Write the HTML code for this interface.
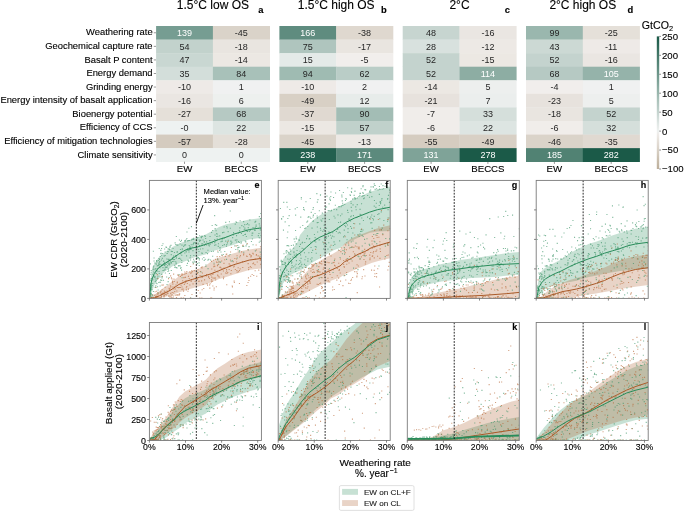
<!DOCTYPE html><html><head><meta charset="utf-8"><style>html,body{margin:0;padding:0;background:#fff}svg{display:block;will-change:transform}text{font-family:"Liberation Sans",sans-serif}</style></head><body>
<svg width="685" height="511" viewBox="0 0 685 511">
<rect width="685" height="511" fill="#fff"/>
<rect x="156.10" y="26.00" width="57.10" height="13.87" fill="#769d92"/>
<rect x="212.90" y="26.00" width="57.10" height="13.87" fill="#dad3c9"/>
<rect x="156.10" y="39.57" width="57.10" height="13.87" fill="#c2d2cc"/>
<rect x="212.90" y="39.57" width="57.10" height="13.87" fill="#e9e5e0"/>
<rect x="156.10" y="53.14" width="57.10" height="13.87" fill="#c9d7d2"/>
<rect x="212.90" y="53.14" width="57.10" height="13.87" fill="#ece8e3"/>
<rect x="156.10" y="66.71" width="57.10" height="13.87" fill="#d3deda"/>
<rect x="212.90" y="66.71" width="57.10" height="13.87" fill="#a8c1b9"/>
<rect x="156.10" y="80.28" width="57.10" height="13.87" fill="#eeeae7"/>
<rect x="212.90" y="80.28" width="57.10" height="13.87" fill="#f0f1f1"/>
<rect x="156.10" y="93.85" width="57.10" height="13.87" fill="#eae6e2"/>
<rect x="212.90" y="93.85" width="57.10" height="13.87" fill="#edf0ee"/>
<rect x="156.10" y="107.42" width="57.10" height="13.87" fill="#e5e0d9"/>
<rect x="212.90" y="107.42" width="57.10" height="13.87" fill="#b6c9c3"/>
<rect x="156.10" y="120.99" width="57.10" height="13.87" fill="#eef2f1"/>
<rect x="212.90" y="120.99" width="57.10" height="13.87" fill="#dde5e2"/>
<rect x="156.10" y="134.56" width="57.10" height="13.87" fill="#d4cbbf"/>
<rect x="212.90" y="134.56" width="57.10" height="13.87" fill="#e4dfd8"/>
<rect x="156.10" y="148.13" width="57.10" height="13.87" fill="#eef2f1"/>
<rect x="212.90" y="148.13" width="57.10" height="13.87" fill="#eef2f1"/>
<text x="184.50" y="35.98" font-size="9" fill="#ffffff" stroke="none" text-anchor="middle">139</text>
<text x="241.30" y="35.98" font-size="9" fill="#262626" stroke="none" text-anchor="middle">-45</text>
<text x="184.50" y="49.56" font-size="9" fill="#262626" stroke="none" text-anchor="middle">54</text>
<text x="241.30" y="49.56" font-size="9" fill="#262626" stroke="none" text-anchor="middle">-18</text>
<text x="184.50" y="63.12" font-size="9" fill="#262626" stroke="none" text-anchor="middle">47</text>
<text x="241.30" y="63.12" font-size="9" fill="#262626" stroke="none" text-anchor="middle">-14</text>
<text x="184.50" y="76.70" font-size="9" fill="#262626" stroke="none" text-anchor="middle">35</text>
<text x="241.30" y="76.70" font-size="9" fill="#262626" stroke="none" text-anchor="middle">84</text>
<text x="184.50" y="90.27" font-size="9" fill="#262626" stroke="none" text-anchor="middle">-10</text>
<text x="241.30" y="90.27" font-size="9" fill="#262626" stroke="none" text-anchor="middle">1</text>
<text x="184.50" y="103.83" font-size="9" fill="#262626" stroke="none" text-anchor="middle">-16</text>
<text x="241.30" y="103.83" font-size="9" fill="#262626" stroke="none" text-anchor="middle">6</text>
<text x="184.50" y="117.41" font-size="9" fill="#262626" stroke="none" text-anchor="middle">-27</text>
<text x="241.30" y="117.41" font-size="9" fill="#262626" stroke="none" text-anchor="middle">68</text>
<text x="184.50" y="130.97" font-size="9" fill="#262626" stroke="none" text-anchor="middle">-0</text>
<text x="241.30" y="130.97" font-size="9" fill="#262626" stroke="none" text-anchor="middle">22</text>
<text x="184.50" y="144.54" font-size="9" fill="#262626" stroke="none" text-anchor="middle">-57</text>
<text x="241.30" y="144.54" font-size="9" fill="#262626" stroke="none" text-anchor="middle">-28</text>
<text x="184.50" y="158.11" font-size="9" fill="#262626" stroke="none" text-anchor="middle">0</text>
<text x="241.30" y="158.11" font-size="9" fill="#262626" stroke="none" text-anchor="middle">0</text>
<line x1="184.50" y1="161.70" x2="184.50" y2="163.90" stroke="#555" stroke-width="0.6"/>
<text x="184.50" y="172.3" font-size="9.7" fill="#000" text-anchor="middle" stroke="#000" stroke-width="0.12">EW</text>
<line x1="241.30" y1="161.70" x2="241.30" y2="163.90" stroke="#555" stroke-width="0.6"/>
<text x="241.30" y="172.3" font-size="9.7" fill="#000" text-anchor="middle" stroke="#000" stroke-width="0.12">BECCS</text>
<text x="212.90" y="9.3" font-size="12" fill="#000" text-anchor="middle" stroke="#000" stroke-width="0.12">1.5°C low OS</text>
<text x="263.40" y="13.4" font-size="9.4" font-weight="bold" fill="#000" text-anchor="end" stroke="#000" stroke-width="0.12">a</text>
<rect x="279.40" y="26.00" width="57.10" height="13.87" fill="#5f8c7f"/>
<rect x="336.20" y="26.00" width="57.10" height="13.87" fill="#dfd8cf"/>
<rect x="279.40" y="39.57" width="57.10" height="13.87" fill="#afc5be"/>
<rect x="336.20" y="39.57" width="57.10" height="13.87" fill="#e9e5e0"/>
<rect x="279.40" y="53.14" width="57.10" height="13.87" fill="#e4eae8"/>
<rect x="336.20" y="53.14" width="57.10" height="13.87" fill="#f1eeec"/>
<rect x="279.40" y="66.71" width="57.10" height="13.87" fill="#9fbbb2"/>
<rect x="336.20" y="66.71" width="57.10" height="13.87" fill="#bacdc7"/>
<rect x="279.40" y="80.28" width="57.10" height="13.87" fill="#eeeae7"/>
<rect x="336.20" y="80.28" width="57.10" height="13.87" fill="#f0f1f1"/>
<rect x="279.40" y="93.85" width="57.10" height="13.87" fill="#d8d0c5"/>
<rect x="336.20" y="93.85" width="57.10" height="13.87" fill="#e7ecea"/>
<rect x="279.40" y="107.42" width="57.10" height="13.87" fill="#e0d9d1"/>
<rect x="336.20" y="107.42" width="57.10" height="13.87" fill="#a3bdb5"/>
<rect x="279.40" y="120.99" width="57.10" height="13.87" fill="#ece8e3"/>
<rect x="336.20" y="120.99" width="57.10" height="13.87" fill="#c0d1cb"/>
<rect x="279.40" y="134.56" width="57.10" height="13.87" fill="#dad3c9"/>
<rect x="336.20" y="134.56" width="57.10" height="13.87" fill="#ede9e5"/>
<rect x="279.40" y="148.13" width="57.10" height="13.87" fill="#23604f"/>
<rect x="336.20" y="148.13" width="57.10" height="13.87" fill="#5c8a7d"/>
<text x="307.80" y="35.98" font-size="9" fill="#ffffff" stroke="none" text-anchor="middle">166</text>
<text x="364.60" y="35.98" font-size="9" fill="#262626" stroke="none" text-anchor="middle">-38</text>
<text x="307.80" y="49.56" font-size="9" fill="#262626" stroke="none" text-anchor="middle">75</text>
<text x="364.60" y="49.56" font-size="9" fill="#262626" stroke="none" text-anchor="middle">-17</text>
<text x="307.80" y="63.12" font-size="9" fill="#262626" stroke="none" text-anchor="middle">15</text>
<text x="364.60" y="63.12" font-size="9" fill="#262626" stroke="none" text-anchor="middle">-5</text>
<text x="307.80" y="76.70" font-size="9" fill="#262626" stroke="none" text-anchor="middle">94</text>
<text x="364.60" y="76.70" font-size="9" fill="#262626" stroke="none" text-anchor="middle">62</text>
<text x="307.80" y="90.27" font-size="9" fill="#262626" stroke="none" text-anchor="middle">-10</text>
<text x="364.60" y="90.27" font-size="9" fill="#262626" stroke="none" text-anchor="middle">2</text>
<text x="307.80" y="103.83" font-size="9" fill="#262626" stroke="none" text-anchor="middle">-49</text>
<text x="364.60" y="103.83" font-size="9" fill="#262626" stroke="none" text-anchor="middle">12</text>
<text x="307.80" y="117.41" font-size="9" fill="#262626" stroke="none" text-anchor="middle">-37</text>
<text x="364.60" y="117.41" font-size="9" fill="#262626" stroke="none" text-anchor="middle">90</text>
<text x="307.80" y="130.97" font-size="9" fill="#262626" stroke="none" text-anchor="middle">-15</text>
<text x="364.60" y="130.97" font-size="9" fill="#262626" stroke="none" text-anchor="middle">57</text>
<text x="307.80" y="144.54" font-size="9" fill="#262626" stroke="none" text-anchor="middle">-45</text>
<text x="364.60" y="144.54" font-size="9" fill="#262626" stroke="none" text-anchor="middle">-13</text>
<text x="307.80" y="158.11" font-size="9" fill="#ffffff" stroke="none" text-anchor="middle">238</text>
<text x="364.60" y="158.11" font-size="9" fill="#ffffff" stroke="none" text-anchor="middle">171</text>
<line x1="307.80" y1="161.70" x2="307.80" y2="163.90" stroke="#555" stroke-width="0.6"/>
<text x="307.80" y="172.3" font-size="9.7" fill="#000" text-anchor="middle" stroke="#000" stroke-width="0.12">EW</text>
<line x1="364.60" y1="161.70" x2="364.60" y2="163.90" stroke="#555" stroke-width="0.6"/>
<text x="364.60" y="172.3" font-size="9.7" fill="#000" text-anchor="middle" stroke="#000" stroke-width="0.12">BECCS</text>
<text x="336.20" y="9.3" font-size="12" fill="#000" text-anchor="middle" stroke="#000" stroke-width="0.12">1.5°C high OS</text>
<text x="386.70" y="13.4" font-size="9.4" font-weight="bold" fill="#000" text-anchor="end" stroke="#000" stroke-width="0.12">b</text>
<rect x="402.70" y="26.00" width="57.10" height="13.87" fill="#c7d5d0"/>
<rect x="459.50" y="26.00" width="57.10" height="13.87" fill="#eae6e2"/>
<rect x="402.70" y="39.57" width="57.10" height="13.87" fill="#d8e1de"/>
<rect x="459.50" y="39.57" width="57.10" height="13.87" fill="#ede9e5"/>
<rect x="402.70" y="53.14" width="57.10" height="13.87" fill="#c4d3ce"/>
<rect x="459.50" y="53.14" width="57.10" height="13.87" fill="#ece8e3"/>
<rect x="402.70" y="66.71" width="57.10" height="13.87" fill="#c4d3ce"/>
<rect x="459.50" y="66.71" width="57.10" height="13.87" fill="#8dada3"/>
<rect x="402.70" y="80.28" width="57.10" height="13.87" fill="#ece8e3"/>
<rect x="459.50" y="80.28" width="57.10" height="13.87" fill="#edefee"/>
<rect x="402.70" y="93.85" width="57.10" height="13.87" fill="#e7e2dd"/>
<rect x="459.50" y="93.85" width="57.10" height="13.87" fill="#ebeeed"/>
<rect x="402.70" y="107.42" width="57.10" height="13.87" fill="#f0edea"/>
<rect x="459.50" y="107.42" width="57.10" height="13.87" fill="#d5dfdb"/>
<rect x="402.70" y="120.99" width="57.10" height="13.87" fill="#f0edea"/>
<rect x="459.50" y="120.99" width="57.10" height="13.87" fill="#dde5e2"/>
<rect x="402.70" y="134.56" width="57.10" height="13.87" fill="#d5ccc0"/>
<rect x="459.50" y="134.56" width="57.10" height="13.87" fill="#d8d0c5"/>
<rect x="402.70" y="148.13" width="57.10" height="13.87" fill="#7fa398"/>
<rect x="459.50" y="148.13" width="57.10" height="13.87" fill="#1b5a48"/>
<text x="431.10" y="35.98" font-size="9" fill="#262626" stroke="none" text-anchor="middle">48</text>
<text x="487.90" y="35.98" font-size="9" fill="#262626" stroke="none" text-anchor="middle">-16</text>
<text x="431.10" y="49.56" font-size="9" fill="#262626" stroke="none" text-anchor="middle">28</text>
<text x="487.90" y="49.56" font-size="9" fill="#262626" stroke="none" text-anchor="middle">-12</text>
<text x="431.10" y="63.12" font-size="9" fill="#262626" stroke="none" text-anchor="middle">52</text>
<text x="487.90" y="63.12" font-size="9" fill="#262626" stroke="none" text-anchor="middle">-15</text>
<text x="431.10" y="76.70" font-size="9" fill="#262626" stroke="none" text-anchor="middle">52</text>
<text x="487.90" y="76.70" font-size="9" fill="#ffffff" stroke="none" text-anchor="middle">114</text>
<text x="431.10" y="90.27" font-size="9" fill="#262626" stroke="none" text-anchor="middle">-14</text>
<text x="487.90" y="90.27" font-size="9" fill="#262626" stroke="none" text-anchor="middle">5</text>
<text x="431.10" y="103.83" font-size="9" fill="#262626" stroke="none" text-anchor="middle">-21</text>
<text x="487.90" y="103.83" font-size="9" fill="#262626" stroke="none" text-anchor="middle">7</text>
<text x="431.10" y="117.41" font-size="9" fill="#262626" stroke="none" text-anchor="middle">-7</text>
<text x="487.90" y="117.41" font-size="9" fill="#262626" stroke="none" text-anchor="middle">33</text>
<text x="431.10" y="130.97" font-size="9" fill="#262626" stroke="none" text-anchor="middle">-6</text>
<text x="487.90" y="130.97" font-size="9" fill="#262626" stroke="none" text-anchor="middle">22</text>
<text x="431.10" y="144.54" font-size="9" fill="#262626" stroke="none" text-anchor="middle">-55</text>
<text x="487.90" y="144.54" font-size="9" fill="#262626" stroke="none" text-anchor="middle">-49</text>
<text x="431.10" y="158.11" font-size="9" fill="#ffffff" stroke="none" text-anchor="middle">131</text>
<text x="487.90" y="158.11" font-size="9" fill="#ffffff" stroke="none" text-anchor="middle">278</text>
<line x1="431.10" y1="161.70" x2="431.10" y2="163.90" stroke="#555" stroke-width="0.6"/>
<text x="431.10" y="172.3" font-size="9.7" fill="#000" text-anchor="middle" stroke="#000" stroke-width="0.12">EW</text>
<line x1="487.90" y1="161.70" x2="487.90" y2="163.90" stroke="#555" stroke-width="0.6"/>
<text x="487.90" y="172.3" font-size="9.7" fill="#000" text-anchor="middle" stroke="#000" stroke-width="0.12">BECCS</text>
<text x="459.50" y="9.3" font-size="12" fill="#000" text-anchor="middle" stroke="#000" stroke-width="0.12">2°C</text>
<text x="510.00" y="13.4" font-size="9.4" font-weight="bold" fill="#000" text-anchor="end" stroke="#000" stroke-width="0.12">c</text>
<rect x="526.00" y="26.00" width="57.10" height="13.87" fill="#9ab7ae"/>
<rect x="582.80" y="26.00" width="57.10" height="13.87" fill="#e5e0d9"/>
<rect x="526.00" y="39.57" width="57.10" height="13.87" fill="#ccd9d4"/>
<rect x="582.80" y="39.57" width="57.10" height="13.87" fill="#eeeae7"/>
<rect x="526.00" y="53.14" width="57.10" height="13.87" fill="#c4d3ce"/>
<rect x="582.80" y="53.14" width="57.10" height="13.87" fill="#eae6e2"/>
<rect x="526.00" y="66.71" width="57.10" height="13.87" fill="#b6c9c3"/>
<rect x="582.80" y="66.71" width="57.10" height="13.87" fill="#95b3aa"/>
<rect x="526.00" y="80.28" width="57.10" height="13.87" fill="#f1eeec"/>
<rect x="582.80" y="80.28" width="57.10" height="13.87" fill="#f0f1f1"/>
<rect x="526.00" y="93.85" width="57.10" height="13.87" fill="#e7e2dd"/>
<rect x="582.80" y="93.85" width="57.10" height="13.87" fill="#edefee"/>
<rect x="526.00" y="107.42" width="57.10" height="13.87" fill="#e9e5e0"/>
<rect x="582.80" y="107.42" width="57.10" height="13.87" fill="#c4d3ce"/>
<rect x="526.00" y="120.99" width="57.10" height="13.87" fill="#f0edea"/>
<rect x="582.80" y="120.99" width="57.10" height="13.87" fill="#d5dfdb"/>
<rect x="526.00" y="134.56" width="57.10" height="13.87" fill="#dad3c9"/>
<rect x="582.80" y="134.56" width="57.10" height="13.87" fill="#e0d9d1"/>
<rect x="526.00" y="148.13" width="57.10" height="13.87" fill="#518273"/>
<rect x="582.80" y="148.13" width="57.10" height="13.87" fill="#1b5a48"/>
<text x="554.40" y="35.98" font-size="9" fill="#262626" stroke="none" text-anchor="middle">99</text>
<text x="611.20" y="35.98" font-size="9" fill="#262626" stroke="none" text-anchor="middle">-25</text>
<text x="554.40" y="49.56" font-size="9" fill="#262626" stroke="none" text-anchor="middle">43</text>
<text x="611.20" y="49.56" font-size="9" fill="#262626" stroke="none" text-anchor="middle">-11</text>
<text x="554.40" y="63.12" font-size="9" fill="#262626" stroke="none" text-anchor="middle">52</text>
<text x="611.20" y="63.12" font-size="9" fill="#262626" stroke="none" text-anchor="middle">-16</text>
<text x="554.40" y="76.70" font-size="9" fill="#262626" stroke="none" text-anchor="middle">68</text>
<text x="611.20" y="76.70" font-size="9" fill="#ffffff" stroke="none" text-anchor="middle">105</text>
<text x="554.40" y="90.27" font-size="9" fill="#262626" stroke="none" text-anchor="middle">-4</text>
<text x="611.20" y="90.27" font-size="9" fill="#262626" stroke="none" text-anchor="middle">1</text>
<text x="554.40" y="103.83" font-size="9" fill="#262626" stroke="none" text-anchor="middle">-23</text>
<text x="611.20" y="103.83" font-size="9" fill="#262626" stroke="none" text-anchor="middle">5</text>
<text x="554.40" y="117.41" font-size="9" fill="#262626" stroke="none" text-anchor="middle">-18</text>
<text x="611.20" y="117.41" font-size="9" fill="#262626" stroke="none" text-anchor="middle">52</text>
<text x="554.40" y="130.97" font-size="9" fill="#262626" stroke="none" text-anchor="middle">-6</text>
<text x="611.20" y="130.97" font-size="9" fill="#262626" stroke="none" text-anchor="middle">32</text>
<text x="554.40" y="144.54" font-size="9" fill="#262626" stroke="none" text-anchor="middle">-46</text>
<text x="611.20" y="144.54" font-size="9" fill="#262626" stroke="none" text-anchor="middle">-35</text>
<text x="554.40" y="158.11" font-size="9" fill="#ffffff" stroke="none" text-anchor="middle">185</text>
<text x="611.20" y="158.11" font-size="9" fill="#ffffff" stroke="none" text-anchor="middle">282</text>
<line x1="554.40" y1="161.70" x2="554.40" y2="163.90" stroke="#555" stroke-width="0.6"/>
<text x="554.40" y="172.3" font-size="9.7" fill="#000" text-anchor="middle" stroke="#000" stroke-width="0.12">EW</text>
<line x1="611.20" y1="161.70" x2="611.20" y2="163.90" stroke="#555" stroke-width="0.6"/>
<text x="611.20" y="172.3" font-size="9.7" fill="#000" text-anchor="middle" stroke="#000" stroke-width="0.12">BECCS</text>
<text x="582.80" y="9.3" font-size="12" fill="#000" text-anchor="middle" stroke="#000" stroke-width="0.12">2°C high OS</text>
<text x="633.30" y="13.4" font-size="9.4" font-weight="bold" fill="#000" text-anchor="end" stroke="#000" stroke-width="0.12">d</text>
<text x="152.6" y="35.48" font-size="9.4" fill="#000" text-anchor="end" stroke="#000" stroke-width="0.12">Weathering rate</text>
<line x1="153.8" y1="32.78" x2="156" y2="32.78" stroke="#555" stroke-width="0.6"/>
<text x="152.6" y="49.06" font-size="9.4" fill="#000" text-anchor="end" stroke="#000" stroke-width="0.12">Geochemical capture rate</text>
<line x1="153.8" y1="46.36" x2="156" y2="46.36" stroke="#555" stroke-width="0.6"/>
<text x="152.6" y="62.62" font-size="9.4" fill="#000" text-anchor="end" stroke="#000" stroke-width="0.12">Basalt P content</text>
<line x1="153.8" y1="59.92" x2="156" y2="59.92" stroke="#555" stroke-width="0.6"/>
<text x="152.6" y="76.20" font-size="9.4" fill="#000" text-anchor="end" stroke="#000" stroke-width="0.12">Energy demand</text>
<line x1="153.8" y1="73.50" x2="156" y2="73.50" stroke="#555" stroke-width="0.6"/>
<text x="152.6" y="89.77" font-size="9.4" fill="#000" text-anchor="end" stroke="#000" stroke-width="0.12">Grinding energy</text>
<line x1="153.8" y1="87.06" x2="156" y2="87.06" stroke="#555" stroke-width="0.6"/>
<text x="152.6" y="103.33" font-size="9.4" fill="#000" text-anchor="end" stroke="#000" stroke-width="0.12">Energy intensity of basalt application</text>
<line x1="153.8" y1="100.63" x2="156" y2="100.63" stroke="#555" stroke-width="0.6"/>
<text x="152.6" y="116.91" font-size="9.4" fill="#000" text-anchor="end" stroke="#000" stroke-width="0.12">Bioenergy potential</text>
<line x1="153.8" y1="114.20" x2="156" y2="114.20" stroke="#555" stroke-width="0.6"/>
<text x="152.6" y="130.47" font-size="9.4" fill="#000" text-anchor="end" stroke="#000" stroke-width="0.12">Efficiency of CCS</text>
<line x1="153.8" y1="127.78" x2="156" y2="127.78" stroke="#555" stroke-width="0.6"/>
<text x="152.6" y="144.04" font-size="9.4" fill="#000" text-anchor="end" stroke="#000" stroke-width="0.12">Efficiency of mitigation technologies</text>
<line x1="153.8" y1="141.34" x2="156" y2="141.34" stroke="#555" stroke-width="0.6"/>
<text x="152.6" y="157.61" font-size="9.4" fill="#000" text-anchor="end" stroke="#000" stroke-width="0.12">Climate sensitivity</text>
<line x1="153.8" y1="154.91" x2="156" y2="154.91" stroke="#555" stroke-width="0.6"/>
<defs><linearGradient id="cbg" x1="0" y1="1" x2="0" y2="0">
<stop offset="0.0000" stop-color="#bcae9a"/>
<stop offset="0.0286" stop-color="#c2b5a2"/>
<stop offset="0.0571" stop-color="#c7bbaa"/>
<stop offset="0.0857" stop-color="#ccc2b3"/>
<stop offset="0.1143" stop-color="#d3cabd"/>
<stop offset="0.1429" stop-color="#d8d0c5"/>
<stop offset="0.1714" stop-color="#ded7ce"/>
<stop offset="0.2000" stop-color="#e3ddd6"/>
<stop offset="0.2286" stop-color="#e8e4de"/>
<stop offset="0.2571" stop-color="#eeeae7"/>
<stop offset="0.2857" stop-color="#eef2f1"/>
<stop offset="0.3143" stop-color="#e8ecea"/>
<stop offset="0.3429" stop-color="#e0e7e5"/>
<stop offset="0.3714" stop-color="#d7e0dd"/>
<stop offset="0.4000" stop-color="#cddad6"/>
<stop offset="0.4286" stop-color="#c5d4cf"/>
<stop offset="0.4571" stop-color="#bacdc7"/>
<stop offset="0.4857" stop-color="#b4c8c2"/>
<stop offset="0.5143" stop-color="#acc3bb"/>
<stop offset="0.5429" stop-color="#a3bdb5"/>
<stop offset="0.5714" stop-color="#99b6ad"/>
<stop offset="0.6000" stop-color="#91b0a6"/>
<stop offset="0.6286" stop-color="#88aaa0"/>
<stop offset="0.6571" stop-color="#7fa398"/>
<stop offset="0.6857" stop-color="#769d92"/>
<stop offset="0.7143" stop-color="#6e978b"/>
<stop offset="0.7429" stop-color="#649083"/>
<stop offset="0.7714" stop-color="#5c8a7d"/>
<stop offset="0.8000" stop-color="#548476"/>
<stop offset="0.8286" stop-color="#4c7e6f"/>
<stop offset="0.8571" stop-color="#447869"/>
<stop offset="0.8857" stop-color="#3b7262"/>
<stop offset="0.9143" stop-color="#326b5a"/>
<stop offset="0.9429" stop-color="#296554"/>
<stop offset="0.9714" stop-color="#215f4d"/>
<stop offset="1.0000" stop-color="#1b5a48"/>
</linearGradient></defs>
<rect x="656.8" y="36.4" width="2.4" height="132.60" fill="url(#cbg)"/>
<line x1="659.20" y1="36.40" x2="661.00" y2="36.40" stroke="#444" stroke-width="0.6"/>
<text x="662" y="39.80" font-size="9.6" fill="#000" stroke="#000" stroke-width="0.12">250</text>
<line x1="659.20" y1="55.34" x2="661.00" y2="55.34" stroke="#444" stroke-width="0.6"/>
<text x="662" y="58.74" font-size="9.6" fill="#000" stroke="#000" stroke-width="0.12">200</text>
<line x1="659.20" y1="74.29" x2="661.00" y2="74.29" stroke="#444" stroke-width="0.6"/>
<text x="662" y="77.69" font-size="9.6" fill="#000" stroke="#000" stroke-width="0.12">150</text>
<line x1="659.20" y1="93.23" x2="661.00" y2="93.23" stroke="#444" stroke-width="0.6"/>
<text x="662" y="96.63" font-size="9.6" fill="#000" stroke="#000" stroke-width="0.12">100</text>
<line x1="659.20" y1="112.17" x2="661.00" y2="112.17" stroke="#444" stroke-width="0.6"/>
<text x="662" y="115.57" font-size="9.6" fill="#000" stroke="#000" stroke-width="0.12">50</text>
<line x1="659.20" y1="131.11" x2="661.00" y2="131.11" stroke="#444" stroke-width="0.6"/>
<text x="662" y="134.51" font-size="9.6" fill="#000" stroke="#000" stroke-width="0.12">0</text>
<line x1="659.20" y1="150.06" x2="661.00" y2="150.06" stroke="#444" stroke-width="0.6"/>
<text x="662" y="153.46" font-size="9.6" fill="#000" stroke="#000" stroke-width="0.12">−50</text>
<line x1="659.20" y1="169.00" x2="661.00" y2="169.00" stroke="#444" stroke-width="0.6"/>
<text x="662" y="172.40" font-size="9.6" fill="#000" stroke="#000" stroke-width="0.12">−100</text>
<text x="641.8" y="29.2" font-size="10.6" fill="#000" stroke="#000" stroke-width="0.12">GtCO<tspan font-size="7.4" dy="1.9">2</tspan></text>

<clipPath id="ce"><rect x="149.40" y="180.40" width="112.0" height="118.0"/></clipPath>
<g clip-path="url(#ce)">
<polygon points="149.40,297.00 150.10,284.00 151.10,274.60 153.20,266.10 156.40,260.80 159.50,256.60 164.80,252.40 170.10,249.20 172.00,247.20 178.80,243.80 185.70,241.00 192.50,239.00 199.40,236.90 206.20,234.30 211.00,231.50 218.60,227.30 226.30,224.20 233.90,222.70 241.50,221.20 249.20,219.60 261.40,218.00 261.40,237.80 249.20,239.50 241.50,241.80 233.90,244.80 226.30,247.10 218.60,249.40 211.00,251.50 206.20,254.20 199.40,256.10 192.50,258.10 185.70,260.90 178.80,263.60 172.00,266.50 170.10,268.30 164.80,271.40 160.60,275.70 157.40,279.90 154.30,285.10 152.20,291.50 150.60,297.80 149.40,298.40" fill="rgb(40,140,90)" fill-opacity="0.26"/>
<polygon points="149.40,298.40 152.10,296.50 156.70,293.00 164.80,287.00 172.00,281.50 178.80,276.50 185.70,272.80 192.50,270.50 199.40,268.40 206.20,265.30 211.00,261.50 218.60,257.80 226.30,255.50 233.90,253.20 241.50,250.90 249.20,249.40 261.40,247.80 261.40,268.40 249.20,270.00 241.50,272.30 233.90,274.60 226.30,276.90 218.60,279.20 211.00,282.20 206.20,284.20 199.40,286.20 192.50,288.30 185.70,290.30 178.80,292.40 172.00,295.10 164.80,297.00 156.70,298.20 149.40,298.40" fill="rgb(170,90,40)" fill-opacity="0.26"/>
<path d="M154.8 286.9h1.1v1.1h-1.1zM217.3 235.7h1.1v1.1h-1.1zM227.7 239.7h1.1v1.1h-1.1zM150.6 288.7h1.1v1.1h-1.1zM251.8 232.5h1.1v1.1h-1.1zM158.4 262.6h1.1v1.1h-1.1zM157.4 275.7h1.1v1.1h-1.1zM158.9 258.8h1.1v1.1h-1.1zM193.2 237.7h1.1v1.1h-1.1zM205.4 264.4h1.1v1.1h-1.1zM223.6 237.7h1.1v1.1h-1.1zM157.7 260.0h1.1v1.1h-1.1zM180.5 266.9h1.1v1.1h-1.1zM244.2 224.1h1.1v1.1h-1.1zM200.1 239.7h1.1v1.1h-1.1zM223.8 244.1h1.1v1.1h-1.1zM189.8 249.0h1.1v1.1h-1.1zM236.3 239.3h1.1v1.1h-1.1zM229.8 227.7h1.1v1.1h-1.1zM205.8 244.5h1.1v1.1h-1.1zM214.8 224.1h1.1v1.1h-1.1zM188.1 260.5h1.1v1.1h-1.1zM209.2 240.0h1.1v1.1h-1.1zM213.5 262.7h1.1v1.1h-1.1zM159.5 263.8h1.1v1.1h-1.1zM201.7 252.8h1.1v1.1h-1.1zM168.9 273.0h1.1v1.1h-1.1zM189.5 245.9h1.1v1.1h-1.1zM158.8 281.7h1.1v1.1h-1.1zM214.6 228.1h1.1v1.1h-1.1zM207.0 253.1h1.1v1.1h-1.1zM155.7 270.3h1.1v1.1h-1.1zM239.3 227.3h1.1v1.1h-1.1zM152.2 295.4h1.1v1.1h-1.1zM151.2 286.6h1.1v1.1h-1.1zM175.6 263.4h1.1v1.1h-1.1zM181.2 254.7h1.1v1.1h-1.1zM196.3 247.3h1.1v1.1h-1.1zM176.7 251.0h1.1v1.1h-1.1zM198.6 239.5h1.1v1.1h-1.1zM214.2 242.1h1.1v1.1h-1.1zM260.8 232.5h1.1v1.1h-1.1zM166.3 258.4h1.1v1.1h-1.1zM259.7 240.6h1.1v1.1h-1.1zM151.7 284.9h1.1v1.1h-1.1zM236.1 222.0h1.1v1.1h-1.1zM170.7 262.7h1.1v1.1h-1.1zM157.1 277.4h1.1v1.1h-1.1zM150.0 296.0h1.1v1.1h-1.1zM154.7 278.4h1.1v1.1h-1.1zM149.7 296.0h1.1v1.1h-1.1zM156.5 283.2h1.1v1.1h-1.1zM180.4 252.0h1.1v1.1h-1.1zM192.5 244.1h1.1v1.1h-1.1zM202.3 248.2h1.1v1.1h-1.1zM196.9 262.9h1.1v1.1h-1.1zM196.2 233.9h1.1v1.1h-1.1zM174.8 266.5h1.1v1.1h-1.1zM152.0 294.8h1.1v1.1h-1.1zM155.3 296.8h1.1v1.1h-1.1zM152.3 273.7h1.1v1.1h-1.1zM255.1 220.8h1.1v1.1h-1.1zM156.3 261.3h1.1v1.1h-1.1zM218.0 263.7h1.1v1.1h-1.1zM233.0 232.1h1.1v1.1h-1.1zM225.2 240.6h1.1v1.1h-1.1zM164.4 264.5h1.1v1.1h-1.1zM150.2 297.4h1.1v1.1h-1.1zM153.7 275.5h1.1v1.1h-1.1zM150.7 296.3h1.1v1.1h-1.1zM150.6 287.2h1.1v1.1h-1.1zM236.0 235.1h1.1v1.1h-1.1zM254.6 229.8h1.1v1.1h-1.1zM211.0 232.0h1.1v1.1h-1.1zM258.7 241.7h1.1v1.1h-1.1zM153.5 260.5h1.1v1.1h-1.1zM166.5 253.0h1.1v1.1h-1.1zM157.6 289.5h1.1v1.1h-1.1zM201.4 235.5h1.1v1.1h-1.1zM214.5 234.5h1.1v1.1h-1.1zM163.2 261.0h1.1v1.1h-1.1zM180.1 253.2h1.1v1.1h-1.1zM155.8 273.0h1.1v1.1h-1.1zM234.7 223.6h1.1v1.1h-1.1zM149.7 294.3h1.1v1.1h-1.1zM178.1 257.9h1.1v1.1h-1.1zM163.1 261.0h1.1v1.1h-1.1zM165.4 246.6h1.1v1.1h-1.1zM150.1 297.4h1.1v1.1h-1.1zM236.7 257.4h1.1v1.1h-1.1zM170.7 254.1h1.1v1.1h-1.1zM223.6 226.4h1.1v1.1h-1.1zM175.8 267.1h1.1v1.1h-1.1zM186.3 237.9h1.1v1.1h-1.1zM248.9 230.7h1.1v1.1h-1.1zM196.5 257.6h1.1v1.1h-1.1zM175.2 261.2h1.1v1.1h-1.1zM247.0 230.8h1.1v1.1h-1.1zM201.2 252.5h1.1v1.1h-1.1zM186.3 265.0h1.1v1.1h-1.1zM151.7 294.2h1.1v1.1h-1.1zM159.5 276.5h1.1v1.1h-1.1zM169.1 263.8h1.1v1.1h-1.1zM211.1 250.9h1.1v1.1h-1.1zM212.1 255.7h1.1v1.1h-1.1zM172.8 258.9h1.1v1.1h-1.1zM175.8 235.9h1.1v1.1h-1.1zM190.7 244.2h1.1v1.1h-1.1zM212.1 229.9h1.1v1.1h-1.1zM255.0 221.1h1.1v1.1h-1.1zM164.1 262.7h1.1v1.1h-1.1zM150.4 297.4h1.1v1.1h-1.1zM245.4 229.3h1.1v1.1h-1.1zM206.1 241.3h1.1v1.1h-1.1zM190.0 255.2h1.1v1.1h-1.1zM187.2 240.5h1.1v1.1h-1.1zM255.6 224.5h1.1v1.1h-1.1zM226.2 226.0h1.1v1.1h-1.1zM210.0 259.5h1.1v1.1h-1.1zM177.9 265.3h1.1v1.1h-1.1zM158.0 265.0h1.1v1.1h-1.1zM203.7 259.9h1.1v1.1h-1.1zM158.5 271.0h1.1v1.1h-1.1zM174.3 266.8h1.1v1.1h-1.1zM204.2 235.1h1.1v1.1h-1.1zM154.7 281.0h1.1v1.1h-1.1zM222.0 237.8h1.1v1.1h-1.1zM166.7 252.9h1.1v1.1h-1.1zM174.2 264.8h1.1v1.1h-1.1zM153.3 268.5h1.1v1.1h-1.1zM224.2 251.0h1.1v1.1h-1.1zM178.4 265.1h1.1v1.1h-1.1zM208.4 244.3h1.1v1.1h-1.1zM201.0 237.2h1.1v1.1h-1.1zM220.4 251.5h1.1v1.1h-1.1zM164.1 248.5h1.1v1.1h-1.1zM258.4 232.9h1.1v1.1h-1.1zM203.7 241.1h1.1v1.1h-1.1zM214.0 244.7h1.1v1.1h-1.1zM257.8 235.1h1.1v1.1h-1.1zM221.6 239.3h1.1v1.1h-1.1zM189.1 248.1h1.1v1.1h-1.1zM158.9 266.5h1.1v1.1h-1.1zM189.8 246.9h1.1v1.1h-1.1zM237.8 232.7h1.1v1.1h-1.1zM246.2 243.7h1.1v1.1h-1.1zM243.1 245.9h1.1v1.1h-1.1zM229.7 210.5h1.1v1.1h-1.1zM219.5 247.3h1.1v1.1h-1.1zM164.8 266.7h1.1v1.1h-1.1zM249.6 230.0h1.1v1.1h-1.1zM179.9 249.0h1.1v1.1h-1.1zM160.6 265.9h1.1v1.1h-1.1zM154.6 269.2h1.1v1.1h-1.1zM156.4 278.3h1.1v1.1h-1.1zM261.0 235.6h1.1v1.1h-1.1zM244.9 233.8h1.1v1.1h-1.1zM196.1 238.7h1.1v1.1h-1.1zM226.2 244.0h1.1v1.1h-1.1zM164.5 269.1h1.1v1.1h-1.1zM217.7 245.8h1.1v1.1h-1.1zM259.7 251.6h1.1v1.1h-1.1zM164.0 255.4h1.1v1.1h-1.1zM238.7 251.3h1.1v1.1h-1.1zM158.2 281.9h1.1v1.1h-1.1zM181.3 261.9h1.1v1.1h-1.1zM166.4 266.8h1.1v1.1h-1.1zM181.7 248.3h1.1v1.1h-1.1zM192.4 250.1h1.1v1.1h-1.1zM245.3 241.3h1.1v1.1h-1.1zM218.6 261.5h1.1v1.1h-1.1zM193.0 258.7h1.1v1.1h-1.1zM242.6 234.9h1.1v1.1h-1.1zM216.1 235.9h1.1v1.1h-1.1zM150.0 295.9h1.1v1.1h-1.1zM157.0 286.2h1.1v1.1h-1.1zM204.7 235.8h1.1v1.1h-1.1zM221.6 240.9h1.1v1.1h-1.1zM186.4 231.4h1.1v1.1h-1.1zM183.9 244.6h1.1v1.1h-1.1zM161.9 265.0h1.1v1.1h-1.1zM194.5 261.4h1.1v1.1h-1.1zM149.7 292.8h1.1v1.1h-1.1zM155.7 263.7h1.1v1.1h-1.1zM151.3 289.0h1.1v1.1h-1.1zM150.9 297.4h1.1v1.1h-1.1zM214.1 215.1h1.1v1.1h-1.1zM201.4 275.6h1.1v1.1h-1.1zM243.1 221.1h1.1v1.1h-1.1zM150.7 288.4h1.1v1.1h-1.1zM150.2 294.2h1.1v1.1h-1.1zM238.8 241.9h1.1v1.1h-1.1zM220.0 261.6h1.1v1.1h-1.1zM238.0 241.1h1.1v1.1h-1.1zM153.3 297.4h1.1v1.1h-1.1zM190.0 259.4h1.1v1.1h-1.1zM223.3 231.8h1.1v1.1h-1.1zM187.5 259.8h1.1v1.1h-1.1zM227.6 231.1h1.1v1.1h-1.1zM172.1 257.1h1.1v1.1h-1.1zM166.0 266.6h1.1v1.1h-1.1zM171.5 258.9h1.1v1.1h-1.1zM217.9 243.2h1.1v1.1h-1.1zM150.3 290.0h1.1v1.1h-1.1zM155.5 280.1h1.1v1.1h-1.1zM197.5 243.7h1.1v1.1h-1.1zM209.5 236.0h1.1v1.1h-1.1zM255.5 225.8h1.1v1.1h-1.1zM259.3 225.4h1.1v1.1h-1.1zM168.6 249.0h1.1v1.1h-1.1zM199.5 240.0h1.1v1.1h-1.1zM251.5 234.8h1.1v1.1h-1.1zM170.7 269.9h1.1v1.1h-1.1zM207.4 259.6h1.1v1.1h-1.1zM164.1 261.9h1.1v1.1h-1.1zM180.1 267.8h1.1v1.1h-1.1zM245.5 245.3h1.1v1.1h-1.1zM232.1 237.1h1.1v1.1h-1.1zM230.3 243.7h1.1v1.1h-1.1zM246.2 230.3h1.1v1.1h-1.1zM152.3 279.2h1.1v1.1h-1.1zM231.4 241.7h1.1v1.1h-1.1zM165.6 266.9h1.1v1.1h-1.1zM254.4 221.6h1.1v1.1h-1.1zM156.9 268.3h1.1v1.1h-1.1zM230.3 241.0h1.1v1.1h-1.1zM171.9 260.9h1.1v1.1h-1.1zM259.9 227.9h1.1v1.1h-1.1zM185.0 244.3h1.1v1.1h-1.1zM238.4 246.8h1.1v1.1h-1.1zM156.7 265.3h1.1v1.1h-1.1zM243.7 229.0h1.1v1.1h-1.1zM188.3 249.6h1.1v1.1h-1.1zM217.1 258.5h1.1v1.1h-1.1zM202.5 239.4h1.1v1.1h-1.1zM176.6 251.8h1.1v1.1h-1.1zM161.0 259.4h1.1v1.1h-1.1zM199.1 241.0h1.1v1.1h-1.1zM166.0 246.8h1.1v1.1h-1.1zM181.2 259.9h1.1v1.1h-1.1zM157.8 292.5h1.1v1.1h-1.1zM219.1 249.9h1.1v1.1h-1.1zM254.6 227.1h1.1v1.1h-1.1zM191.6 246.6h1.1v1.1h-1.1zM188.4 251.5h1.1v1.1h-1.1zM188.1 260.8h1.1v1.1h-1.1zM207.5 268.1h1.1v1.1h-1.1zM180.2 258.7h1.1v1.1h-1.1zM198.0 257.0h1.1v1.1h-1.1zM159.6 285.4h1.1v1.1h-1.1zM198.7 265.0h1.1v1.1h-1.1zM160.8 279.8h1.1v1.1h-1.1zM154.1 276.8h1.1v1.1h-1.1zM229.5 254.0h1.1v1.1h-1.1zM254.8 250.3h1.1v1.1h-1.1zM251.9 238.5h1.1v1.1h-1.1zM193.3 255.0h1.1v1.1h-1.1zM222.0 232.1h1.1v1.1h-1.1zM181.7 249.2h1.1v1.1h-1.1zM194.3 261.4h1.1v1.1h-1.1zM207.8 244.5h1.1v1.1h-1.1zM168.3 262.2h1.1v1.1h-1.1zM219.2 235.3h1.1v1.1h-1.1zM226.6 227.3h1.1v1.1h-1.1zM158.6 266.7h1.1v1.1h-1.1zM161.5 276.1h1.1v1.1h-1.1zM150.2 297.4h1.1v1.1h-1.1zM240.7 241.4h1.1v1.1h-1.1zM150.8 285.6h1.1v1.1h-1.1zM160.0 279.4h1.1v1.1h-1.1zM252.5 244.2h1.1v1.1h-1.1zM198.8 257.9h1.1v1.1h-1.1zM183.1 245.8h1.1v1.1h-1.1zM166.5 283.9h1.1v1.1h-1.1zM260.9 229.9h1.1v1.1h-1.1zM215.0 240.4h1.1v1.1h-1.1zM245.8 236.0h1.1v1.1h-1.1zM174.0 259.0h1.1v1.1h-1.1zM160.0 281.7h1.1v1.1h-1.1zM216.7 238.5h1.1v1.1h-1.1zM150.5 297.4h1.1v1.1h-1.1zM240.5 242.6h1.1v1.1h-1.1zM156.9 270.5h1.1v1.1h-1.1zM150.7 293.0h1.1v1.1h-1.1zM158.7 272.9h1.1v1.1h-1.1zM176.0 267.0h1.1v1.1h-1.1zM260.8 238.6h1.1v1.1h-1.1zM168.7 264.3h1.1v1.1h-1.1zM193.8 242.2h1.1v1.1h-1.1zM205.0 243.4h1.1v1.1h-1.1zM181.4 244.6h1.1v1.1h-1.1zM154.6 272.4h1.1v1.1h-1.1zM154.7 276.3h1.1v1.1h-1.1zM152.0 277.4h1.1v1.1h-1.1zM198.8 259.3h1.1v1.1h-1.1zM175.9 256.5h1.1v1.1h-1.1zM162.4 269.9h1.1v1.1h-1.1zM152.9 291.0h1.1v1.1h-1.1zM164.5 268.6h1.1v1.1h-1.1zM259.7 229.2h1.1v1.1h-1.1zM258.8 216.1h1.1v1.1h-1.1zM235.2 249.0h1.1v1.1h-1.1zM168.5 260.2h1.1v1.1h-1.1zM158.9 261.5h1.1v1.1h-1.1zM199.1 235.2h1.1v1.1h-1.1zM188.7 244.9h1.1v1.1h-1.1zM166.1 276.4h1.1v1.1h-1.1zM164.8 272.4h1.1v1.1h-1.1zM167.8 268.6h1.1v1.1h-1.1zM166.8 261.1h1.1v1.1h-1.1zM161.5 277.3h1.1v1.1h-1.1zM242.3 245.8h1.1v1.1h-1.1zM203.3 256.9h1.1v1.1h-1.1zM195.9 246.4h1.1v1.1h-1.1zM240.9 233.0h1.1v1.1h-1.1zM199.9 248.5h1.1v1.1h-1.1zM260.2 212.9h1.1v1.1h-1.1zM173.9 252.0h1.1v1.1h-1.1zM195.8 247.1h1.1v1.1h-1.1zM188.3 227.7h1.1v1.1h-1.1zM196.5 256.4h1.1v1.1h-1.1zM217.4 259.4h1.1v1.1h-1.1zM226.5 235.9h1.1v1.1h-1.1zM167.5 262.8h1.1v1.1h-1.1zM241.3 225.1h1.1v1.1h-1.1zM170.4 261.8h1.1v1.1h-1.1zM180.6 252.1h1.1v1.1h-1.1zM239.6 220.2h1.1v1.1h-1.1zM211.6 242.3h1.1v1.1h-1.1zM195.3 243.2h1.1v1.1h-1.1zM184.3 252.5h1.1v1.1h-1.1zM211.6 225.0h1.1v1.1h-1.1zM155.2 267.9h1.1v1.1h-1.1zM170.1 260.5h1.1v1.1h-1.1zM220.4 241.2h1.1v1.1h-1.1zM173.3 260.8h1.1v1.1h-1.1zM187.2 249.6h1.1v1.1h-1.1zM194.8 242.2h1.1v1.1h-1.1zM260.0 218.0h1.1v1.1h-1.1zM180.9 239.8h1.1v1.1h-1.1zM209.7 243.6h1.1v1.1h-1.1zM167.0 265.2h1.1v1.1h-1.1zM198.5 262.3h1.1v1.1h-1.1zM176.5 267.5h1.1v1.1h-1.1zM150.4 293.3h1.1v1.1h-1.1zM150.3 296.1h1.1v1.1h-1.1zM190.9 226.1h1.1v1.1h-1.1zM193.6 260.5h1.1v1.1h-1.1zM167.6 251.1h1.1v1.1h-1.1zM158.7 247.9h1.1v1.1h-1.1zM217.5 251.7h1.1v1.1h-1.1zM150.8 297.4h1.1v1.1h-1.1zM153.1 271.4h1.1v1.1h-1.1zM179.1 257.8h1.1v1.1h-1.1zM202.5 243.7h1.1v1.1h-1.1zM258.6 237.2h1.1v1.1h-1.1zM221.1 254.4h1.1v1.1h-1.1zM244.3 233.9h1.1v1.1h-1.1zM161.8 257.8h1.1v1.1h-1.1zM162.7 279.8h1.1v1.1h-1.1zM192.9 262.6h1.1v1.1h-1.1zM215.3 244.3h1.1v1.1h-1.1zM244.3 227.6h1.1v1.1h-1.1zM248.5 246.1h1.1v1.1h-1.1zM252.2 232.6h1.1v1.1h-1.1zM216.5 233.7h1.1v1.1h-1.1zM203.9 244.7h1.1v1.1h-1.1zM181.0 269.6h1.1v1.1h-1.1zM236.1 241.4h1.1v1.1h-1.1zM203.7 241.6h1.1v1.1h-1.1zM175.7 257.7h1.1v1.1h-1.1zM164.1 264.9h1.1v1.1h-1.1zM151.0 297.4h1.1v1.1h-1.1zM259.5 255.7h1.1v1.1h-1.1zM159.6 267.2h1.1v1.1h-1.1zM212.9 250.7h1.1v1.1h-1.1zM243.2 251.7h1.1v1.1h-1.1zM189.6 257.2h1.1v1.1h-1.1zM190.4 248.8h1.1v1.1h-1.1zM242.2 231.0h1.1v1.1h-1.1zM170.9 262.0h1.1v1.1h-1.1zM152.7 266.6h1.1v1.1h-1.1zM205.3 266.0h1.1v1.1h-1.1zM237.3 246.9h1.1v1.1h-1.1zM170.4 244.8h1.1v1.1h-1.1zM181.5 277.2h1.1v1.1h-1.1zM159.3 260.7h1.1v1.1h-1.1zM169.3 259.3h1.1v1.1h-1.1zM163.5 269.7h1.1v1.1h-1.1zM158.4 264.3h1.1v1.1h-1.1zM250.9 240.9h1.1v1.1h-1.1zM158.2 263.7h1.1v1.1h-1.1zM164.7 266.6h1.1v1.1h-1.1zM165.6 263.8h1.1v1.1h-1.1zM171.9 251.0h1.1v1.1h-1.1zM149.8 292.4h1.1v1.1h-1.1zM200.5 271.5h1.1v1.1h-1.1zM175.6 262.6h1.1v1.1h-1.1zM160.6 252.8h1.1v1.1h-1.1zM230.3 240.6h1.1v1.1h-1.1zM259.3 237.5h1.1v1.1h-1.1zM178.9 239.5h1.1v1.1h-1.1zM179.6 265.3h1.1v1.1h-1.1zM168.3 263.9h1.1v1.1h-1.1zM247.7 227.1h1.1v1.1h-1.1zM215.5 230.2h1.1v1.1h-1.1zM205.5 251.9h1.1v1.1h-1.1zM149.7 297.4h1.1v1.1h-1.1zM149.9 293.5h1.1v1.1h-1.1zM197.7 272.0h1.1v1.1h-1.1zM192.9 242.8h1.1v1.1h-1.1zM216.1 224.8h1.1v1.1h-1.1zM219.6 249.2h1.1v1.1h-1.1zM167.6 281.1h1.1v1.1h-1.1zM150.2 283.8h1.1v1.1h-1.1zM185.4 250.3h1.1v1.1h-1.1zM155.7 282.6h1.1v1.1h-1.1zM150.4 283.4h1.1v1.1h-1.1zM222.7 253.9h1.1v1.1h-1.1zM208.8 245.4h1.1v1.1h-1.1zM186.9 262.8h1.1v1.1h-1.1zM197.6 242.7h1.1v1.1h-1.1zM150.7 288.3h1.1v1.1h-1.1zM162.1 252.9h1.1v1.1h-1.1zM168.1 260.5h1.1v1.1h-1.1zM246.3 223.9h1.1v1.1h-1.1zM225.9 245.6h1.1v1.1h-1.1zM258.7 223.3h1.1v1.1h-1.1zM152.2 283.0h1.1v1.1h-1.1zM172.5 247.9h1.1v1.1h-1.1zM219.4 246.9h1.1v1.1h-1.1zM164.6 254.9h1.1v1.1h-1.1zM177.3 244.6h1.1v1.1h-1.1zM258.0 227.9h1.1v1.1h-1.1zM161.4 264.3h1.1v1.1h-1.1zM151.0 280.0h1.1v1.1h-1.1zM204.6 258.8h1.1v1.1h-1.1zM226.9 242.3h1.1v1.1h-1.1zM167.4 271.0h1.1v1.1h-1.1zM189.2 247.1h1.1v1.1h-1.1zM169.1 262.8h1.1v1.1h-1.1zM167.7 258.8h1.1v1.1h-1.1zM230.6 260.6h1.1v1.1h-1.1zM187.3 248.0h1.1v1.1h-1.1zM201.9 258.5h1.1v1.1h-1.1zM150.5 293.4h1.1v1.1h-1.1zM205.1 238.0h1.1v1.1h-1.1zM190.2 297.4h1.1v1.1h-1.1zM251.6 232.7h1.1v1.1h-1.1zM249.3 219.4h1.1v1.1h-1.1zM155.5 263.2h1.1v1.1h-1.1zM214.2 238.9h1.1v1.1h-1.1zM232.0 260.3h1.1v1.1h-1.1zM185.7 251.3h1.1v1.1h-1.1zM196.3 257.8h1.1v1.1h-1.1zM208.2 258.8h1.1v1.1h-1.1zM247.0 223.0h1.1v1.1h-1.1zM163.5 255.5h1.1v1.1h-1.1zM193.4 242.2h1.1v1.1h-1.1zM154.6 286.7h1.1v1.1h-1.1zM153.2 275.7h1.1v1.1h-1.1zM226.0 258.8h1.1v1.1h-1.1zM168.3 258.7h1.1v1.1h-1.1zM157.4 265.0h1.1v1.1h-1.1zM239.0 230.3h1.1v1.1h-1.1zM150.7 294.5h1.1v1.1h-1.1zM170.8 250.8h1.1v1.1h-1.1zM225.2 221.8h1.1v1.1h-1.1zM235.5 221.2h1.1v1.1h-1.1zM222.1 244.9h1.1v1.1h-1.1zM237.2 245.0h1.1v1.1h-1.1zM180.8 251.6h1.1v1.1h-1.1zM230.6 242.8h1.1v1.1h-1.1zM197.6 257.4h1.1v1.1h-1.1zM175.1 255.0h1.1v1.1h-1.1zM192.2 261.6h1.1v1.1h-1.1zM150.2 279.7h1.1v1.1h-1.1zM234.3 245.3h1.1v1.1h-1.1zM154.2 276.7h1.1v1.1h-1.1zM199.0 245.1h1.1v1.1h-1.1zM237.3 248.6h1.1v1.1h-1.1zM196.1 258.5h1.1v1.1h-1.1zM163.1 260.6h1.1v1.1h-1.1zM188.8 249.2h1.1v1.1h-1.1zM178.5 274.1h1.1v1.1h-1.1zM243.1 226.2h1.1v1.1h-1.1zM155.3 285.3h1.1v1.1h-1.1zM151.4 278.0h1.1v1.1h-1.1zM244.7 240.5h1.1v1.1h-1.1zM149.9 284.8h1.1v1.1h-1.1zM161.2 273.8h1.1v1.1h-1.1zM168.6 277.0h1.1v1.1h-1.1zM201.5 242.9h1.1v1.1h-1.1zM247.8 249.3h1.1v1.1h-1.1zM150.7 283.2h1.1v1.1h-1.1zM201.2 244.6h1.1v1.1h-1.1zM207.4 249.7h1.1v1.1h-1.1zM186.0 255.3h1.1v1.1h-1.1zM260.5 234.9h1.1v1.1h-1.1zM163.1 263.2h1.1v1.1h-1.1zM252.5 227.1h1.1v1.1h-1.1zM234.8 239.6h1.1v1.1h-1.1zM198.4 251.0h1.1v1.1h-1.1zM260.0 229.4h1.1v1.1h-1.1zM239.1 250.1h1.1v1.1h-1.1zM248.4 224.3h1.1v1.1h-1.1zM173.0 255.6h1.1v1.1h-1.1zM168.1 270.2h1.1v1.1h-1.1zM232.8 234.3h1.1v1.1h-1.1zM167.7 248.2h1.1v1.1h-1.1zM162.4 267.1h1.1v1.1h-1.1zM197.7 248.9h1.1v1.1h-1.1zM196.6 263.1h1.1v1.1h-1.1zM228.9 221.2h1.1v1.1h-1.1zM254.0 229.6h1.1v1.1h-1.1zM164.2 263.3h1.1v1.1h-1.1zM163.4 264.7h1.1v1.1h-1.1zM170.8 269.9h1.1v1.1h-1.1zM216.2 232.9h1.1v1.1h-1.1zM196.2 239.9h1.1v1.1h-1.1zM150.0 283.5h1.1v1.1h-1.1zM193.0 238.8h1.1v1.1h-1.1zM167.5 248.5h1.1v1.1h-1.1zM150.7 270.0h1.1v1.1h-1.1zM158.4 257.9h1.1v1.1h-1.1zM150.1 273.7h1.1v1.1h-1.1zM174.6 242.3h1.1v1.1h-1.1zM152.5 268.5h1.1v1.1h-1.1zM160.2 253.1h1.1v1.1h-1.1zM175.2 244.0h1.1v1.1h-1.1zM200.9 236.2h1.1v1.1h-1.1zM184.5 241.3h1.1v1.1h-1.1zM176.2 244.5h1.1v1.1h-1.1zM191.6 238.6h1.1v1.1h-1.1zM184.9 240.0h1.1v1.1h-1.1zM180.1 240.9h1.1v1.1h-1.1zM159.7 255.9h1.1v1.1h-1.1zM169.1 249.2h1.1v1.1h-1.1zM179.5 243.5h1.1v1.1h-1.1zM156.0 260.1h1.1v1.1h-1.1zM187.8 239.9h1.1v1.1h-1.1zM150.6 271.7h1.1v1.1h-1.1zM196.5 237.5h1.1v1.1h-1.1zM152.8 250.7h1.1v1.1h-1.1zM161.0 247.9h1.1v1.1h-1.1zM153.3 265.4h1.1v1.1h-1.1zM189.1 240.0h1.1v1.1h-1.1zM160.3 249.8h1.1v1.1h-1.1zM162.4 243.2h1.1v1.1h-1.1zM191.0 239.4h1.1v1.1h-1.1zM197.4 236.9h1.1v1.1h-1.1zM196.9 237.2h1.1v1.1h-1.1zM185.6 239.2h1.1v1.1h-1.1zM192.6 238.4h1.1v1.1h-1.1zM161.1 254.7h1.1v1.1h-1.1zM166.8 250.7h1.1v1.1h-1.1zM164.6 251.5h1.1v1.1h-1.1zM200.2 236.4h1.1v1.1h-1.1zM193.2 238.3h1.1v1.1h-1.1zM187.1 240.2h1.1v1.1h-1.1zM184.3 240.1h1.1v1.1h-1.1zM201.8 236.0h1.1v1.1h-1.1zM154.2 262.4h1.1v1.1h-1.1zM169.5 245.8h1.1v1.1h-1.1zM153.5 257.4h1.1v1.1h-1.1zM160.3 253.1h1.1v1.1h-1.1zM161.5 245.0h1.1v1.1h-1.1zM168.9 248.4h1.1v1.1h-1.1zM192.7 238.8h1.1v1.1h-1.1zM152.5 269.1h1.1v1.1h-1.1zM149.8 288.8h1.1v1.1h-1.1zM169.4 246.8h1.1v1.1h-1.1zM150.7 278.1h1.1v1.1h-1.1zM149.8 263.3h1.1v1.1h-1.1z" fill="rgb(55,145,100)" fill-opacity="0.62"/>
<path d="M184.7 277.0h1.1v1.1h-1.1zM243.0 254.4h1.1v1.1h-1.1zM230.9 247.0h1.1v1.1h-1.1zM153.1 297.4h1.1v1.1h-1.1zM159.6 292.3h1.1v1.1h-1.1zM200.6 266.9h1.1v1.1h-1.1zM151.4 297.1h1.1v1.1h-1.1zM192.7 263.5h1.1v1.1h-1.1zM151.9 297.4h1.1v1.1h-1.1zM249.8 265.9h1.1v1.1h-1.1zM250.6 266.9h1.1v1.1h-1.1zM185.7 272.8h1.1v1.1h-1.1zM205.7 275.5h1.1v1.1h-1.1zM228.5 255.3h1.1v1.1h-1.1zM208.2 276.8h1.1v1.1h-1.1zM259.8 273.0h1.1v1.1h-1.1zM238.9 270.0h1.1v1.1h-1.1zM234.3 257.9h1.1v1.1h-1.1zM254.7 258.4h1.1v1.1h-1.1zM174.5 294.5h1.1v1.1h-1.1zM175.4 284.4h1.1v1.1h-1.1zM172.8 295.4h1.1v1.1h-1.1zM228.6 269.0h1.1v1.1h-1.1zM166.3 293.4h1.1v1.1h-1.1zM248.4 279.9h1.1v1.1h-1.1zM170.1 285.2h1.1v1.1h-1.1zM214.8 258.8h1.1v1.1h-1.1zM149.8 297.4h1.1v1.1h-1.1zM248.2 267.1h1.1v1.1h-1.1zM229.3 266.0h1.1v1.1h-1.1zM229.9 259.4h1.1v1.1h-1.1zM230.0 251.4h1.1v1.1h-1.1zM150.8 297.4h1.1v1.1h-1.1zM206.0 274.1h1.1v1.1h-1.1zM254.6 270.2h1.1v1.1h-1.1zM250.3 256.3h1.1v1.1h-1.1zM150.9 297.2h1.1v1.1h-1.1zM168.8 289.3h1.1v1.1h-1.1zM218.4 261.3h1.1v1.1h-1.1zM219.2 256.0h1.1v1.1h-1.1zM178.1 287.1h1.1v1.1h-1.1zM226.2 253.6h1.1v1.1h-1.1zM224.8 255.8h1.1v1.1h-1.1zM150.3 297.4h1.1v1.1h-1.1zM149.7 297.4h1.1v1.1h-1.1zM166.5 290.4h1.1v1.1h-1.1zM256.2 275.7h1.1v1.1h-1.1zM214.2 265.8h1.1v1.1h-1.1zM181.3 288.7h1.1v1.1h-1.1zM260.6 253.8h1.1v1.1h-1.1zM212.3 285.5h1.1v1.1h-1.1zM212.9 272.2h1.1v1.1h-1.1zM213.5 264.2h1.1v1.1h-1.1zM225.7 253.8h1.1v1.1h-1.1zM198.3 281.0h1.1v1.1h-1.1zM182.5 288.6h1.1v1.1h-1.1zM178.1 274.8h1.1v1.1h-1.1zM211.0 279.3h1.1v1.1h-1.1zM172.1 283.5h1.1v1.1h-1.1zM213.1 266.2h1.1v1.1h-1.1zM227.2 272.0h1.1v1.1h-1.1zM234.8 269.0h1.1v1.1h-1.1zM163.2 292.7h1.1v1.1h-1.1zM150.8 297.4h1.1v1.1h-1.1zM219.3 266.9h1.1v1.1h-1.1zM248.1 269.1h1.1v1.1h-1.1zM180.5 284.7h1.1v1.1h-1.1zM224.2 259.2h1.1v1.1h-1.1zM187.4 290.7h1.1v1.1h-1.1zM196.4 295.4h1.1v1.1h-1.1zM183.0 290.6h1.1v1.1h-1.1zM201.6 289.2h1.1v1.1h-1.1zM212.0 280.7h1.1v1.1h-1.1zM162.5 292.7h1.1v1.1h-1.1zM175.6 294.7h1.1v1.1h-1.1zM157.7 293.5h1.1v1.1h-1.1zM231.9 286.5h1.1v1.1h-1.1zM172.1 297.4h1.1v1.1h-1.1zM213.6 287.6h1.1v1.1h-1.1zM223.4 262.8h1.1v1.1h-1.1zM173.5 288.3h1.1v1.1h-1.1zM173.1 292.4h1.1v1.1h-1.1zM211.2 268.4h1.1v1.1h-1.1zM171.1 297.3h1.1v1.1h-1.1zM185.4 280.2h1.1v1.1h-1.1zM222.9 270.5h1.1v1.1h-1.1zM238.9 283.0h1.1v1.1h-1.1zM210.4 274.6h1.1v1.1h-1.1zM171.7 291.9h1.1v1.1h-1.1zM254.4 264.1h1.1v1.1h-1.1zM154.9 297.4h1.1v1.1h-1.1zM186.3 271.0h1.1v1.1h-1.1zM230.8 270.0h1.1v1.1h-1.1zM241.1 251.3h1.1v1.1h-1.1zM247.9 277.2h1.1v1.1h-1.1zM187.9 275.8h1.1v1.1h-1.1zM252.4 263.1h1.1v1.1h-1.1zM155.3 297.4h1.1v1.1h-1.1zM226.1 270.6h1.1v1.1h-1.1zM247.6 263.1h1.1v1.1h-1.1zM189.9 297.4h1.1v1.1h-1.1zM201.4 267.5h1.1v1.1h-1.1zM196.9 273.0h1.1v1.1h-1.1zM150.1 297.4h1.1v1.1h-1.1zM182.9 297.4h1.1v1.1h-1.1zM212.6 277.6h1.1v1.1h-1.1zM168.0 295.6h1.1v1.1h-1.1zM253.0 262.6h1.1v1.1h-1.1zM236.6 271.6h1.1v1.1h-1.1zM209.6 283.2h1.1v1.1h-1.1zM255.6 244.5h1.1v1.1h-1.1zM208.9 277.9h1.1v1.1h-1.1zM215.8 286.2h1.1v1.1h-1.1zM172.9 297.4h1.1v1.1h-1.1zM151.9 297.4h1.1v1.1h-1.1zM160.9 297.2h1.1v1.1h-1.1zM253.2 274.9h1.1v1.1h-1.1zM168.6 287.8h1.1v1.1h-1.1zM190.1 265.9h1.1v1.1h-1.1zM176.6 293.9h1.1v1.1h-1.1zM173.4 278.6h1.1v1.1h-1.1zM221.1 260.4h1.1v1.1h-1.1zM180.4 297.4h1.1v1.1h-1.1zM186.2 285.9h1.1v1.1h-1.1zM236.0 258.4h1.1v1.1h-1.1zM216.0 261.4h1.1v1.1h-1.1zM256.7 261.4h1.1v1.1h-1.1zM184.8 276.7h1.1v1.1h-1.1zM217.4 271.5h1.1v1.1h-1.1zM191.8 271.1h1.1v1.1h-1.1zM217.6 275.4h1.1v1.1h-1.1zM177.3 294.8h1.1v1.1h-1.1zM214.3 269.7h1.1v1.1h-1.1zM247.5 282.0h1.1v1.1h-1.1zM235.7 245.3h1.1v1.1h-1.1zM169.1 297.4h1.1v1.1h-1.1zM178.5 293.8h1.1v1.1h-1.1zM217.1 274.6h1.1v1.1h-1.1zM249.8 254.5h1.1v1.1h-1.1zM201.6 276.8h1.1v1.1h-1.1zM160.5 294.8h1.1v1.1h-1.1zM194.6 281.0h1.1v1.1h-1.1zM163.5 297.4h1.1v1.1h-1.1zM184.3 295.0h1.1v1.1h-1.1zM164.3 291.0h1.1v1.1h-1.1zM223.5 267.6h1.1v1.1h-1.1zM152.2 297.4h1.1v1.1h-1.1zM191.8 275.6h1.1v1.1h-1.1zM195.2 278.2h1.1v1.1h-1.1zM152.1 297.4h1.1v1.1h-1.1zM237.6 250.4h1.1v1.1h-1.1zM150.6 297.4h1.1v1.1h-1.1zM246.7 243.1h1.1v1.1h-1.1zM172.5 297.4h1.1v1.1h-1.1zM246.3 285.0h1.1v1.1h-1.1zM157.5 297.4h1.1v1.1h-1.1zM156.2 296.6h1.1v1.1h-1.1zM197.7 289.9h1.1v1.1h-1.1zM179.0 287.0h1.1v1.1h-1.1zM169.1 295.6h1.1v1.1h-1.1zM170.9 277.3h1.1v1.1h-1.1zM229.6 264.7h1.1v1.1h-1.1zM159.6 296.9h1.1v1.1h-1.1zM170.2 296.5h1.1v1.1h-1.1zM151.4 297.4h1.1v1.1h-1.1zM160.3 297.4h1.1v1.1h-1.1zM185.5 272.4h1.1v1.1h-1.1zM252.3 252.8h1.1v1.1h-1.1zM160.6 290.7h1.1v1.1h-1.1zM191.4 293.9h1.1v1.1h-1.1zM181.5 286.4h1.1v1.1h-1.1zM170.6 295.5h1.1v1.1h-1.1zM227.4 241.0h1.1v1.1h-1.1zM183.1 297.4h1.1v1.1h-1.1zM191.2 270.3h1.1v1.1h-1.1zM156.3 295.6h1.1v1.1h-1.1zM185.8 289.3h1.1v1.1h-1.1zM259.9 246.2h1.1v1.1h-1.1zM214.9 277.5h1.1v1.1h-1.1zM201.3 297.4h1.1v1.1h-1.1zM161.3 293.6h1.1v1.1h-1.1zM179.9 286.9h1.1v1.1h-1.1zM246.6 256.0h1.1v1.1h-1.1zM250.9 255.3h1.1v1.1h-1.1zM202.5 283.8h1.1v1.1h-1.1zM163.2 295.7h1.1v1.1h-1.1zM228.6 263.3h1.1v1.1h-1.1zM197.5 269.2h1.1v1.1h-1.1zM163.7 292.3h1.1v1.1h-1.1zM210.2 297.4h1.1v1.1h-1.1zM257.6 255.3h1.1v1.1h-1.1zM218.4 276.5h1.1v1.1h-1.1zM190.6 281.0h1.1v1.1h-1.1zM218.8 276.5h1.1v1.1h-1.1zM176.7 282.3h1.1v1.1h-1.1zM219.6 266.6h1.1v1.1h-1.1zM260.0 263.7h1.1v1.1h-1.1zM242.2 245.2h1.1v1.1h-1.1zM237.6 267.2h1.1v1.1h-1.1zM154.6 291.2h1.1v1.1h-1.1zM163.5 294.5h1.1v1.1h-1.1zM191.1 279.3h1.1v1.1h-1.1zM232.8 261.2h1.1v1.1h-1.1zM162.8 284.4h1.1v1.1h-1.1zM236.3 270.0h1.1v1.1h-1.1zM160.9 295.9h1.1v1.1h-1.1zM197.0 278.6h1.1v1.1h-1.1zM179.1 293.3h1.1v1.1h-1.1zM163.3 294.4h1.1v1.1h-1.1zM206.5 283.2h1.1v1.1h-1.1zM172.4 283.5h1.1v1.1h-1.1zM184.8 282.1h1.1v1.1h-1.1zM201.9 272.5h1.1v1.1h-1.1zM233.6 280.6h1.1v1.1h-1.1zM236.1 261.5h1.1v1.1h-1.1zM259.6 256.7h1.1v1.1h-1.1zM151.7 297.4h1.1v1.1h-1.1zM185.3 281.2h1.1v1.1h-1.1zM201.1 280.3h1.1v1.1h-1.1zM222.9 278.1h1.1v1.1h-1.1zM233.8 282.0h1.1v1.1h-1.1zM230.3 273.2h1.1v1.1h-1.1zM216.8 258.4h1.1v1.1h-1.1zM242.2 266.9h1.1v1.1h-1.1zM198.6 280.5h1.1v1.1h-1.1zM211.2 276.6h1.1v1.1h-1.1zM220.7 273.4h1.1v1.1h-1.1zM151.7 297.4h1.1v1.1h-1.1zM182.4 274.0h1.1v1.1h-1.1zM156.5 297.4h1.1v1.1h-1.1zM260.0 258.8h1.1v1.1h-1.1zM185.0 276.7h1.1v1.1h-1.1zM214.1 277.6h1.1v1.1h-1.1zM176.3 290.5h1.1v1.1h-1.1zM216.9 265.1h1.1v1.1h-1.1zM157.6 297.4h1.1v1.1h-1.1zM158.3 297.4h1.1v1.1h-1.1zM182.1 280.2h1.1v1.1h-1.1zM183.3 277.1h1.1v1.1h-1.1zM170.0 286.5h1.1v1.1h-1.1zM173.5 286.5h1.1v1.1h-1.1zM187.9 288.6h1.1v1.1h-1.1zM185.8 287.2h1.1v1.1h-1.1zM221.7 255.1h1.1v1.1h-1.1zM170.2 292.8h1.1v1.1h-1.1zM159.2 297.4h1.1v1.1h-1.1zM155.8 296.3h1.1v1.1h-1.1zM250.1 275.7h1.1v1.1h-1.1zM158.6 297.4h1.1v1.1h-1.1zM163.7 290.4h1.1v1.1h-1.1zM177.0 274.4h1.1v1.1h-1.1zM216.5 262.0h1.1v1.1h-1.1zM170.7 294.5h1.1v1.1h-1.1zM160.0 291.4h1.1v1.1h-1.1zM152.0 297.4h1.1v1.1h-1.1zM243.2 253.3h1.1v1.1h-1.1zM226.0 268.9h1.1v1.1h-1.1zM163.9 295.3h1.1v1.1h-1.1zM216.6 256.1h1.1v1.1h-1.1zM199.8 271.0h1.1v1.1h-1.1zM154.9 297.4h1.1v1.1h-1.1zM211.1 297.4h1.1v1.1h-1.1zM259.7 259.8h1.1v1.1h-1.1zM186.8 282.9h1.1v1.1h-1.1zM173.7 280.9h1.1v1.1h-1.1zM161.6 292.8h1.1v1.1h-1.1zM159.7 297.4h1.1v1.1h-1.1zM258.2 269.6h1.1v1.1h-1.1zM211.0 260.8h1.1v1.1h-1.1zM150.4 297.4h1.1v1.1h-1.1zM157.0 297.4h1.1v1.1h-1.1zM230.3 265.0h1.1v1.1h-1.1zM181.1 297.4h1.1v1.1h-1.1zM189.3 284.4h1.1v1.1h-1.1zM231.7 285.5h1.1v1.1h-1.1zM166.9 292.5h1.1v1.1h-1.1zM167.4 292.8h1.1v1.1h-1.1zM212.8 259.7h1.1v1.1h-1.1zM255.8 254.7h1.1v1.1h-1.1zM236.5 255.2h1.1v1.1h-1.1zM247.3 249.2h1.1v1.1h-1.1zM260.8 248.5h1.1v1.1h-1.1zM223.2 276.6h1.1v1.1h-1.1zM229.1 265.7h1.1v1.1h-1.1zM238.0 271.2h1.1v1.1h-1.1zM225.0 272.4h1.1v1.1h-1.1zM226.4 272.8h1.1v1.1h-1.1zM203.2 287.9h1.1v1.1h-1.1zM176.8 281.6h1.1v1.1h-1.1zM207.0 284.6h1.1v1.1h-1.1zM251.6 273.9h1.1v1.1h-1.1zM221.5 268.2h1.1v1.1h-1.1zM150.1 297.4h1.1v1.1h-1.1zM161.5 284.6h1.1v1.1h-1.1zM209.3 287.6h1.1v1.1h-1.1zM164.6 291.7h1.1v1.1h-1.1zM190.3 273.0h1.1v1.1h-1.1zM233.1 266.5h1.1v1.1h-1.1zM173.9 286.6h1.1v1.1h-1.1zM172.1 281.3h1.1v1.1h-1.1zM217.3 264.2h1.1v1.1h-1.1zM239.1 256.5h1.1v1.1h-1.1zM220.3 267.2h1.1v1.1h-1.1zM217.2 250.4h1.1v1.1h-1.1zM212.3 273.9h1.1v1.1h-1.1zM209.0 284.4h1.1v1.1h-1.1zM181.5 282.9h1.1v1.1h-1.1zM175.9 297.1h1.1v1.1h-1.1zM192.5 283.3h1.1v1.1h-1.1zM176.7 286.9h1.1v1.1h-1.1zM199.3 297.4h1.1v1.1h-1.1zM157.3 296.1h1.1v1.1h-1.1zM174.2 290.9h1.1v1.1h-1.1zM156.6 293.6h1.1v1.1h-1.1zM232.2 293.5h1.1v1.1h-1.1zM252.8 253.5h1.1v1.1h-1.1zM154.5 294.5h1.1v1.1h-1.1zM239.9 255.1h1.1v1.1h-1.1zM152.1 297.4h1.1v1.1h-1.1zM150.6 297.4h1.1v1.1h-1.1zM247.9 277.3h1.1v1.1h-1.1zM242.5 244.8h1.1v1.1h-1.1zM208.0 275.7h1.1v1.1h-1.1zM190.6 271.9h1.1v1.1h-1.1zM169.4 288.2h1.1v1.1h-1.1zM255.9 254.1h1.1v1.1h-1.1zM199.6 292.5h1.1v1.1h-1.1zM178.8 294.5h1.1v1.1h-1.1zM255.9 249.4h1.1v1.1h-1.1zM239.6 268.3h1.1v1.1h-1.1zM156.5 296.2h1.1v1.1h-1.1zM233.7 265.6h1.1v1.1h-1.1zM241.8 261.1h1.1v1.1h-1.1zM199.5 274.9h1.1v1.1h-1.1zM172.0 282.0h1.1v1.1h-1.1zM196.7 271.8h1.1v1.1h-1.1zM175.0 288.4h1.1v1.1h-1.1zM155.2 297.4h1.1v1.1h-1.1zM249.0 253.8h1.1v1.1h-1.1zM188.7 277.9h1.1v1.1h-1.1zM213.5 289.4h1.1v1.1h-1.1zM246.1 255.6h1.1v1.1h-1.1zM156.5 297.3h1.1v1.1h-1.1zM183.8 283.8h1.1v1.1h-1.1zM177.7 286.9h1.1v1.1h-1.1zM171.6 286.5h1.1v1.1h-1.1zM201.6 266.2h1.1v1.1h-1.1zM215.1 279.4h1.1v1.1h-1.1zM155.4 296.9h1.1v1.1h-1.1zM155.1 295.9h1.1v1.1h-1.1zM164.7 294.0h1.1v1.1h-1.1zM204.0 279.3h1.1v1.1h-1.1zM259.0 256.9h1.1v1.1h-1.1zM165.7 294.5h1.1v1.1h-1.1zM210.9 281.3h1.1v1.1h-1.1zM158.4 297.4h1.1v1.1h-1.1zM226.2 284.2h1.1v1.1h-1.1zM171.9 294.4h1.1v1.1h-1.1zM150.2 297.4h1.1v1.1h-1.1zM176.0 297.4h1.1v1.1h-1.1zM179.9 275.9h1.1v1.1h-1.1zM161.6 289.2h1.1v1.1h-1.1zM184.2 273.6h1.1v1.1h-1.1zM152.3 294.2h1.1v1.1h-1.1zM155.5 287.0h1.1v1.1h-1.1zM182.2 273.6h1.1v1.1h-1.1zM180.4 274.4h1.1v1.1h-1.1zM173.1 273.6h1.1v1.1h-1.1zM181.2 273.6h1.1v1.1h-1.1zM157.4 278.1h1.1v1.1h-1.1zM150.2 295.0h1.1v1.1h-1.1zM193.7 270.1h1.1v1.1h-1.1zM171.9 280.5h1.1v1.1h-1.1zM156.1 290.7h1.1v1.1h-1.1zM178.2 275.3h1.1v1.1h-1.1zM184.2 271.4h1.1v1.1h-1.1zM156.8 274.1h1.1v1.1h-1.1zM157.2 292.2h1.1v1.1h-1.1zM168.0 278.1h1.1v1.1h-1.1zM181.4 274.9h1.1v1.1h-1.1zM153.9 294.7h1.1v1.1h-1.1zM170.1 275.3h1.1v1.1h-1.1zM161.7 275.8h1.1v1.1h-1.1zM164.6 286.7h1.1v1.1h-1.1zM189.1 271.5h1.1v1.1h-1.1zM171.5 278.5h1.1v1.1h-1.1z" fill="rgb(180,100,50)" fill-opacity="0.62"/>
<polyline points="149.40,298.40 154.30,297.80 159.50,295.70 164.80,293.10 170.10,290.40 172.00,289.20 178.80,284.50 185.70,281.40 192.50,279.40 199.40,277.30 206.20,275.30 211.00,273.80 218.60,270.80 226.30,267.70 233.90,264.70 241.50,262.40 249.20,260.10 261.40,258.40" fill="none" stroke="rgb(170,90,40)" stroke-width="1.0" stroke-linejoin="round"/>
<polyline points="149.40,298.40 150.10,292.50 151.10,283.00 152.20,278.80 154.30,273.50 157.40,269.30 160.60,266.10 164.80,263.50 170.10,260.20 172.00,258.80 178.80,254.00 185.70,249.90 192.50,247.90 196.70,247.20 203.50,245.10 211.00,242.50 218.60,239.50 226.30,237.20 233.90,234.10 241.50,231.90 249.20,229.60 261.40,227.80" fill="none" stroke="rgb(40,140,90)" stroke-width="1.0" stroke-linejoin="round"/>
</g>
<line x1="196.33" y1="180.40" x2="196.33" y2="298.40" stroke="#111" stroke-width="0.9" stroke-dasharray="1.8,1.3"/>
<rect x="149.40" y="180.40" width="112.0" height="118.0" fill="none" stroke="#7a7a7a" stroke-width="0.9"/>
<path d="M149.40 298.40v2.2M185.50 298.40v2.2M221.60 298.40v2.2M257.70 298.40v2.2M149.40 298.40h-2.2M149.40 268.90h-2.2M149.40 239.40h-2.2M149.40 209.90h-2.2" stroke="#555" stroke-width="0.7" fill="none"/>
<text x="259.40" y="188.00" font-size="9" font-weight="bold" fill="#000" text-anchor="end" stroke="#000" stroke-width="0.12">e</text>
<clipPath id="cf"><rect x="278.20" y="180.40" width="112.0" height="118.0"/></clipPath>
<g clip-path="url(#cf)">
<polygon points="278.20,297.00 278.60,285.20 279.60,271.40 281.20,262.50 283.30,259.00 285.80,255.80 289.70,251.50 293.60,247.20 297.50,242.00 300.00,235.00 304.90,229.00 309.90,223.00 316.50,217.50 322.00,214.00 331.00,210.50 338.70,206.60 346.50,202.80 354.20,198.90 361.90,195.80 369.70,192.00 377.40,189.60 390.20,187.00 390.20,231.00 377.40,231.40 369.70,232.80 361.90,236.00 346.50,243.00 340.00,247.90 332.90,250.40 326.30,254.50 319.80,258.60 313.20,262.00 306.60,267.00 300.00,270.50 292.90,273.50 289.70,275.70 286.50,278.80 283.30,283.10 281.20,289.40 279.10,297.90 278.20,298.40" fill="rgb(40,140,90)" fill-opacity="0.26"/>
<polygon points="278.20,298.40 280.20,296.80 285.50,292.60 290.70,288.30 296.00,284.10 300.00,279.50 306.60,271.80 313.20,265.20 319.80,261.10 326.30,257.00 332.90,253.70 340.00,249.50 344.50,243.50 351.30,238.50 358.00,235.40 364.80,233.00 371.50,230.50 378.30,228.00 390.20,225.30 390.20,258.20 378.30,261.10 371.50,263.10 364.80,265.80 358.00,268.50 351.30,271.20 344.50,274.60 340.00,277.40 332.90,280.00 326.30,282.50 319.80,285.80 313.20,289.10 306.60,292.40 300.00,295.70 292.90,297.90 285.50,298.80 278.20,298.40" fill="rgb(170,90,40)" fill-opacity="0.26"/>
<path d="M333.5 215.7h1.1v1.1h-1.1zM319.9 194.6h1.1v1.1h-1.1zM293.6 256.9h1.1v1.1h-1.1zM293.4 251.3h1.1v1.1h-1.1zM282.0 272.3h1.1v1.1h-1.1zM308.7 238.5h1.1v1.1h-1.1zM304.4 259.2h1.1v1.1h-1.1zM315.7 252.7h1.1v1.1h-1.1zM284.9 262.3h1.1v1.1h-1.1zM373.2 233.9h1.1v1.1h-1.1zM310.1 258.7h1.1v1.1h-1.1zM278.7 290.8h1.1v1.1h-1.1zM327.9 235.6h1.1v1.1h-1.1zM278.8 291.6h1.1v1.1h-1.1zM288.2 278.9h1.1v1.1h-1.1zM288.0 270.9h1.1v1.1h-1.1zM342.4 250.0h1.1v1.1h-1.1zM323.6 224.7h1.1v1.1h-1.1zM347.4 231.8h1.1v1.1h-1.1zM278.6 293.2h1.1v1.1h-1.1zM382.2 206.7h1.1v1.1h-1.1zM367.1 194.9h1.1v1.1h-1.1zM363.1 198.1h1.1v1.1h-1.1zM287.2 258.5h1.1v1.1h-1.1zM374.6 184.9h1.1v1.1h-1.1zM374.2 184.9h1.1v1.1h-1.1zM305.6 296.0h1.1v1.1h-1.1zM307.0 273.4h1.1v1.1h-1.1zM283.4 253.2h1.1v1.1h-1.1zM296.9 253.9h1.1v1.1h-1.1zM375.8 202.7h1.1v1.1h-1.1zM283.8 297.4h1.1v1.1h-1.1zM340.0 215.2h1.1v1.1h-1.1zM362.4 229.4h1.1v1.1h-1.1zM299.1 263.0h1.1v1.1h-1.1zM305.3 264.9h1.1v1.1h-1.1zM300.6 265.5h1.1v1.1h-1.1zM281.0 296.9h1.1v1.1h-1.1zM281.8 271.5h1.1v1.1h-1.1zM309.1 238.1h1.1v1.1h-1.1zM344.1 235.2h1.1v1.1h-1.1zM343.8 247.0h1.1v1.1h-1.1zM286.2 275.0h1.1v1.1h-1.1zM353.1 223.0h1.1v1.1h-1.1zM316.3 265.4h1.1v1.1h-1.1zM280.7 261.0h1.1v1.1h-1.1zM344.3 224.9h1.1v1.1h-1.1zM349.9 195.0h1.1v1.1h-1.1zM387.5 217.5h1.1v1.1h-1.1zM281.3 286.0h1.1v1.1h-1.1zM337.9 249.4h1.1v1.1h-1.1zM281.5 296.0h1.1v1.1h-1.1zM298.4 267.6h1.1v1.1h-1.1zM361.6 234.8h1.1v1.1h-1.1zM352.5 204.3h1.1v1.1h-1.1zM298.3 239.5h1.1v1.1h-1.1zM293.8 256.9h1.1v1.1h-1.1zM291.6 265.1h1.1v1.1h-1.1zM352.5 240.5h1.1v1.1h-1.1zM317.8 269.1h1.1v1.1h-1.1zM350.6 202.8h1.1v1.1h-1.1zM325.1 231.5h1.1v1.1h-1.1zM305.2 227.5h1.1v1.1h-1.1zM376.2 243.1h1.1v1.1h-1.1zM284.9 256.3h1.1v1.1h-1.1zM388.9 201.8h1.1v1.1h-1.1zM389.0 238.3h1.1v1.1h-1.1zM300.6 292.9h1.1v1.1h-1.1zM295.5 263.7h1.1v1.1h-1.1zM311.1 251.9h1.1v1.1h-1.1zM378.4 213.1h1.1v1.1h-1.1zM380.7 211.3h1.1v1.1h-1.1zM375.3 206.8h1.1v1.1h-1.1zM292.3 256.5h1.1v1.1h-1.1zM379.3 201.5h1.1v1.1h-1.1zM356.2 217.0h1.1v1.1h-1.1zM294.4 265.5h1.1v1.1h-1.1zM279.8 278.3h1.1v1.1h-1.1zM343.7 229.6h1.1v1.1h-1.1zM346.3 242.5h1.1v1.1h-1.1zM338.0 206.2h1.1v1.1h-1.1zM368.7 243.8h1.1v1.1h-1.1zM343.6 275.1h1.1v1.1h-1.1zM382.2 233.3h1.1v1.1h-1.1zM286.0 249.9h1.1v1.1h-1.1zM291.0 262.7h1.1v1.1h-1.1zM361.2 217.4h1.1v1.1h-1.1zM352.3 232.5h1.1v1.1h-1.1zM300.2 271.7h1.1v1.1h-1.1zM322.3 218.1h1.1v1.1h-1.1zM314.6 237.1h1.1v1.1h-1.1zM350.3 247.0h1.1v1.1h-1.1zM339.1 240.3h1.1v1.1h-1.1zM286.9 281.8h1.1v1.1h-1.1zM317.1 231.5h1.1v1.1h-1.1zM283.9 268.4h1.1v1.1h-1.1zM373.6 240.7h1.1v1.1h-1.1zM289.2 281.9h1.1v1.1h-1.1zM369.1 244.8h1.1v1.1h-1.1zM324.9 206.9h1.1v1.1h-1.1zM377.3 233.0h1.1v1.1h-1.1zM278.9 297.4h1.1v1.1h-1.1zM350.7 241.3h1.1v1.1h-1.1zM331.8 235.6h1.1v1.1h-1.1zM387.0 243.3h1.1v1.1h-1.1zM287.2 287.0h1.1v1.1h-1.1zM287.7 277.6h1.1v1.1h-1.1zM288.7 280.2h1.1v1.1h-1.1zM362.6 235.9h1.1v1.1h-1.1zM278.7 282.2h1.1v1.1h-1.1zM288.3 261.6h1.1v1.1h-1.1zM351.2 187.8h1.1v1.1h-1.1zM296.5 250.0h1.1v1.1h-1.1zM333.5 241.3h1.1v1.1h-1.1zM373.7 215.8h1.1v1.1h-1.1zM301.2 263.8h1.1v1.1h-1.1zM381.1 199.7h1.1v1.1h-1.1zM350.4 258.8h1.1v1.1h-1.1zM373.9 200.0h1.1v1.1h-1.1zM297.0 283.7h1.1v1.1h-1.1zM284.4 262.1h1.1v1.1h-1.1zM346.1 274.0h1.1v1.1h-1.1zM290.1 253.8h1.1v1.1h-1.1zM378.8 193.8h1.1v1.1h-1.1zM337.7 232.5h1.1v1.1h-1.1zM370.2 222.3h1.1v1.1h-1.1zM359.5 213.7h1.1v1.1h-1.1zM350.8 215.4h1.1v1.1h-1.1zM371.3 196.1h1.1v1.1h-1.1zM288.0 276.9h1.1v1.1h-1.1zM289.9 280.3h1.1v1.1h-1.1zM295.5 256.0h1.1v1.1h-1.1zM303.9 263.8h1.1v1.1h-1.1zM280.1 275.4h1.1v1.1h-1.1zM322.3 230.8h1.1v1.1h-1.1zM385.2 237.9h1.1v1.1h-1.1zM301.8 267.2h1.1v1.1h-1.1zM293.8 254.6h1.1v1.1h-1.1zM325.7 243.8h1.1v1.1h-1.1zM359.6 258.3h1.1v1.1h-1.1zM347.5 211.9h1.1v1.1h-1.1zM303.1 248.6h1.1v1.1h-1.1zM332.1 232.2h1.1v1.1h-1.1zM359.4 233.6h1.1v1.1h-1.1zM389.6 191.9h1.1v1.1h-1.1zM295.5 255.2h1.1v1.1h-1.1zM289.7 280.1h1.1v1.1h-1.1zM328.3 231.6h1.1v1.1h-1.1zM348.9 218.5h1.1v1.1h-1.1zM300.5 257.8h1.1v1.1h-1.1zM283.9 272.0h1.1v1.1h-1.1zM310.5 246.9h1.1v1.1h-1.1zM332.8 244.9h1.1v1.1h-1.1zM329.4 232.1h1.1v1.1h-1.1zM279.2 290.0h1.1v1.1h-1.1zM284.8 274.4h1.1v1.1h-1.1zM300.0 254.3h1.1v1.1h-1.1zM363.9 197.5h1.1v1.1h-1.1zM370.3 216.6h1.1v1.1h-1.1zM387.0 198.7h1.1v1.1h-1.1zM346.9 224.4h1.1v1.1h-1.1zM350.0 226.0h1.1v1.1h-1.1zM290.8 245.0h1.1v1.1h-1.1zM352.9 215.1h1.1v1.1h-1.1zM343.7 222.7h1.1v1.1h-1.1zM380.0 201.1h1.1v1.1h-1.1zM283.0 276.2h1.1v1.1h-1.1zM315.0 262.8h1.1v1.1h-1.1zM362.4 195.3h1.1v1.1h-1.1zM357.2 234.3h1.1v1.1h-1.1zM319.1 239.2h1.1v1.1h-1.1zM369.0 218.1h1.1v1.1h-1.1zM318.6 277.6h1.1v1.1h-1.1zM381.4 198.1h1.1v1.1h-1.1zM281.1 261.4h1.1v1.1h-1.1zM278.7 296.9h1.1v1.1h-1.1zM305.2 256.2h1.1v1.1h-1.1zM337.3 227.5h1.1v1.1h-1.1zM323.1 243.4h1.1v1.1h-1.1zM371.2 214.5h1.1v1.1h-1.1zM357.5 255.6h1.1v1.1h-1.1zM359.9 192.8h1.1v1.1h-1.1zM361.7 245.4h1.1v1.1h-1.1zM285.6 250.6h1.1v1.1h-1.1zM350.7 206.8h1.1v1.1h-1.1zM311.9 276.1h1.1v1.1h-1.1zM362.3 192.1h1.1v1.1h-1.1zM284.8 263.1h1.1v1.1h-1.1zM299.0 245.9h1.1v1.1h-1.1zM288.3 281.0h1.1v1.1h-1.1zM316.8 271.4h1.1v1.1h-1.1zM287.8 280.1h1.1v1.1h-1.1zM315.2 241.5h1.1v1.1h-1.1zM364.0 238.8h1.1v1.1h-1.1zM359.5 208.8h1.1v1.1h-1.1zM328.9 268.2h1.1v1.1h-1.1zM299.5 250.7h1.1v1.1h-1.1zM313.9 233.9h1.1v1.1h-1.1zM382.4 185.1h1.1v1.1h-1.1zM295.2 270.9h1.1v1.1h-1.1zM334.5 217.5h1.1v1.1h-1.1zM389.7 179.0h1.1v1.1h-1.1zM357.4 269.1h1.1v1.1h-1.1zM379.2 218.2h1.1v1.1h-1.1zM350.0 220.4h1.1v1.1h-1.1zM278.7 275.0h1.1v1.1h-1.1zM344.0 253.6h1.1v1.1h-1.1zM359.2 223.3h1.1v1.1h-1.1zM281.8 294.3h1.1v1.1h-1.1zM329.9 234.7h1.1v1.1h-1.1zM296.6 273.2h1.1v1.1h-1.1zM347.0 209.8h1.1v1.1h-1.1zM281.8 286.1h1.1v1.1h-1.1zM287.8 263.8h1.1v1.1h-1.1zM299.3 266.0h1.1v1.1h-1.1zM372.9 219.3h1.1v1.1h-1.1zM306.0 238.1h1.1v1.1h-1.1zM345.1 226.1h1.1v1.1h-1.1zM387.9 194.8h1.1v1.1h-1.1zM283.6 279.2h1.1v1.1h-1.1zM321.2 220.6h1.1v1.1h-1.1zM333.4 236.2h1.1v1.1h-1.1zM359.4 192.8h1.1v1.1h-1.1zM285.7 252.3h1.1v1.1h-1.1zM361.7 250.6h1.1v1.1h-1.1zM329.6 246.5h1.1v1.1h-1.1zM356.7 204.1h1.1v1.1h-1.1zM285.4 291.7h1.1v1.1h-1.1zM338.0 221.9h1.1v1.1h-1.1zM355.2 206.3h1.1v1.1h-1.1zM303.9 252.2h1.1v1.1h-1.1zM328.9 253.3h1.1v1.1h-1.1zM308.7 267.6h1.1v1.1h-1.1zM300.2 261.6h1.1v1.1h-1.1zM325.3 246.0h1.1v1.1h-1.1zM355.6 209.2h1.1v1.1h-1.1zM353.0 267.6h1.1v1.1h-1.1zM282.2 264.0h1.1v1.1h-1.1zM292.1 275.2h1.1v1.1h-1.1zM339.8 232.5h1.1v1.1h-1.1zM297.1 278.5h1.1v1.1h-1.1zM378.4 265.4h1.1v1.1h-1.1zM323.0 248.5h1.1v1.1h-1.1zM387.2 198.1h1.1v1.1h-1.1zM371.6 227.8h1.1v1.1h-1.1zM280.6 297.4h1.1v1.1h-1.1zM288.7 253.4h1.1v1.1h-1.1zM367.0 216.6h1.1v1.1h-1.1zM314.5 239.8h1.1v1.1h-1.1zM323.4 229.1h1.1v1.1h-1.1zM288.0 273.9h1.1v1.1h-1.1zM301.6 247.8h1.1v1.1h-1.1zM341.4 213.5h1.1v1.1h-1.1zM322.2 241.5h1.1v1.1h-1.1zM336.1 209.1h1.1v1.1h-1.1zM280.9 281.2h1.1v1.1h-1.1zM317.6 221.9h1.1v1.1h-1.1zM339.2 226.2h1.1v1.1h-1.1zM384.1 204.6h1.1v1.1h-1.1zM337.1 229.0h1.1v1.1h-1.1zM293.4 252.1h1.1v1.1h-1.1zM384.8 245.6h1.1v1.1h-1.1zM339.5 256.9h1.1v1.1h-1.1zM323.9 238.2h1.1v1.1h-1.1zM361.0 203.2h1.1v1.1h-1.1zM286.3 278.9h1.1v1.1h-1.1zM280.5 297.4h1.1v1.1h-1.1zM287.5 279.1h1.1v1.1h-1.1zM351.5 246.7h1.1v1.1h-1.1zM278.8 288.8h1.1v1.1h-1.1zM279.1 289.5h1.1v1.1h-1.1zM307.3 260.6h1.1v1.1h-1.1zM337.4 214.3h1.1v1.1h-1.1zM366.4 238.2h1.1v1.1h-1.1zM354.8 254.5h1.1v1.1h-1.1zM353.9 197.2h1.1v1.1h-1.1zM280.3 283.6h1.1v1.1h-1.1zM362.9 219.9h1.1v1.1h-1.1zM364.8 255.4h1.1v1.1h-1.1zM387.5 209.1h1.1v1.1h-1.1zM364.6 242.7h1.1v1.1h-1.1zM380.0 203.2h1.1v1.1h-1.1zM285.4 266.0h1.1v1.1h-1.1zM314.0 240.6h1.1v1.1h-1.1zM351.0 227.8h1.1v1.1h-1.1zM290.5 260.4h1.1v1.1h-1.1zM324.8 262.1h1.1v1.1h-1.1zM341.9 253.2h1.1v1.1h-1.1zM340.0 221.6h1.1v1.1h-1.1zM387.0 220.7h1.1v1.1h-1.1zM284.6 279.7h1.1v1.1h-1.1zM311.1 260.6h1.1v1.1h-1.1zM378.7 205.0h1.1v1.1h-1.1zM278.9 287.3h1.1v1.1h-1.1zM330.9 237.6h1.1v1.1h-1.1zM343.0 236.3h1.1v1.1h-1.1zM320.4 219.4h1.1v1.1h-1.1zM312.1 249.8h1.1v1.1h-1.1zM300.9 291.2h1.1v1.1h-1.1zM358.4 256.2h1.1v1.1h-1.1zM295.9 260.1h1.1v1.1h-1.1zM306.9 235.3h1.1v1.1h-1.1zM310.2 241.4h1.1v1.1h-1.1zM334.3 243.8h1.1v1.1h-1.1zM360.0 230.9h1.1v1.1h-1.1zM294.9 268.4h1.1v1.1h-1.1zM372.2 217.9h1.1v1.1h-1.1zM381.7 227.6h1.1v1.1h-1.1zM285.6 275.1h1.1v1.1h-1.1zM301.5 242.4h1.1v1.1h-1.1zM373.7 205.6h1.1v1.1h-1.1zM279.0 286.3h1.1v1.1h-1.1zM296.8 254.5h1.1v1.1h-1.1zM371.3 222.2h1.1v1.1h-1.1zM311.5 227.6h1.1v1.1h-1.1zM347.1 187.2h1.1v1.1h-1.1zM296.0 243.5h1.1v1.1h-1.1zM302.2 270.9h1.1v1.1h-1.1zM363.8 255.1h1.1v1.1h-1.1zM281.0 281.2h1.1v1.1h-1.1zM280.7 259.8h1.1v1.1h-1.1zM289.0 277.4h1.1v1.1h-1.1zM328.8 219.0h1.1v1.1h-1.1zM384.5 243.1h1.1v1.1h-1.1zM348.1 244.6h1.1v1.1h-1.1zM316.8 226.4h1.1v1.1h-1.1zM327.4 248.6h1.1v1.1h-1.1zM326.0 236.3h1.1v1.1h-1.1zM361.3 231.0h1.1v1.1h-1.1zM360.7 229.1h1.1v1.1h-1.1zM343.9 250.6h1.1v1.1h-1.1zM312.4 209.0h1.1v1.1h-1.1zM304.2 241.9h1.1v1.1h-1.1zM285.0 264.9h1.1v1.1h-1.1zM279.5 286.4h1.1v1.1h-1.1zM348.2 218.6h1.1v1.1h-1.1zM376.4 232.9h1.1v1.1h-1.1zM320.5 277.0h1.1v1.1h-1.1zM351.1 237.3h1.1v1.1h-1.1zM281.7 263.7h1.1v1.1h-1.1zM350.1 216.2h1.1v1.1h-1.1zM380.8 229.2h1.1v1.1h-1.1zM377.2 213.9h1.1v1.1h-1.1zM374.3 241.3h1.1v1.1h-1.1zM335.9 231.0h1.1v1.1h-1.1zM293.0 266.4h1.1v1.1h-1.1zM387.2 244.5h1.1v1.1h-1.1zM296.3 267.4h1.1v1.1h-1.1zM325.6 238.0h1.1v1.1h-1.1zM307.4 258.2h1.1v1.1h-1.1zM288.7 259.2h1.1v1.1h-1.1zM325.7 227.8h1.1v1.1h-1.1zM305.5 266.8h1.1v1.1h-1.1zM307.1 220.6h1.1v1.1h-1.1zM384.7 256.1h1.1v1.1h-1.1zM375.3 234.5h1.1v1.1h-1.1zM345.5 297.1h1.1v1.1h-1.1zM351.2 210.3h1.1v1.1h-1.1zM320.2 229.7h1.1v1.1h-1.1zM283.6 263.9h1.1v1.1h-1.1zM358.6 235.9h1.1v1.1h-1.1zM340.6 206.1h1.1v1.1h-1.1zM314.5 213.0h1.1v1.1h-1.1zM328.2 242.2h1.1v1.1h-1.1zM286.3 269.6h1.1v1.1h-1.1zM298.6 284.3h1.1v1.1h-1.1zM291.3 261.6h1.1v1.1h-1.1zM283.6 297.4h1.1v1.1h-1.1zM360.3 214.3h1.1v1.1h-1.1zM380.1 202.2h1.1v1.1h-1.1zM300.8 277.2h1.1v1.1h-1.1zM345.9 223.0h1.1v1.1h-1.1zM319.9 227.8h1.1v1.1h-1.1zM291.3 267.1h1.1v1.1h-1.1zM360.3 213.9h1.1v1.1h-1.1zM302.2 225.0h1.1v1.1h-1.1zM299.9 243.8h1.1v1.1h-1.1zM311.4 257.3h1.1v1.1h-1.1zM383.3 220.0h1.1v1.1h-1.1zM384.5 207.4h1.1v1.1h-1.1zM373.0 169.0h1.1v1.1h-1.1zM318.5 239.5h1.1v1.1h-1.1zM295.4 256.9h1.1v1.1h-1.1zM278.5 290.7h1.1v1.1h-1.1zM285.3 267.5h1.1v1.1h-1.1zM346.5 239.2h1.1v1.1h-1.1zM347.2 258.0h1.1v1.1h-1.1zM299.0 275.4h1.1v1.1h-1.1zM314.7 245.9h1.1v1.1h-1.1zM302.0 241.8h1.1v1.1h-1.1zM308.3 252.2h1.1v1.1h-1.1zM299.3 260.0h1.1v1.1h-1.1zM332.5 272.0h1.1v1.1h-1.1zM355.2 198.0h1.1v1.1h-1.1zM333.9 259.8h1.1v1.1h-1.1zM338.9 231.7h1.1v1.1h-1.1zM331.3 262.7h1.1v1.1h-1.1zM283.8 275.8h1.1v1.1h-1.1zM295.7 253.6h1.1v1.1h-1.1zM278.9 297.4h1.1v1.1h-1.1zM324.4 237.7h1.1v1.1h-1.1zM280.6 297.4h1.1v1.1h-1.1zM368.9 196.7h1.1v1.1h-1.1zM355.4 242.6h1.1v1.1h-1.1zM281.2 273.9h1.1v1.1h-1.1zM389.1 189.6h1.1v1.1h-1.1zM316.3 238.5h1.1v1.1h-1.1zM290.1 270.8h1.1v1.1h-1.1zM287.7 273.2h1.1v1.1h-1.1zM298.1 264.0h1.1v1.1h-1.1zM303.9 209.5h1.1v1.1h-1.1zM347.5 228.1h1.1v1.1h-1.1zM289.9 258.0h1.1v1.1h-1.1zM302.4 284.4h1.1v1.1h-1.1zM288.1 261.4h1.1v1.1h-1.1zM298.9 239.6h1.1v1.1h-1.1zM299.7 273.4h1.1v1.1h-1.1zM316.7 222.1h1.1v1.1h-1.1zM385.1 175.9h1.1v1.1h-1.1zM315.8 246.4h1.1v1.1h-1.1zM286.3 201.8h1.1v1.1h-1.1zM290.1 250.6h1.1v1.1h-1.1zM339.0 206.2h1.1v1.1h-1.1zM354.4 197.3h1.1v1.1h-1.1zM353.6 194.8h1.1v1.1h-1.1zM286.7 237.2h1.1v1.1h-1.1zM344.2 203.9h1.1v1.1h-1.1zM286.5 245.1h1.1v1.1h-1.1zM334.8 204.7h1.1v1.1h-1.1zM312.8 207.1h1.1v1.1h-1.1zM296.1 238.4h1.1v1.1h-1.1zM320.0 194.2h1.1v1.1h-1.1zM312.8 220.3h1.1v1.1h-1.1zM295.0 229.9h1.1v1.1h-1.1zM386.4 184.7h1.1v1.1h-1.1zM327.6 210.2h1.1v1.1h-1.1zM305.4 201.2h1.1v1.1h-1.1zM387.2 186.5h1.1v1.1h-1.1zM341.4 196.3h1.1v1.1h-1.1zM352.0 198.6h1.1v1.1h-1.1zM295.6 236.4h1.1v1.1h-1.1zM321.8 212.6h1.1v1.1h-1.1zM279.9 207.9h1.1v1.1h-1.1zM307.6 216.8h1.1v1.1h-1.1zM300.8 198.4h1.1v1.1h-1.1zM342.8 191.9h1.1v1.1h-1.1zM295.1 214.6h1.1v1.1h-1.1zM316.6 215.4h1.1v1.1h-1.1zM341.5 205.0h1.1v1.1h-1.1zM383.1 188.2h1.1v1.1h-1.1zM362.7 193.0h1.1v1.1h-1.1zM287.3 217.9h1.1v1.1h-1.1zM282.6 216.1h1.1v1.1h-1.1zM294.4 241.2h1.1v1.1h-1.1zM279.8 269.3h1.1v1.1h-1.1zM370.5 186.3h1.1v1.1h-1.1zM317.4 199.1h1.1v1.1h-1.1zM299.8 226.7h1.1v1.1h-1.1zM312.5 216.4h1.1v1.1h-1.1zM326.0 206.5h1.1v1.1h-1.1zM351.0 192.0h1.1v1.1h-1.1zM309.6 216.7h1.1v1.1h-1.1zM330.9 209.8h1.1v1.1h-1.1zM282.0 261.0h1.1v1.1h-1.1zM356.8 197.4h1.1v1.1h-1.1zM284.6 221.3h1.1v1.1h-1.1zM344.9 199.9h1.1v1.1h-1.1zM286.8 206.4h1.1v1.1h-1.1zM295.6 243.3h1.1v1.1h-1.1zM353.5 198.3h1.1v1.1h-1.1zM385.7 182.4h1.1v1.1h-1.1zM316.8 201.6h1.1v1.1h-1.1zM288.5 225.1h1.1v1.1h-1.1zM304.2 228.0h1.1v1.1h-1.1zM351.2 188.1h1.1v1.1h-1.1zM329.2 197.5h1.1v1.1h-1.1zM310.4 217.9h1.1v1.1h-1.1zM349.5 194.3h1.1v1.1h-1.1zM278.8 276.9h1.1v1.1h-1.1zM345.8 198.6h1.1v1.1h-1.1zM287.5 245.0h1.1v1.1h-1.1zM379.4 189.0h1.1v1.1h-1.1zM278.6 285.2h1.1v1.1h-1.1zM330.4 191.4h1.1v1.1h-1.1zM384.5 185.7h1.1v1.1h-1.1zM288.1 252.1h1.1v1.1h-1.1zM372.6 186.1h1.1v1.1h-1.1zM339.0 190.0h1.1v1.1h-1.1zM329.4 199.0h1.1v1.1h-1.1zM312.4 220.9h1.1v1.1h-1.1zM376.0 188.2h1.1v1.1h-1.1zM281.1 218.6h1.1v1.1h-1.1zM286.2 249.9h1.1v1.1h-1.1zM365.1 189.3h1.1v1.1h-1.1zM380.7 183.5h1.1v1.1h-1.1zM306.3 221.6h1.1v1.1h-1.1zM288.6 215.1h1.1v1.1h-1.1zM369.2 190.4h1.1v1.1h-1.1zM362.5 184.9h1.1v1.1h-1.1zM341.7 200.3h1.1v1.1h-1.1zM345.3 198.0h1.1v1.1h-1.1zM308.2 215.9h1.1v1.1h-1.1zM369.0 191.5h1.1v1.1h-1.1zM283.2 201.8h1.1v1.1h-1.1zM289.6 248.7h1.1v1.1h-1.1zM300.8 196.9h1.1v1.1h-1.1zM330.2 196.0h1.1v1.1h-1.1zM350.8 191.0h1.1v1.1h-1.1zM279.0 277.9h1.1v1.1h-1.1zM341.3 194.6h1.1v1.1h-1.1zM359.3 194.8h1.1v1.1h-1.1zM309.7 197.9h1.1v1.1h-1.1zM359.3 195.2h1.1v1.1h-1.1zM350.4 200.7h1.1v1.1h-1.1zM358.3 196.0h1.1v1.1h-1.1zM287.2 231.5h1.1v1.1h-1.1zM328.5 203.3h1.1v1.1h-1.1zM294.7 208.3h1.1v1.1h-1.1zM342.6 204.7h1.1v1.1h-1.1zM386.7 187.1h1.1v1.1h-1.1zM282.9 229.6h1.1v1.1h-1.1zM333.5 208.8h1.1v1.1h-1.1zM293.5 238.4h1.1v1.1h-1.1zM369.8 191.6h1.1v1.1h-1.1zM293.1 247.7h1.1v1.1h-1.1zM307.2 225.9h1.1v1.1h-1.1zM318.8 210.2h1.1v1.1h-1.1zM293.9 238.5h1.1v1.1h-1.1zM329.9 199.8h1.1v1.1h-1.1zM377.5 189.4h1.1v1.1h-1.1zM374.6 188.8h1.1v1.1h-1.1zM288.2 245.5h1.1v1.1h-1.1zM296.6 206.9h1.1v1.1h-1.1zM278.8 277.3h1.1v1.1h-1.1zM328.6 210.1h1.1v1.1h-1.1zM370.3 191.7h1.1v1.1h-1.1zM378.9 185.9h1.1v1.1h-1.1zM370.1 189.5h1.1v1.1h-1.1zM281.0 218.0h1.1v1.1h-1.1zM310.7 211.8h1.1v1.1h-1.1zM354.9 198.3h1.1v1.1h-1.1zM295.7 238.1h1.1v1.1h-1.1zM289.3 209.0h1.1v1.1h-1.1zM342.1 202.7h1.1v1.1h-1.1zM354.4 191.0h1.1v1.1h-1.1zM303.1 208.8h1.1v1.1h-1.1zM354.4 190.5h1.1v1.1h-1.1zM363.6 195.0h1.1v1.1h-1.1zM312.9 214.5h1.1v1.1h-1.1zM316.3 193.1h1.1v1.1h-1.1zM335.0 192.5h1.1v1.1h-1.1zM312.8 214.8h1.1v1.1h-1.1zM300.2 216.6h1.1v1.1h-1.1zM364.4 189.1h1.1v1.1h-1.1zM279.2 266.3h1.1v1.1h-1.1zM278.7 275.2h1.1v1.1h-1.1zM292.9 244.6h1.1v1.1h-1.1zM287.2 251.2h1.1v1.1h-1.1zM381.6 188.7h1.1v1.1h-1.1zM360.6 188.2h1.1v1.1h-1.1zM361.4 195.7h1.1v1.1h-1.1zM373.7 183.3h1.1v1.1h-1.1zM362.4 186.1h1.1v1.1h-1.1zM303.0 206.9h1.1v1.1h-1.1zM316.9 217.3h1.1v1.1h-1.1zM330.4 210.3h1.1v1.1h-1.1zM372.8 186.6h1.1v1.1h-1.1zM326.4 195.6h1.1v1.1h-1.1zM379.1 188.6h1.1v1.1h-1.1zM333.0 196.9h1.1v1.1h-1.1z" fill="rgb(55,145,100)" fill-opacity="0.62"/>
<path d="M282.2 296.5h1.1v1.1h-1.1zM380.9 209.9h1.1v1.1h-1.1zM378.3 226.4h1.1v1.1h-1.1zM373.7 257.3h1.1v1.1h-1.1zM310.1 277.5h1.1v1.1h-1.1zM342.4 285.1h1.1v1.1h-1.1zM358.5 248.5h1.1v1.1h-1.1zM304.5 280.8h1.1v1.1h-1.1zM357.8 265.4h1.1v1.1h-1.1zM323.4 242.0h1.1v1.1h-1.1zM281.9 297.4h1.1v1.1h-1.1zM379.3 241.2h1.1v1.1h-1.1zM302.1 297.4h1.1v1.1h-1.1zM343.1 263.9h1.1v1.1h-1.1zM346.2 263.7h1.1v1.1h-1.1zM319.2 262.4h1.1v1.1h-1.1zM336.3 279.6h1.1v1.1h-1.1zM343.1 259.9h1.1v1.1h-1.1zM354.4 255.0h1.1v1.1h-1.1zM338.5 269.8h1.1v1.1h-1.1zM283.3 296.5h1.1v1.1h-1.1zM327.6 281.5h1.1v1.1h-1.1zM324.4 263.8h1.1v1.1h-1.1zM338.9 269.1h1.1v1.1h-1.1zM371.7 255.8h1.1v1.1h-1.1zM334.3 258.4h1.1v1.1h-1.1zM327.7 280.2h1.1v1.1h-1.1zM329.2 281.3h1.1v1.1h-1.1zM371.4 240.5h1.1v1.1h-1.1zM310.2 276.3h1.1v1.1h-1.1zM327.7 269.2h1.1v1.1h-1.1zM388.1 265.8h1.1v1.1h-1.1zM298.0 294.0h1.1v1.1h-1.1zM321.2 263.3h1.1v1.1h-1.1zM300.7 276.1h1.1v1.1h-1.1zM356.5 264.2h1.1v1.1h-1.1zM282.6 295.8h1.1v1.1h-1.1zM334.0 264.8h1.1v1.1h-1.1zM319.9 254.8h1.1v1.1h-1.1zM386.3 255.0h1.1v1.1h-1.1zM346.1 272.0h1.1v1.1h-1.1zM361.0 228.6h1.1v1.1h-1.1zM383.2 224.6h1.1v1.1h-1.1zM361.8 276.2h1.1v1.1h-1.1zM303.5 271.8h1.1v1.1h-1.1zM292.1 287.9h1.1v1.1h-1.1zM354.2 234.4h1.1v1.1h-1.1zM301.8 297.4h1.1v1.1h-1.1zM322.4 290.5h1.1v1.1h-1.1zM370.2 252.0h1.1v1.1h-1.1zM363.4 258.9h1.1v1.1h-1.1zM281.1 297.4h1.1v1.1h-1.1zM279.5 297.4h1.1v1.1h-1.1zM365.7 254.9h1.1v1.1h-1.1zM344.3 274.8h1.1v1.1h-1.1zM330.5 244.7h1.1v1.1h-1.1zM362.5 255.0h1.1v1.1h-1.1zM286.6 296.8h1.1v1.1h-1.1zM319.6 262.8h1.1v1.1h-1.1zM364.8 263.4h1.1v1.1h-1.1zM339.9 258.5h1.1v1.1h-1.1zM356.7 292.1h1.1v1.1h-1.1zM307.0 297.4h1.1v1.1h-1.1zM382.3 234.1h1.1v1.1h-1.1zM352.8 251.2h1.1v1.1h-1.1zM376.2 249.5h1.1v1.1h-1.1zM301.6 291.0h1.1v1.1h-1.1zM308.5 277.2h1.1v1.1h-1.1zM358.1 234.5h1.1v1.1h-1.1zM354.1 253.3h1.1v1.1h-1.1zM373.6 269.8h1.1v1.1h-1.1zM279.3 297.4h1.1v1.1h-1.1zM376.1 273.0h1.1v1.1h-1.1zM376.6 236.9h1.1v1.1h-1.1zM286.5 297.4h1.1v1.1h-1.1zM387.5 242.7h1.1v1.1h-1.1zM313.8 271.9h1.1v1.1h-1.1zM363.6 253.6h1.1v1.1h-1.1zM374.2 275.9h1.1v1.1h-1.1zM353.3 246.8h1.1v1.1h-1.1zM361.4 278.2h1.1v1.1h-1.1zM281.7 294.8h1.1v1.1h-1.1zM293.0 288.0h1.1v1.1h-1.1zM295.3 295.4h1.1v1.1h-1.1zM379.9 251.0h1.1v1.1h-1.1zM290.9 286.6h1.1v1.1h-1.1zM344.6 252.1h1.1v1.1h-1.1zM388.5 217.5h1.1v1.1h-1.1zM307.3 286.2h1.1v1.1h-1.1zM387.3 230.2h1.1v1.1h-1.1zM302.7 291.1h1.1v1.1h-1.1zM323.2 290.0h1.1v1.1h-1.1zM354.2 271.1h1.1v1.1h-1.1zM321.0 260.8h1.1v1.1h-1.1zM369.9 218.5h1.1v1.1h-1.1zM279.9 297.4h1.1v1.1h-1.1zM358.6 247.5h1.1v1.1h-1.1zM377.2 268.2h1.1v1.1h-1.1zM345.1 244.3h1.1v1.1h-1.1zM311.1 264.2h1.1v1.1h-1.1zM309.1 280.2h1.1v1.1h-1.1zM317.9 271.0h1.1v1.1h-1.1zM319.6 271.5h1.1v1.1h-1.1zM324.6 261.9h1.1v1.1h-1.1zM373.0 245.6h1.1v1.1h-1.1zM373.2 237.9h1.1v1.1h-1.1zM364.1 248.8h1.1v1.1h-1.1zM288.4 294.6h1.1v1.1h-1.1zM334.7 265.5h1.1v1.1h-1.1zM321.0 285.9h1.1v1.1h-1.1zM300.9 290.8h1.1v1.1h-1.1zM295.0 297.4h1.1v1.1h-1.1zM287.4 297.4h1.1v1.1h-1.1zM304.8 285.0h1.1v1.1h-1.1zM300.0 293.9h1.1v1.1h-1.1zM363.1 269.1h1.1v1.1h-1.1zM376.0 276.3h1.1v1.1h-1.1zM302.4 297.4h1.1v1.1h-1.1zM287.0 294.0h1.1v1.1h-1.1zM378.3 236.7h1.1v1.1h-1.1zM306.2 278.3h1.1v1.1h-1.1zM349.0 256.0h1.1v1.1h-1.1zM379.0 286.5h1.1v1.1h-1.1zM338.6 283.9h1.1v1.1h-1.1zM319.9 292.3h1.1v1.1h-1.1zM306.6 287.7h1.1v1.1h-1.1zM374.2 265.5h1.1v1.1h-1.1zM280.1 297.4h1.1v1.1h-1.1zM349.5 282.9h1.1v1.1h-1.1zM336.7 267.9h1.1v1.1h-1.1zM338.2 262.7h1.1v1.1h-1.1zM325.6 279.7h1.1v1.1h-1.1zM332.6 262.1h1.1v1.1h-1.1zM353.4 227.3h1.1v1.1h-1.1zM305.4 274.6h1.1v1.1h-1.1zM282.5 295.9h1.1v1.1h-1.1zM308.9 289.7h1.1v1.1h-1.1zM336.7 275.2h1.1v1.1h-1.1zM377.0 255.7h1.1v1.1h-1.1zM283.7 295.0h1.1v1.1h-1.1zM344.0 248.6h1.1v1.1h-1.1zM354.1 223.2h1.1v1.1h-1.1zM338.6 250.0h1.1v1.1h-1.1zM305.4 277.5h1.1v1.1h-1.1zM306.6 282.0h1.1v1.1h-1.1zM307.2 283.3h1.1v1.1h-1.1zM348.0 242.4h1.1v1.1h-1.1zM309.6 282.8h1.1v1.1h-1.1zM356.8 273.1h1.1v1.1h-1.1zM329.5 274.0h1.1v1.1h-1.1zM351.4 246.3h1.1v1.1h-1.1zM318.4 271.3h1.1v1.1h-1.1zM290.5 296.4h1.1v1.1h-1.1zM307.7 275.2h1.1v1.1h-1.1zM348.0 282.7h1.1v1.1h-1.1zM308.1 280.5h1.1v1.1h-1.1zM355.4 267.8h1.1v1.1h-1.1zM343.5 266.1h1.1v1.1h-1.1zM375.4 250.8h1.1v1.1h-1.1zM339.7 272.4h1.1v1.1h-1.1zM379.4 244.8h1.1v1.1h-1.1zM312.0 271.9h1.1v1.1h-1.1zM352.1 277.0h1.1v1.1h-1.1zM340.0 280.6h1.1v1.1h-1.1zM373.1 250.9h1.1v1.1h-1.1zM371.8 235.9h1.1v1.1h-1.1zM356.3 276.4h1.1v1.1h-1.1zM309.5 281.5h1.1v1.1h-1.1zM350.4 280.0h1.1v1.1h-1.1zM345.4 259.2h1.1v1.1h-1.1zM371.6 243.5h1.1v1.1h-1.1zM312.5 269.0h1.1v1.1h-1.1zM329.0 271.8h1.1v1.1h-1.1zM303.3 297.4h1.1v1.1h-1.1zM318.8 297.4h1.1v1.1h-1.1zM379.1 229.5h1.1v1.1h-1.1zM330.5 255.5h1.1v1.1h-1.1zM291.1 288.7h1.1v1.1h-1.1zM363.3 250.7h1.1v1.1h-1.1zM292.9 284.7h1.1v1.1h-1.1zM305.1 276.1h1.1v1.1h-1.1zM327.4 277.7h1.1v1.1h-1.1zM346.8 260.9h1.1v1.1h-1.1zM374.1 246.3h1.1v1.1h-1.1zM387.5 244.8h1.1v1.1h-1.1zM301.2 287.9h1.1v1.1h-1.1zM289.4 291.7h1.1v1.1h-1.1zM316.6 283.7h1.1v1.1h-1.1zM387.7 254.5h1.1v1.1h-1.1zM376.4 235.0h1.1v1.1h-1.1zM306.9 297.3h1.1v1.1h-1.1zM294.2 293.6h1.1v1.1h-1.1zM387.3 269.4h1.1v1.1h-1.1zM356.3 271.3h1.1v1.1h-1.1zM374.1 229.8h1.1v1.1h-1.1zM313.3 271.3h1.1v1.1h-1.1zM344.6 236.2h1.1v1.1h-1.1zM324.0 276.7h1.1v1.1h-1.1zM305.1 287.3h1.1v1.1h-1.1zM340.7 247.2h1.1v1.1h-1.1zM285.4 297.3h1.1v1.1h-1.1zM291.4 287.4h1.1v1.1h-1.1zM333.7 261.7h1.1v1.1h-1.1zM371.0 269.6h1.1v1.1h-1.1zM317.1 270.3h1.1v1.1h-1.1zM293.0 296.7h1.1v1.1h-1.1zM320.1 282.4h1.1v1.1h-1.1zM317.0 274.6h1.1v1.1h-1.1zM354.8 245.5h1.1v1.1h-1.1zM379.4 257.8h1.1v1.1h-1.1zM365.1 261.3h1.1v1.1h-1.1zM372.6 252.3h1.1v1.1h-1.1zM307.2 283.7h1.1v1.1h-1.1zM287.2 297.4h1.1v1.1h-1.1zM293.1 295.1h1.1v1.1h-1.1zM290.8 290.8h1.1v1.1h-1.1zM282.0 295.6h1.1v1.1h-1.1zM290.3 297.4h1.1v1.1h-1.1zM303.1 286.2h1.1v1.1h-1.1zM387.0 218.9h1.1v1.1h-1.1zM328.4 262.1h1.1v1.1h-1.1zM324.1 297.4h1.1v1.1h-1.1zM296.6 292.4h1.1v1.1h-1.1zM331.5 276.9h1.1v1.1h-1.1zM308.7 297.3h1.1v1.1h-1.1zM298.8 281.9h1.1v1.1h-1.1zM278.5 297.4h1.1v1.1h-1.1zM291.2 292.3h1.1v1.1h-1.1zM322.5 297.4h1.1v1.1h-1.1zM321.4 277.1h1.1v1.1h-1.1zM278.9 297.4h1.1v1.1h-1.1zM345.9 249.2h1.1v1.1h-1.1zM380.7 229.3h1.1v1.1h-1.1zM388.7 261.8h1.1v1.1h-1.1zM292.5 289.9h1.1v1.1h-1.1zM293.8 296.9h1.1v1.1h-1.1zM321.2 287.8h1.1v1.1h-1.1zM348.4 262.4h1.1v1.1h-1.1zM369.4 259.2h1.1v1.1h-1.1zM350.9 278.7h1.1v1.1h-1.1zM289.7 289.2h1.1v1.1h-1.1zM280.7 297.4h1.1v1.1h-1.1zM332.1 286.5h1.1v1.1h-1.1zM309.1 281.1h1.1v1.1h-1.1zM310.4 270.5h1.1v1.1h-1.1zM301.7 291.5h1.1v1.1h-1.1zM289.4 293.4h1.1v1.1h-1.1zM319.1 261.7h1.1v1.1h-1.1zM290.2 296.8h1.1v1.1h-1.1zM322.7 268.7h1.1v1.1h-1.1zM290.7 288.5h1.1v1.1h-1.1zM318.3 266.1h1.1v1.1h-1.1zM340.3 251.1h1.1v1.1h-1.1zM289.2 293.7h1.1v1.1h-1.1zM279.8 297.4h1.1v1.1h-1.1zM285.0 297.4h1.1v1.1h-1.1zM332.6 269.2h1.1v1.1h-1.1zM296.8 295.5h1.1v1.1h-1.1zM281.3 297.4h1.1v1.1h-1.1zM371.5 247.8h1.1v1.1h-1.1zM286.3 297.4h1.1v1.1h-1.1zM323.9 275.0h1.1v1.1h-1.1zM359.4 258.5h1.1v1.1h-1.1zM360.8 256.3h1.1v1.1h-1.1zM343.9 266.7h1.1v1.1h-1.1zM331.3 249.1h1.1v1.1h-1.1zM279.9 297.4h1.1v1.1h-1.1zM291.6 285.8h1.1v1.1h-1.1zM384.3 258.4h1.1v1.1h-1.1zM304.5 297.4h1.1v1.1h-1.1zM379.6 248.3h1.1v1.1h-1.1zM283.1 297.4h1.1v1.1h-1.1zM328.9 253.6h1.1v1.1h-1.1zM293.1 293.2h1.1v1.1h-1.1zM369.5 257.5h1.1v1.1h-1.1zM315.1 248.8h1.1v1.1h-1.1zM338.1 277.6h1.1v1.1h-1.1zM359.7 253.3h1.1v1.1h-1.1zM282.1 294.9h1.1v1.1h-1.1zM364.5 252.4h1.1v1.1h-1.1zM357.8 247.6h1.1v1.1h-1.1zM287.0 291.6h1.1v1.1h-1.1zM320.0 257.1h1.1v1.1h-1.1zM367.3 250.0h1.1v1.1h-1.1zM289.5 290.7h1.1v1.1h-1.1zM358.4 246.5h1.1v1.1h-1.1zM292.6 287.5h1.1v1.1h-1.1zM356.4 275.4h1.1v1.1h-1.1zM280.9 297.4h1.1v1.1h-1.1zM315.1 295.2h1.1v1.1h-1.1zM333.7 289.0h1.1v1.1h-1.1zM369.4 258.7h1.1v1.1h-1.1zM345.2 279.5h1.1v1.1h-1.1zM377.8 219.0h1.1v1.1h-1.1zM356.4 246.2h1.1v1.1h-1.1zM321.9 286.8h1.1v1.1h-1.1zM295.2 293.2h1.1v1.1h-1.1zM319.2 282.9h1.1v1.1h-1.1zM349.1 247.5h1.1v1.1h-1.1zM316.5 270.0h1.1v1.1h-1.1zM285.8 297.4h1.1v1.1h-1.1zM351.6 260.5h1.1v1.1h-1.1zM296.3 297.4h1.1v1.1h-1.1zM323.6 260.6h1.1v1.1h-1.1zM323.4 267.2h1.1v1.1h-1.1zM317.8 283.9h1.1v1.1h-1.1zM387.7 219.1h1.1v1.1h-1.1zM293.5 291.2h1.1v1.1h-1.1zM326.5 261.7h1.1v1.1h-1.1zM372.1 255.3h1.1v1.1h-1.1zM295.3 297.4h1.1v1.1h-1.1zM346.2 258.6h1.1v1.1h-1.1zM322.1 272.2h1.1v1.1h-1.1zM364.4 275.4h1.1v1.1h-1.1zM332.0 289.5h1.1v1.1h-1.1zM289.6 293.7h1.1v1.1h-1.1zM305.7 281.5h1.1v1.1h-1.1zM369.2 254.6h1.1v1.1h-1.1zM389.6 228.1h1.1v1.1h-1.1zM374.4 273.2h1.1v1.1h-1.1zM313.2 264.3h1.1v1.1h-1.1zM313.7 263.6h1.1v1.1h-1.1zM281.3 288.8h1.1v1.1h-1.1zM308.0 268.1h1.1v1.1h-1.1zM311.9 265.4h1.1v1.1h-1.1zM300.7 274.2h1.1v1.1h-1.1zM311.4 266.3h1.1v1.1h-1.1zM284.8 291.3h1.1v1.1h-1.1zM311.6 264.1h1.1v1.1h-1.1zM312.3 264.8h1.1v1.1h-1.1zM310.3 267.8h1.1v1.1h-1.1zM290.6 286.6h1.1v1.1h-1.1zM303.8 269.4h1.1v1.1h-1.1zM285.3 280.6h1.1v1.1h-1.1zM315.9 263.1h1.1v1.1h-1.1zM279.0 288.7h1.1v1.1h-1.1zM304.9 267.0h1.1v1.1h-1.1zM297.4 278.1h1.1v1.1h-1.1zM301.2 278.0h1.1v1.1h-1.1zM285.9 285.9h1.1v1.1h-1.1zM285.9 276.4h1.1v1.1h-1.1zM290.5 275.2h1.1v1.1h-1.1zM286.6 276.1h1.1v1.1h-1.1zM292.8 282.5h1.1v1.1h-1.1zM280.2 282.7h1.1v1.1h-1.1zM290.9 285.9h1.1v1.1h-1.1zM291.8 282.3h1.1v1.1h-1.1zM279.6 297.2h1.1v1.1h-1.1zM289.5 285.7h1.1v1.1h-1.1zM290.1 268.5h1.1v1.1h-1.1zM298.5 272.5h1.1v1.1h-1.1zM300.6 270.6h1.1v1.1h-1.1zM291.7 280.7h1.1v1.1h-1.1zM312.3 264.7h1.1v1.1h-1.1zM280.0 285.3h1.1v1.1h-1.1zM302.7 270.9h1.1v1.1h-1.1zM288.4 288.4h1.1v1.1h-1.1zM292.4 286.6h1.1v1.1h-1.1zM312.8 265.5h1.1v1.1h-1.1zM289.4 280.8h1.1v1.1h-1.1zM280.0 275.6h1.1v1.1h-1.1zM294.3 278.6h1.1v1.1h-1.1zM296.1 282.2h1.1v1.1h-1.1z" fill="rgb(180,100,50)" fill-opacity="0.62"/>
<polyline points="278.20,298.40 280.20,297.90 285.50,295.70 290.70,293.60 296.00,291.50 300.00,288.00 306.60,282.50 313.20,277.00 319.80,275.00 325.50,272.60 332.90,269.30 340.00,266.00 344.50,261.80 351.30,258.40 358.00,254.30 364.80,251.60 371.50,247.60 378.30,245.50 390.20,242.00" fill="none" stroke="rgb(170,90,40)" stroke-width="1.0" stroke-linejoin="round"/>
<polyline points="278.20,298.40 278.60,295.70 279.10,287.30 280.20,279.90 282.30,273.00 285.70,267.00 289.00,263.00 293.20,258.50 298.00,254.30 300.00,253.20 306.60,247.10 313.20,241.30 319.80,237.20 325.50,234.80 332.90,231.50 338.70,227.50 346.50,222.10 354.20,218.20 361.90,215.20 369.70,212.10 377.40,209.70 390.20,207.20" fill="none" stroke="rgb(40,140,90)" stroke-width="1.0" stroke-linejoin="round"/>
</g>
<line x1="325.13" y1="180.40" x2="325.13" y2="298.40" stroke="#111" stroke-width="0.9" stroke-dasharray="1.8,1.3"/>
<rect x="278.20" y="180.40" width="112.0" height="118.0" fill="none" stroke="#7a7a7a" stroke-width="0.9"/>
<path d="M278.20 298.40v2.2M314.30 298.40v2.2M350.40 298.40v2.2M386.50 298.40v2.2M278.20 298.40h-2.2M278.20 268.90h-2.2M278.20 239.40h-2.2M278.20 209.90h-2.2" stroke="#555" stroke-width="0.7" fill="none"/>
<text x="388.20" y="188.00" font-size="9" font-weight="bold" fill="#000" text-anchor="end" stroke="#000" stroke-width="0.12">f</text>
<clipPath id="cg"><rect x="407.30" y="180.40" width="112.0" height="118.0"/></clipPath>
<g clip-path="url(#cg)">
<polygon points="407.30,297.00 408.60,287.80 410.30,280.00 412.90,275.70 416.30,272.20 421.50,269.70 426.70,268.40 432.00,267.10 441.60,264.00 453.20,262.00 460.00,260.00 471.50,258.50 483.10,256.70 494.60,255.00 506.20,253.30 519.30,252.00 519.30,274.50 506.20,275.80 494.60,276.90 483.10,277.50 471.50,278.10 460.00,279.20 453.20,280.00 441.60,281.50 432.00,283.40 426.70,284.70 421.50,286.00 417.20,287.80 413.80,290.30 411.20,293.80 409.40,298.10 407.30,298.40" fill="rgb(40,140,90)" fill-opacity="0.26"/>
<polygon points="407.30,298.40 418.50,297.70 430.10,294.20 441.60,291.90 453.20,289.60 460.00,288.50 471.50,285.60 483.10,282.70 494.60,279.80 506.20,277.50 519.30,275.70 519.30,298.60 407.30,298.60" fill="rgb(170,90,40)" fill-opacity="0.26"/>
<path d="M412.8 286.7h1.1v1.1h-1.1zM457.8 272.4h1.1v1.1h-1.1zM459.1 271.2h1.1v1.1h-1.1zM459.4 269.9h1.1v1.1h-1.1zM498.3 265.5h1.1v1.1h-1.1zM411.8 291.3h1.1v1.1h-1.1zM469.1 274.7h1.1v1.1h-1.1zM417.6 283.9h1.1v1.1h-1.1zM412.7 290.4h1.1v1.1h-1.1zM419.4 293.2h1.1v1.1h-1.1zM445.5 262.9h1.1v1.1h-1.1zM436.6 286.2h1.1v1.1h-1.1zM416.6 271.7h1.1v1.1h-1.1zM461.0 278.4h1.1v1.1h-1.1zM466.1 264.3h1.1v1.1h-1.1zM489.5 272.2h1.1v1.1h-1.1zM438.3 279.2h1.1v1.1h-1.1zM496.5 268.6h1.1v1.1h-1.1zM456.8 276.7h1.1v1.1h-1.1zM459.9 290.8h1.1v1.1h-1.1zM433.2 278.2h1.1v1.1h-1.1zM509.2 262.4h1.1v1.1h-1.1zM498.8 261.8h1.1v1.1h-1.1zM420.1 284.6h1.1v1.1h-1.1zM438.4 289.1h1.1v1.1h-1.1zM417.5 282.6h1.1v1.1h-1.1zM418.2 291.0h1.1v1.1h-1.1zM411.3 283.7h1.1v1.1h-1.1zM435.2 278.5h1.1v1.1h-1.1zM419.2 269.4h1.1v1.1h-1.1zM423.6 276.9h1.1v1.1h-1.1zM486.6 271.9h1.1v1.1h-1.1zM440.0 267.4h1.1v1.1h-1.1zM410.1 296.2h1.1v1.1h-1.1zM484.0 279.4h1.1v1.1h-1.1zM505.0 253.8h1.1v1.1h-1.1zM407.6 297.4h1.1v1.1h-1.1zM470.8 262.4h1.1v1.1h-1.1zM471.3 257.6h1.1v1.1h-1.1zM491.4 268.6h1.1v1.1h-1.1zM482.2 297.4h1.1v1.1h-1.1zM415.3 277.9h1.1v1.1h-1.1zM457.0 270.6h1.1v1.1h-1.1zM498.3 279.6h1.1v1.1h-1.1zM504.2 278.5h1.1v1.1h-1.1zM407.7 297.4h1.1v1.1h-1.1zM505.8 268.0h1.1v1.1h-1.1zM510.8 250.3h1.1v1.1h-1.1zM511.8 289.6h1.1v1.1h-1.1zM456.6 269.6h1.1v1.1h-1.1zM421.5 267.0h1.1v1.1h-1.1zM511.8 274.6h1.1v1.1h-1.1zM409.5 291.7h1.1v1.1h-1.1zM463.3 272.0h1.1v1.1h-1.1zM413.1 279.9h1.1v1.1h-1.1zM418.1 277.6h1.1v1.1h-1.1zM412.1 288.5h1.1v1.1h-1.1zM512.7 255.3h1.1v1.1h-1.1zM442.4 270.8h1.1v1.1h-1.1zM427.3 272.8h1.1v1.1h-1.1zM469.5 265.4h1.1v1.1h-1.1zM517.9 297.4h1.1v1.1h-1.1zM490.8 257.8h1.1v1.1h-1.1zM447.8 268.4h1.1v1.1h-1.1zM493.1 265.5h1.1v1.1h-1.1zM437.6 279.9h1.1v1.1h-1.1zM514.2 261.0h1.1v1.1h-1.1zM425.8 272.8h1.1v1.1h-1.1zM468.0 281.1h1.1v1.1h-1.1zM492.7 284.3h1.1v1.1h-1.1zM495.1 254.3h1.1v1.1h-1.1zM476.2 281.4h1.1v1.1h-1.1zM416.5 276.2h1.1v1.1h-1.1zM467.7 267.0h1.1v1.1h-1.1zM488.5 275.2h1.1v1.1h-1.1zM437.5 292.2h1.1v1.1h-1.1zM473.3 266.6h1.1v1.1h-1.1zM433.3 266.2h1.1v1.1h-1.1zM407.7 297.4h1.1v1.1h-1.1zM409.0 294.7h1.1v1.1h-1.1zM426.8 270.8h1.1v1.1h-1.1zM409.5 287.4h1.1v1.1h-1.1zM409.7 295.7h1.1v1.1h-1.1zM500.5 263.0h1.1v1.1h-1.1zM423.3 282.7h1.1v1.1h-1.1zM461.5 256.9h1.1v1.1h-1.1zM415.5 292.9h1.1v1.1h-1.1zM493.2 252.1h1.1v1.1h-1.1zM407.7 297.4h1.1v1.1h-1.1zM480.9 288.6h1.1v1.1h-1.1zM502.7 264.3h1.1v1.1h-1.1zM499.2 265.0h1.1v1.1h-1.1zM449.7 277.7h1.1v1.1h-1.1zM423.0 285.7h1.1v1.1h-1.1zM428.9 287.5h1.1v1.1h-1.1zM429.8 277.4h1.1v1.1h-1.1zM427.8 273.8h1.1v1.1h-1.1zM419.2 280.5h1.1v1.1h-1.1zM430.3 294.8h1.1v1.1h-1.1zM433.7 275.9h1.1v1.1h-1.1zM426.1 272.9h1.1v1.1h-1.1zM451.4 261.8h1.1v1.1h-1.1zM477.7 246.1h1.1v1.1h-1.1zM478.5 261.9h1.1v1.1h-1.1zM479.8 268.3h1.1v1.1h-1.1zM516.4 258.1h1.1v1.1h-1.1zM458.4 277.7h1.1v1.1h-1.1zM454.2 268.2h1.1v1.1h-1.1zM456.2 278.6h1.1v1.1h-1.1zM488.8 257.3h1.1v1.1h-1.1zM415.8 268.5h1.1v1.1h-1.1zM470.9 275.4h1.1v1.1h-1.1zM427.0 297.4h1.1v1.1h-1.1zM511.9 275.5h1.1v1.1h-1.1zM513.9 271.8h1.1v1.1h-1.1zM410.5 291.5h1.1v1.1h-1.1zM480.9 258.5h1.1v1.1h-1.1zM476.7 265.7h1.1v1.1h-1.1zM416.5 272.7h1.1v1.1h-1.1zM491.8 272.1h1.1v1.1h-1.1zM469.3 263.5h1.1v1.1h-1.1zM452.3 261.9h1.1v1.1h-1.1zM505.0 279.9h1.1v1.1h-1.1zM470.0 270.5h1.1v1.1h-1.1zM434.8 271.8h1.1v1.1h-1.1zM450.3 297.4h1.1v1.1h-1.1zM483.0 246.8h1.1v1.1h-1.1zM453.2 277.9h1.1v1.1h-1.1zM455.6 258.0h1.1v1.1h-1.1zM411.5 297.4h1.1v1.1h-1.1zM508.2 256.0h1.1v1.1h-1.1zM411.6 289.4h1.1v1.1h-1.1zM421.5 275.4h1.1v1.1h-1.1zM434.9 271.7h1.1v1.1h-1.1zM409.2 297.4h1.1v1.1h-1.1zM415.4 279.9h1.1v1.1h-1.1zM487.6 262.6h1.1v1.1h-1.1zM500.0 266.7h1.1v1.1h-1.1zM483.3 290.3h1.1v1.1h-1.1zM485.3 271.2h1.1v1.1h-1.1zM416.9 288.6h1.1v1.1h-1.1zM464.7 296.0h1.1v1.1h-1.1zM458.6 267.4h1.1v1.1h-1.1zM471.8 268.2h1.1v1.1h-1.1zM455.8 274.4h1.1v1.1h-1.1zM462.9 283.9h1.1v1.1h-1.1zM419.7 277.4h1.1v1.1h-1.1zM407.6 296.7h1.1v1.1h-1.1zM447.4 274.6h1.1v1.1h-1.1zM508.2 267.2h1.1v1.1h-1.1zM415.1 284.7h1.1v1.1h-1.1zM476.5 273.9h1.1v1.1h-1.1zM518.6 273.7h1.1v1.1h-1.1zM470.8 268.5h1.1v1.1h-1.1zM433.2 275.4h1.1v1.1h-1.1zM418.2 282.0h1.1v1.1h-1.1zM408.3 297.4h1.1v1.1h-1.1zM425.8 285.2h1.1v1.1h-1.1zM470.4 280.4h1.1v1.1h-1.1zM497.1 260.7h1.1v1.1h-1.1zM481.6 264.8h1.1v1.1h-1.1zM475.7 259.8h1.1v1.1h-1.1zM449.6 282.1h1.1v1.1h-1.1zM439.0 268.8h1.1v1.1h-1.1zM498.3 262.4h1.1v1.1h-1.1zM501.8 271.0h1.1v1.1h-1.1zM456.9 273.0h1.1v1.1h-1.1zM477.4 270.9h1.1v1.1h-1.1zM434.3 282.8h1.1v1.1h-1.1zM488.9 279.3h1.1v1.1h-1.1zM419.8 286.4h1.1v1.1h-1.1zM421.3 267.3h1.1v1.1h-1.1zM409.7 273.9h1.1v1.1h-1.1zM514.7 265.3h1.1v1.1h-1.1zM426.1 271.7h1.1v1.1h-1.1zM453.2 263.7h1.1v1.1h-1.1zM471.7 267.2h1.1v1.1h-1.1zM497.8 277.1h1.1v1.1h-1.1zM457.3 265.3h1.1v1.1h-1.1zM413.7 278.2h1.1v1.1h-1.1zM445.5 266.6h1.1v1.1h-1.1zM438.4 271.7h1.1v1.1h-1.1zM427.0 282.3h1.1v1.1h-1.1zM441.9 286.3h1.1v1.1h-1.1zM460.1 280.6h1.1v1.1h-1.1zM476.7 259.4h1.1v1.1h-1.1zM461.2 281.4h1.1v1.1h-1.1zM428.9 268.1h1.1v1.1h-1.1zM495.5 254.8h1.1v1.1h-1.1zM504.8 260.3h1.1v1.1h-1.1zM482.0 289.6h1.1v1.1h-1.1zM429.2 282.2h1.1v1.1h-1.1zM476.1 283.9h1.1v1.1h-1.1zM430.7 274.4h1.1v1.1h-1.1zM473.0 266.7h1.1v1.1h-1.1zM513.6 257.2h1.1v1.1h-1.1zM497.7 250.7h1.1v1.1h-1.1zM492.0 272.4h1.1v1.1h-1.1zM407.8 297.4h1.1v1.1h-1.1zM479.3 259.2h1.1v1.1h-1.1zM454.3 269.1h1.1v1.1h-1.1zM412.3 297.4h1.1v1.1h-1.1zM432.8 273.9h1.1v1.1h-1.1zM407.7 297.4h1.1v1.1h-1.1zM441.3 274.5h1.1v1.1h-1.1zM447.3 273.2h1.1v1.1h-1.1zM436.5 272.0h1.1v1.1h-1.1zM479.2 258.1h1.1v1.1h-1.1zM452.3 287.9h1.1v1.1h-1.1zM459.2 269.3h1.1v1.1h-1.1zM457.2 283.3h1.1v1.1h-1.1zM412.5 284.7h1.1v1.1h-1.1zM457.5 265.7h1.1v1.1h-1.1zM431.1 272.4h1.1v1.1h-1.1zM445.8 274.4h1.1v1.1h-1.1zM422.5 269.6h1.1v1.1h-1.1zM409.4 297.4h1.1v1.1h-1.1zM468.3 266.5h1.1v1.1h-1.1zM408.9 296.5h1.1v1.1h-1.1zM452.5 266.1h1.1v1.1h-1.1zM408.2 297.4h1.1v1.1h-1.1zM408.3 295.8h1.1v1.1h-1.1zM418.5 267.3h1.1v1.1h-1.1zM466.3 264.1h1.1v1.1h-1.1zM475.7 280.9h1.1v1.1h-1.1zM509.4 258.6h1.1v1.1h-1.1zM484.1 248.3h1.1v1.1h-1.1zM435.4 277.0h1.1v1.1h-1.1zM514.6 281.6h1.1v1.1h-1.1zM410.7 297.2h1.1v1.1h-1.1zM454.2 284.0h1.1v1.1h-1.1zM412.1 293.3h1.1v1.1h-1.1zM427.6 266.1h1.1v1.1h-1.1zM482.8 280.4h1.1v1.1h-1.1zM505.7 278.7h1.1v1.1h-1.1zM435.8 270.6h1.1v1.1h-1.1zM421.5 275.1h1.1v1.1h-1.1zM409.4 297.4h1.1v1.1h-1.1zM438.4 271.3h1.1v1.1h-1.1zM411.6 296.0h1.1v1.1h-1.1zM408.6 297.4h1.1v1.1h-1.1zM431.3 289.5h1.1v1.1h-1.1zM422.1 281.6h1.1v1.1h-1.1zM413.4 268.3h1.1v1.1h-1.1zM433.2 275.2h1.1v1.1h-1.1zM507.8 258.1h1.1v1.1h-1.1zM425.0 275.4h1.1v1.1h-1.1zM410.2 297.4h1.1v1.1h-1.1zM456.2 262.8h1.1v1.1h-1.1zM414.5 286.3h1.1v1.1h-1.1zM407.7 297.4h1.1v1.1h-1.1zM504.2 259.1h1.1v1.1h-1.1zM447.8 267.3h1.1v1.1h-1.1zM450.4 275.1h1.1v1.1h-1.1zM482.8 260.8h1.1v1.1h-1.1zM437.5 280.4h1.1v1.1h-1.1zM442.8 265.6h1.1v1.1h-1.1zM407.8 297.4h1.1v1.1h-1.1zM457.0 272.4h1.1v1.1h-1.1zM462.3 267.0h1.1v1.1h-1.1zM476.3 267.1h1.1v1.1h-1.1zM511.9 260.5h1.1v1.1h-1.1zM499.8 297.4h1.1v1.1h-1.1zM455.8 283.8h1.1v1.1h-1.1zM413.3 271.4h1.1v1.1h-1.1zM489.0 261.3h1.1v1.1h-1.1zM414.1 274.7h1.1v1.1h-1.1zM482.7 271.3h1.1v1.1h-1.1zM473.8 284.3h1.1v1.1h-1.1zM516.6 273.2h1.1v1.1h-1.1zM458.7 284.8h1.1v1.1h-1.1zM414.2 294.5h1.1v1.1h-1.1zM491.6 265.6h1.1v1.1h-1.1zM438.5 290.5h1.1v1.1h-1.1zM477.5 252.4h1.1v1.1h-1.1zM485.5 272.1h1.1v1.1h-1.1zM418.6 273.8h1.1v1.1h-1.1zM463.5 275.8h1.1v1.1h-1.1zM499.1 259.6h1.1v1.1h-1.1zM492.0 260.5h1.1v1.1h-1.1zM410.5 290.9h1.1v1.1h-1.1zM464.3 261.8h1.1v1.1h-1.1zM454.1 265.2h1.1v1.1h-1.1zM452.0 258.5h1.1v1.1h-1.1zM445.9 284.8h1.1v1.1h-1.1zM436.3 263.0h1.1v1.1h-1.1zM412.7 285.0h1.1v1.1h-1.1zM482.8 284.8h1.1v1.1h-1.1zM502.2 278.2h1.1v1.1h-1.1zM496.6 288.9h1.1v1.1h-1.1zM418.3 288.7h1.1v1.1h-1.1zM465.5 281.1h1.1v1.1h-1.1zM454.1 254.8h1.1v1.1h-1.1zM485.5 275.2h1.1v1.1h-1.1zM408.3 297.4h1.1v1.1h-1.1zM496.7 262.8h1.1v1.1h-1.1zM419.6 270.5h1.1v1.1h-1.1zM495.5 258.3h1.1v1.1h-1.1zM410.3 274.6h1.1v1.1h-1.1zM484.9 269.5h1.1v1.1h-1.1zM410.5 287.6h1.1v1.1h-1.1zM444.7 265.7h1.1v1.1h-1.1zM408.0 297.4h1.1v1.1h-1.1zM518.3 285.7h1.1v1.1h-1.1zM431.4 293.9h1.1v1.1h-1.1zM489.6 278.4h1.1v1.1h-1.1zM445.5 283.5h1.1v1.1h-1.1zM511.8 258.2h1.1v1.1h-1.1zM411.2 289.0h1.1v1.1h-1.1zM502.0 260.7h1.1v1.1h-1.1zM410.5 288.2h1.1v1.1h-1.1zM513.2 258.8h1.1v1.1h-1.1zM484.7 256.7h1.1v1.1h-1.1zM466.0 278.5h1.1v1.1h-1.1zM477.8 267.1h1.1v1.1h-1.1zM496.7 266.0h1.1v1.1h-1.1zM420.7 272.3h1.1v1.1h-1.1zM407.7 296.1h1.1v1.1h-1.1zM477.0 268.4h1.1v1.1h-1.1zM408.1 286.9h1.1v1.1h-1.1zM418.7 280.2h1.1v1.1h-1.1zM458.4 262.2h1.1v1.1h-1.1zM417.2 273.6h1.1v1.1h-1.1zM431.7 292.9h1.1v1.1h-1.1zM426.7 269.8h1.1v1.1h-1.1zM411.8 292.0h1.1v1.1h-1.1zM472.8 281.8h1.1v1.1h-1.1zM444.2 269.7h1.1v1.1h-1.1zM444.7 284.1h1.1v1.1h-1.1zM431.5 291.5h1.1v1.1h-1.1zM497.7 263.1h1.1v1.1h-1.1zM472.5 256.7h1.1v1.1h-1.1zM451.8 268.1h1.1v1.1h-1.1zM408.9 282.3h1.1v1.1h-1.1zM448.0 273.0h1.1v1.1h-1.1zM491.3 256.7h1.1v1.1h-1.1zM410.6 297.4h1.1v1.1h-1.1zM475.9 269.2h1.1v1.1h-1.1zM409.0 289.3h1.1v1.1h-1.1zM472.5 276.4h1.1v1.1h-1.1zM496.5 279.7h1.1v1.1h-1.1zM435.3 279.0h1.1v1.1h-1.1zM415.2 275.6h1.1v1.1h-1.1zM461.7 276.8h1.1v1.1h-1.1zM453.3 280.0h1.1v1.1h-1.1zM459.4 265.3h1.1v1.1h-1.1zM407.9 297.4h1.1v1.1h-1.1zM517.9 271.4h1.1v1.1h-1.1zM473.4 290.0h1.1v1.1h-1.1zM445.0 269.1h1.1v1.1h-1.1zM414.2 281.2h1.1v1.1h-1.1zM412.6 285.4h1.1v1.1h-1.1zM468.1 269.9h1.1v1.1h-1.1zM513.6 258.3h1.1v1.1h-1.1zM412.7 277.9h1.1v1.1h-1.1zM421.0 272.3h1.1v1.1h-1.1zM410.9 297.4h1.1v1.1h-1.1zM469.2 266.1h1.1v1.1h-1.1zM470.9 266.9h1.1v1.1h-1.1zM476.3 264.6h1.1v1.1h-1.1zM480.2 284.0h1.1v1.1h-1.1zM515.9 286.1h1.1v1.1h-1.1zM487.3 258.6h1.1v1.1h-1.1zM482.6 269.5h1.1v1.1h-1.1zM420.4 283.2h1.1v1.1h-1.1zM412.4 288.5h1.1v1.1h-1.1zM499.5 269.5h1.1v1.1h-1.1zM509.7 285.5h1.1v1.1h-1.1zM472.5 267.4h1.1v1.1h-1.1zM468.8 254.4h1.1v1.1h-1.1zM420.1 292.1h1.1v1.1h-1.1zM456.9 265.0h1.1v1.1h-1.1zM447.3 266.8h1.1v1.1h-1.1zM466.8 255.3h1.1v1.1h-1.1zM462.9 265.8h1.1v1.1h-1.1zM440.9 270.3h1.1v1.1h-1.1zM501.5 268.8h1.1v1.1h-1.1zM414.8 276.2h1.1v1.1h-1.1zM409.9 289.5h1.1v1.1h-1.1zM442.0 277.9h1.1v1.1h-1.1zM461.5 253.9h1.1v1.1h-1.1zM410.7 272.7h1.1v1.1h-1.1zM407.7 283.4h1.1v1.1h-1.1zM410.5 263.4h1.1v1.1h-1.1zM497.0 249.1h1.1v1.1h-1.1zM513.3 236.0h1.1v1.1h-1.1zM438.3 255.6h1.1v1.1h-1.1zM485.5 234.3h1.1v1.1h-1.1zM503.1 216.0h1.1v1.1h-1.1zM415.9 248.0h1.1v1.1h-1.1zM502.9 248.0h1.1v1.1h-1.1zM464.5 252.4h1.1v1.1h-1.1zM428.3 261.8h1.1v1.1h-1.1zM514.5 246.7h1.1v1.1h-1.1zM408.3 260.1h1.1v1.1h-1.1zM418.2 271.3h1.1v1.1h-1.1zM417.0 270.6h1.1v1.1h-1.1zM453.2 261.7h1.1v1.1h-1.1zM500.3 232.3h1.1v1.1h-1.1zM512.0 214.6h1.1v1.1h-1.1zM497.7 216.5h1.1v1.1h-1.1zM426.4 246.5h1.1v1.1h-1.1zM433.7 239.7h1.1v1.1h-1.1zM408.2 272.5h1.1v1.1h-1.1zM442.9 240.4h1.1v1.1h-1.1zM416.8 256.7h1.1v1.1h-1.1zM427.1 238.8h1.1v1.1h-1.1zM446.4 258.1h1.1v1.1h-1.1zM494.1 236.9h1.1v1.1h-1.1zM464.2 244.1h1.1v1.1h-1.1zM453.3 243.8h1.1v1.1h-1.1zM477.3 238.2h1.1v1.1h-1.1zM408.0 271.5h1.1v1.1h-1.1zM518.7 228.2h1.1v1.1h-1.1zM452.7 261.6h1.1v1.1h-1.1zM444.7 257.3h1.1v1.1h-1.1zM414.4 271.3h1.1v1.1h-1.1zM422.7 269.4h1.1v1.1h-1.1zM442.3 243.7h1.1v1.1h-1.1zM459.2 230.6h1.1v1.1h-1.1zM504.1 235.7h1.1v1.1h-1.1zM414.9 273.6h1.1v1.1h-1.1zM455.4 261.1h1.1v1.1h-1.1zM465.4 233.4h1.1v1.1h-1.1zM428.1 266.0h1.1v1.1h-1.1zM416.5 243.1h1.1v1.1h-1.1zM436.9 261.8h1.1v1.1h-1.1zM452.8 246.6h1.1v1.1h-1.1zM436.2 254.4h1.1v1.1h-1.1zM411.7 276.7h1.1v1.1h-1.1zM427.3 257.2h1.1v1.1h-1.1zM442.8 260.9h1.1v1.1h-1.1zM428.1 268.0h1.1v1.1h-1.1zM469.6 231.8h1.1v1.1h-1.1zM473.9 237.0h1.1v1.1h-1.1zM420.8 267.0h1.1v1.1h-1.1zM438.2 264.4h1.1v1.1h-1.1zM408.9 258.6h1.1v1.1h-1.1zM446.2 240.0h1.1v1.1h-1.1zM476.8 251.6h1.1v1.1h-1.1zM414.2 272.2h1.1v1.1h-1.1zM444.4 249.8h1.1v1.1h-1.1zM424.6 265.1h1.1v1.1h-1.1zM419.6 267.2h1.1v1.1h-1.1zM428.5 260.6h1.1v1.1h-1.1zM408.3 262.3h1.1v1.1h-1.1zM482.4 242.7h1.1v1.1h-1.1zM480.0 244.4h1.1v1.1h-1.1zM444.1 238.0h1.1v1.1h-1.1zM507.2 215.0h1.1v1.1h-1.1zM516.1 247.3h1.1v1.1h-1.1zM428.8 249.8h1.1v1.1h-1.1zM429.3 261.8h1.1v1.1h-1.1zM432.5 247.1h1.1v1.1h-1.1zM420.1 270.4h1.1v1.1h-1.1zM503.6 238.2h1.1v1.1h-1.1zM505.4 250.4h1.1v1.1h-1.1zM407.8 293.1h1.1v1.1h-1.1zM442.3 260.5h1.1v1.1h-1.1zM413.3 247.3h1.1v1.1h-1.1zM513.2 250.1h1.1v1.1h-1.1zM489.2 218.1h1.1v1.1h-1.1zM459.9 258.3h1.1v1.1h-1.1zM409.6 279.2h1.1v1.1h-1.1zM408.6 252.3h1.1v1.1h-1.1zM463.3 245.6h1.1v1.1h-1.1zM504.9 248.0h1.1v1.1h-1.1zM414.2 257.1h1.1v1.1h-1.1zM418.5 265.8h1.1v1.1h-1.1zM505.2 210.8h1.1v1.1h-1.1zM428.8 263.9h1.1v1.1h-1.1zM443.1 260.4h1.1v1.1h-1.1zM407.8 292.7h1.1v1.1h-1.1zM437.5 258.9h1.1v1.1h-1.1zM507.6 252.5h1.1v1.1h-1.1zM413.1 275.4h1.1v1.1h-1.1zM422.9 269.0h1.1v1.1h-1.1zM454.2 258.0h1.1v1.1h-1.1zM507.1 249.8h1.1v1.1h-1.1zM439.8 258.6h1.1v1.1h-1.1zM476.4 255.7h1.1v1.1h-1.1zM408.3 262.7h1.1v1.1h-1.1zM417.9 258.1h1.1v1.1h-1.1zM470.3 247.1h1.1v1.1h-1.1zM463.2 256.7h1.1v1.1h-1.1zM496.1 252.2h1.1v1.1h-1.1zM507.0 248.5h1.1v1.1h-1.1zM462.4 251.4h1.1v1.1h-1.1zM422.9 268.1h1.1v1.1h-1.1zM445.6 232.1h1.1v1.1h-1.1z" fill="rgb(55,145,100)" fill-opacity="0.62"/>
<path d="M459.4 295.2h1.1v1.1h-1.1zM468.2 297.4h1.1v1.1h-1.1zM429.7 297.4h1.1v1.1h-1.1zM489.0 297.4h1.1v1.1h-1.1zM496.9 296.6h1.1v1.1h-1.1zM447.4 297.4h1.1v1.1h-1.1zM436.7 297.4h1.1v1.1h-1.1zM504.0 297.4h1.1v1.1h-1.1zM412.6 297.4h1.1v1.1h-1.1zM497.9 297.4h1.1v1.1h-1.1zM515.0 295.9h1.1v1.1h-1.1zM446.4 295.6h1.1v1.1h-1.1zM507.8 273.3h1.1v1.1h-1.1zM501.6 283.4h1.1v1.1h-1.1zM510.1 297.4h1.1v1.1h-1.1zM418.2 297.4h1.1v1.1h-1.1zM502.5 295.1h1.1v1.1h-1.1zM429.0 297.4h1.1v1.1h-1.1zM511.7 297.4h1.1v1.1h-1.1zM482.0 296.8h1.1v1.1h-1.1zM429.1 296.2h1.1v1.1h-1.1zM458.3 295.8h1.1v1.1h-1.1zM448.2 297.4h1.1v1.1h-1.1zM489.4 297.4h1.1v1.1h-1.1zM443.7 297.4h1.1v1.1h-1.1zM424.9 294.5h1.1v1.1h-1.1zM436.7 294.7h1.1v1.1h-1.1zM483.0 296.0h1.1v1.1h-1.1zM506.8 278.3h1.1v1.1h-1.1zM464.1 288.6h1.1v1.1h-1.1zM435.1 297.4h1.1v1.1h-1.1zM488.5 296.6h1.1v1.1h-1.1zM472.7 297.4h1.1v1.1h-1.1zM414.4 297.4h1.1v1.1h-1.1zM448.1 296.0h1.1v1.1h-1.1zM455.7 295.0h1.1v1.1h-1.1zM473.7 286.4h1.1v1.1h-1.1zM414.1 297.4h1.1v1.1h-1.1zM488.0 295.5h1.1v1.1h-1.1zM507.6 296.8h1.1v1.1h-1.1zM449.3 297.4h1.1v1.1h-1.1zM458.1 297.4h1.1v1.1h-1.1zM481.3 285.4h1.1v1.1h-1.1zM455.7 291.2h1.1v1.1h-1.1zM419.2 297.4h1.1v1.1h-1.1zM463.1 297.4h1.1v1.1h-1.1zM469.7 295.5h1.1v1.1h-1.1zM412.9 297.3h1.1v1.1h-1.1zM421.3 297.4h1.1v1.1h-1.1zM468.9 297.4h1.1v1.1h-1.1zM511.3 297.4h1.1v1.1h-1.1zM420.6 297.4h1.1v1.1h-1.1zM490.5 297.4h1.1v1.1h-1.1zM473.6 297.4h1.1v1.1h-1.1zM475.4 297.1h1.1v1.1h-1.1zM476.9 291.8h1.1v1.1h-1.1zM505.6 295.4h1.1v1.1h-1.1zM433.5 296.2h1.1v1.1h-1.1zM412.0 297.4h1.1v1.1h-1.1zM513.1 256.4h1.1v1.1h-1.1zM471.9 291.9h1.1v1.1h-1.1zM446.3 297.3h1.1v1.1h-1.1zM498.7 297.4h1.1v1.1h-1.1zM455.7 296.8h1.1v1.1h-1.1zM437.9 297.2h1.1v1.1h-1.1zM463.4 287.8h1.1v1.1h-1.1zM507.3 289.9h1.1v1.1h-1.1zM410.5 297.4h1.1v1.1h-1.1zM489.3 293.6h1.1v1.1h-1.1zM442.8 297.4h1.1v1.1h-1.1zM440.9 294.8h1.1v1.1h-1.1zM460.4 287.7h1.1v1.1h-1.1zM442.3 297.4h1.1v1.1h-1.1zM449.2 297.4h1.1v1.1h-1.1zM416.6 297.4h1.1v1.1h-1.1zM414.2 297.4h1.1v1.1h-1.1zM514.5 276.8h1.1v1.1h-1.1zM494.9 273.3h1.1v1.1h-1.1zM426.4 297.4h1.1v1.1h-1.1zM470.7 296.8h1.1v1.1h-1.1zM456.6 297.4h1.1v1.1h-1.1zM490.8 288.6h1.1v1.1h-1.1zM515.7 285.7h1.1v1.1h-1.1zM465.7 284.5h1.1v1.1h-1.1zM472.1 297.4h1.1v1.1h-1.1zM470.0 297.4h1.1v1.1h-1.1zM494.2 297.4h1.1v1.1h-1.1zM476.1 297.4h1.1v1.1h-1.1zM443.3 293.4h1.1v1.1h-1.1zM497.4 289.8h1.1v1.1h-1.1zM497.6 297.4h1.1v1.1h-1.1zM456.2 294.5h1.1v1.1h-1.1zM412.6 297.4h1.1v1.1h-1.1zM472.2 296.2h1.1v1.1h-1.1zM472.0 297.4h1.1v1.1h-1.1zM473.6 287.7h1.1v1.1h-1.1zM466.0 297.2h1.1v1.1h-1.1zM501.3 296.6h1.1v1.1h-1.1zM446.1 294.9h1.1v1.1h-1.1zM450.3 297.4h1.1v1.1h-1.1zM505.4 287.3h1.1v1.1h-1.1zM517.6 270.9h1.1v1.1h-1.1zM484.6 295.8h1.1v1.1h-1.1zM468.1 292.1h1.1v1.1h-1.1zM454.4 291.2h1.1v1.1h-1.1zM450.4 297.4h1.1v1.1h-1.1zM407.7 297.4h1.1v1.1h-1.1zM494.1 289.5h1.1v1.1h-1.1zM465.9 289.7h1.1v1.1h-1.1zM459.8 297.4h1.1v1.1h-1.1zM409.0 297.4h1.1v1.1h-1.1zM506.7 292.7h1.1v1.1h-1.1zM475.4 295.9h1.1v1.1h-1.1zM481.7 295.4h1.1v1.1h-1.1zM461.8 295.3h1.1v1.1h-1.1zM427.3 297.4h1.1v1.1h-1.1zM474.8 297.4h1.1v1.1h-1.1zM449.8 297.4h1.1v1.1h-1.1zM505.2 285.9h1.1v1.1h-1.1zM512.5 293.2h1.1v1.1h-1.1zM433.6 297.4h1.1v1.1h-1.1zM497.4 297.4h1.1v1.1h-1.1zM492.1 282.0h1.1v1.1h-1.1zM427.8 294.5h1.1v1.1h-1.1zM492.9 297.4h1.1v1.1h-1.1zM510.2 297.4h1.1v1.1h-1.1zM416.5 297.4h1.1v1.1h-1.1zM429.2 297.4h1.1v1.1h-1.1zM506.5 297.4h1.1v1.1h-1.1zM479.5 288.5h1.1v1.1h-1.1zM443.4 297.4h1.1v1.1h-1.1zM443.6 295.6h1.1v1.1h-1.1zM449.5 288.9h1.1v1.1h-1.1zM495.2 297.0h1.1v1.1h-1.1zM418.8 297.4h1.1v1.1h-1.1zM433.2 288.8h1.1v1.1h-1.1zM458.5 297.4h1.1v1.1h-1.1zM458.0 297.4h1.1v1.1h-1.1zM472.7 297.4h1.1v1.1h-1.1zM459.3 297.4h1.1v1.1h-1.1zM415.7 297.4h1.1v1.1h-1.1zM443.7 294.5h1.1v1.1h-1.1zM444.4 297.4h1.1v1.1h-1.1zM439.7 297.4h1.1v1.1h-1.1zM438.5 297.4h1.1v1.1h-1.1zM455.2 297.4h1.1v1.1h-1.1zM437.1 296.9h1.1v1.1h-1.1zM516.1 286.6h1.1v1.1h-1.1zM439.9 294.2h1.1v1.1h-1.1zM435.9 297.4h1.1v1.1h-1.1zM428.4 292.8h1.1v1.1h-1.1zM416.9 297.4h1.1v1.1h-1.1zM440.8 297.4h1.1v1.1h-1.1zM430.4 297.4h1.1v1.1h-1.1zM446.5 293.1h1.1v1.1h-1.1zM508.8 297.4h1.1v1.1h-1.1zM425.5 297.4h1.1v1.1h-1.1zM508.9 297.4h1.1v1.1h-1.1zM501.5 287.3h1.1v1.1h-1.1zM478.4 297.4h1.1v1.1h-1.1zM472.2 297.4h1.1v1.1h-1.1zM495.2 277.0h1.1v1.1h-1.1zM481.2 292.9h1.1v1.1h-1.1zM487.6 295.4h1.1v1.1h-1.1zM444.3 297.4h1.1v1.1h-1.1zM413.7 297.4h1.1v1.1h-1.1zM497.8 295.9h1.1v1.1h-1.1zM497.0 296.1h1.1v1.1h-1.1zM494.1 297.4h1.1v1.1h-1.1zM417.1 297.3h1.1v1.1h-1.1zM417.7 297.0h1.1v1.1h-1.1zM427.1 297.4h1.1v1.1h-1.1zM501.1 296.6h1.1v1.1h-1.1zM466.3 296.5h1.1v1.1h-1.1zM426.4 297.4h1.1v1.1h-1.1zM449.3 295.2h1.1v1.1h-1.1zM474.0 297.4h1.1v1.1h-1.1zM442.3 297.4h1.1v1.1h-1.1zM428.7 297.4h1.1v1.1h-1.1zM473.8 289.4h1.1v1.1h-1.1zM492.5 268.3h1.1v1.1h-1.1zM441.3 287.7h1.1v1.1h-1.1zM407.7 283.9h1.1v1.1h-1.1zM432.2 291.1h1.1v1.1h-1.1zM422.1 293.9h1.1v1.1h-1.1zM489.1 270.2h1.1v1.1h-1.1zM453.3 288.8h1.1v1.1h-1.1zM518.6 274.9h1.1v1.1h-1.1zM423.0 281.3h1.1v1.1h-1.1zM446.5 290.8h1.1v1.1h-1.1zM442.7 276.4h1.1v1.1h-1.1zM518.9 262.8h1.1v1.1h-1.1zM508.3 259.8h1.1v1.1h-1.1zM481.8 275.2h1.1v1.1h-1.1zM413.1 295.7h1.1v1.1h-1.1zM486.1 280.9h1.1v1.1h-1.1zM449.3 290.4h1.1v1.1h-1.1zM459.1 269.1h1.1v1.1h-1.1zM452.0 273.4h1.1v1.1h-1.1zM416.6 297.4h1.1v1.1h-1.1zM421.2 294.5h1.1v1.1h-1.1zM471.4 282.5h1.1v1.1h-1.1zM484.8 282.3h1.1v1.1h-1.1zM440.2 288.8h1.1v1.1h-1.1zM505.8 277.6h1.1v1.1h-1.1zM462.3 285.6h1.1v1.1h-1.1zM469.4 281.9h1.1v1.1h-1.1zM422.1 296.0h1.1v1.1h-1.1zM487.4 281.1h1.1v1.1h-1.1zM476.1 282.6h1.1v1.1h-1.1zM497.3 278.6h1.1v1.1h-1.1zM484.3 278.2h1.1v1.1h-1.1zM458.2 277.7h1.1v1.1h-1.1zM424.6 272.9h1.1v1.1h-1.1zM508.8 272.8h1.1v1.1h-1.1zM473.8 264.8h1.1v1.1h-1.1zM436.9 285.0h1.1v1.1h-1.1zM467.5 284.4h1.1v1.1h-1.1zM477.9 282.7h1.1v1.1h-1.1zM515.8 267.1h1.1v1.1h-1.1zM426.8 283.1h1.1v1.1h-1.1zM506.9 269.5h1.1v1.1h-1.1zM444.2 281.0h1.1v1.1h-1.1zM415.9 294.8h1.1v1.1h-1.1zM444.8 271.0h1.1v1.1h-1.1zM422.4 295.2h1.1v1.1h-1.1zM440.6 270.4h1.1v1.1h-1.1zM498.4 267.2h1.1v1.1h-1.1zM452.0 271.9h1.1v1.1h-1.1zM448.5 288.9h1.1v1.1h-1.1zM420.0 294.3h1.1v1.1h-1.1zM415.8 279.0h1.1v1.1h-1.1zM481.6 272.1h1.1v1.1h-1.1zM453.8 286.6h1.1v1.1h-1.1zM434.4 277.5h1.1v1.1h-1.1zM509.3 276.5h1.1v1.1h-1.1zM513.4 274.4h1.1v1.1h-1.1zM508.7 265.1h1.1v1.1h-1.1zM481.6 283.0h1.1v1.1h-1.1zM445.6 280.4h1.1v1.1h-1.1z" fill="rgb(180,100,50)" fill-opacity="0.62"/>
<polyline points="407.30,298.40 430.00,298.00 460.00,296.50 483.10,295.40 506.20,293.70 519.30,292.40" fill="none" stroke="rgb(170,90,40)" stroke-width="1.0" stroke-linejoin="round"/>
<polyline points="407.30,298.40 408.60,296.40 409.40,291.20 411.20,286.00 413.80,282.60 417.20,279.60 421.50,277.40 426.70,275.70 432.00,274.40 441.60,271.80 447.40,270.50 453.20,269.60 460.00,268.80 471.50,267.10 483.10,266.00 494.60,264.80 506.20,264.20 519.30,263.60" fill="none" stroke="rgb(40,140,90)" stroke-width="1.0" stroke-linejoin="round"/>
</g>
<line x1="454.23" y1="180.40" x2="454.23" y2="298.40" stroke="#111" stroke-width="0.9" stroke-dasharray="1.8,1.3"/>
<rect x="407.30" y="180.40" width="112.0" height="118.0" fill="none" stroke="#7a7a7a" stroke-width="0.9"/>
<path d="M407.30 298.40v2.2M443.40 298.40v2.2M479.50 298.40v2.2M515.60 298.40v2.2M407.30 298.40h-2.2M407.30 268.90h-2.2M407.30 239.40h-2.2M407.30 209.90h-2.2" stroke="#555" stroke-width="0.7" fill="none"/>
<text x="517.30" y="188.00" font-size="9" font-weight="bold" fill="#000" text-anchor="end" stroke="#000" stroke-width="0.12">g</text>
<clipPath id="ch"><rect x="536.20" y="180.40" width="112.0" height="118.0"/></clipPath>
<g clip-path="url(#ch)">
<polygon points="536.20,297.00 537.40,286.50 538.80,278.80 540.80,272.10 544.60,268.20 549.40,265.40 555.20,262.50 561.00,259.60 569.80,253.50 576.50,249.50 583.30,246.50 589.00,243.80 596.70,241.60 604.50,238.60 612.20,235.50 619.90,233.10 627.70,230.80 635.40,228.70 648.20,227.00 648.20,268.70 635.40,269.50 619.90,271.00 604.50,273.80 596.70,275.50 589.00,277.00 583.30,278.60 576.50,280.70 569.80,282.00 561.00,283.60 555.20,285.00 549.40,286.90 544.60,289.30 540.80,293.20 537.90,298.00 536.20,298.40" fill="rgb(40,140,90)" fill-opacity="0.26"/>
<polygon points="536.20,298.40 540.10,297.60 549.50,289.50 556.30,285.40 563.00,282.70 569.80,280.00 576.50,278.00 583.30,276.00 589.00,273.50 596.70,270.50 604.50,267.50 612.20,264.00 619.90,260.50 627.70,258.00 635.40,256.30 648.20,254.60 648.20,285.00 635.40,286.80 619.90,289.00 610.00,291.00 596.00,293.50 583.30,295.50 569.80,298.00 556.30,298.60 536.20,298.60" fill="rgb(170,90,40)" fill-opacity="0.26"/>
<path d="M644.6 274.8h1.1v1.1h-1.1zM549.4 291.1h1.1v1.1h-1.1zM565.5 272.2h1.1v1.1h-1.1zM628.5 242.0h1.1v1.1h-1.1zM622.0 272.5h1.1v1.1h-1.1zM542.7 277.3h1.1v1.1h-1.1zM546.9 289.1h1.1v1.1h-1.1zM569.0 257.9h1.1v1.1h-1.1zM587.5 255.1h1.1v1.1h-1.1zM588.5 268.7h1.1v1.1h-1.1zM593.3 268.6h1.1v1.1h-1.1zM549.5 275.4h1.1v1.1h-1.1zM630.6 233.4h1.1v1.1h-1.1zM556.8 279.9h1.1v1.1h-1.1zM544.0 293.4h1.1v1.1h-1.1zM635.5 225.6h1.1v1.1h-1.1zM540.3 275.5h1.1v1.1h-1.1zM647.3 226.7h1.1v1.1h-1.1zM605.3 254.7h1.1v1.1h-1.1zM584.7 272.0h1.1v1.1h-1.1zM572.3 272.8h1.1v1.1h-1.1zM538.9 289.3h1.1v1.1h-1.1zM628.6 244.4h1.1v1.1h-1.1zM586.6 267.1h1.1v1.1h-1.1zM588.3 266.3h1.1v1.1h-1.1zM565.3 278.8h1.1v1.1h-1.1zM600.9 253.1h1.1v1.1h-1.1zM602.1 245.7h1.1v1.1h-1.1zM558.1 282.0h1.1v1.1h-1.1zM546.7 297.4h1.1v1.1h-1.1zM592.8 237.9h1.1v1.1h-1.1zM561.7 288.4h1.1v1.1h-1.1zM595.0 254.3h1.1v1.1h-1.1zM594.4 255.9h1.1v1.1h-1.1zM570.5 272.3h1.1v1.1h-1.1zM607.4 229.0h1.1v1.1h-1.1zM559.0 272.1h1.1v1.1h-1.1zM590.2 243.9h1.1v1.1h-1.1zM617.2 257.8h1.1v1.1h-1.1zM631.9 241.7h1.1v1.1h-1.1zM584.3 297.4h1.1v1.1h-1.1zM577.3 253.2h1.1v1.1h-1.1zM574.2 263.3h1.1v1.1h-1.1zM626.8 246.3h1.1v1.1h-1.1zM615.5 248.0h1.1v1.1h-1.1zM541.7 262.4h1.1v1.1h-1.1zM626.7 237.1h1.1v1.1h-1.1zM611.1 248.0h1.1v1.1h-1.1zM571.1 275.0h1.1v1.1h-1.1zM617.2 248.6h1.1v1.1h-1.1zM547.7 288.3h1.1v1.1h-1.1zM597.9 280.7h1.1v1.1h-1.1zM639.2 277.5h1.1v1.1h-1.1zM602.7 238.2h1.1v1.1h-1.1zM637.3 280.0h1.1v1.1h-1.1zM555.2 258.1h1.1v1.1h-1.1zM640.6 240.3h1.1v1.1h-1.1zM559.6 277.6h1.1v1.1h-1.1zM541.4 276.0h1.1v1.1h-1.1zM558.5 286.7h1.1v1.1h-1.1zM571.8 260.8h1.1v1.1h-1.1zM559.5 274.0h1.1v1.1h-1.1zM541.6 285.9h1.1v1.1h-1.1zM556.9 262.8h1.1v1.1h-1.1zM581.6 265.0h1.1v1.1h-1.1zM604.2 277.9h1.1v1.1h-1.1zM611.1 290.9h1.1v1.1h-1.1zM621.4 230.4h1.1v1.1h-1.1zM642.2 269.9h1.1v1.1h-1.1zM554.1 285.8h1.1v1.1h-1.1zM598.5 296.5h1.1v1.1h-1.1zM584.1 258.3h1.1v1.1h-1.1zM537.0 296.5h1.1v1.1h-1.1zM620.7 223.1h1.1v1.1h-1.1zM599.8 251.8h1.1v1.1h-1.1zM549.3 269.4h1.1v1.1h-1.1zM549.7 267.2h1.1v1.1h-1.1zM625.4 268.0h1.1v1.1h-1.1zM635.0 242.3h1.1v1.1h-1.1zM583.2 272.7h1.1v1.1h-1.1zM616.6 266.3h1.1v1.1h-1.1zM553.8 286.3h1.1v1.1h-1.1zM645.0 264.2h1.1v1.1h-1.1zM542.1 291.5h1.1v1.1h-1.1zM590.2 260.7h1.1v1.1h-1.1zM540.2 297.4h1.1v1.1h-1.1zM551.9 291.3h1.1v1.1h-1.1zM621.5 238.5h1.1v1.1h-1.1zM646.9 242.7h1.1v1.1h-1.1zM647.7 245.5h1.1v1.1h-1.1zM626.4 287.4h1.1v1.1h-1.1zM581.7 294.0h1.1v1.1h-1.1zM537.2 297.4h1.1v1.1h-1.1zM587.4 293.4h1.1v1.1h-1.1zM594.9 252.3h1.1v1.1h-1.1zM618.2 297.4h1.1v1.1h-1.1zM544.1 275.0h1.1v1.1h-1.1zM548.1 292.7h1.1v1.1h-1.1zM590.0 228.2h1.1v1.1h-1.1zM557.1 258.4h1.1v1.1h-1.1zM564.1 279.4h1.1v1.1h-1.1zM608.5 260.2h1.1v1.1h-1.1zM622.4 248.6h1.1v1.1h-1.1zM626.9 292.5h1.1v1.1h-1.1zM546.8 269.1h1.1v1.1h-1.1zM549.0 281.9h1.1v1.1h-1.1zM618.3 297.4h1.1v1.1h-1.1zM603.6 275.7h1.1v1.1h-1.1zM608.4 277.2h1.1v1.1h-1.1zM574.5 253.8h1.1v1.1h-1.1zM611.1 258.6h1.1v1.1h-1.1zM620.9 250.4h1.1v1.1h-1.1zM577.0 271.3h1.1v1.1h-1.1zM537.3 296.1h1.1v1.1h-1.1zM551.7 297.4h1.1v1.1h-1.1zM615.0 246.3h1.1v1.1h-1.1zM629.7 242.1h1.1v1.1h-1.1zM598.4 250.4h1.1v1.1h-1.1zM538.9 292.7h1.1v1.1h-1.1zM540.8 288.0h1.1v1.1h-1.1zM595.8 279.1h1.1v1.1h-1.1zM562.1 249.0h1.1v1.1h-1.1zM581.9 272.2h1.1v1.1h-1.1zM579.7 263.0h1.1v1.1h-1.1zM602.0 251.5h1.1v1.1h-1.1zM590.7 264.2h1.1v1.1h-1.1zM590.3 283.6h1.1v1.1h-1.1zM538.1 297.4h1.1v1.1h-1.1zM638.0 236.5h1.1v1.1h-1.1zM593.3 297.4h1.1v1.1h-1.1zM581.1 264.0h1.1v1.1h-1.1zM601.4 255.2h1.1v1.1h-1.1zM617.3 277.5h1.1v1.1h-1.1zM626.7 243.3h1.1v1.1h-1.1zM540.3 284.3h1.1v1.1h-1.1zM637.6 258.5h1.1v1.1h-1.1zM539.2 276.7h1.1v1.1h-1.1zM552.9 294.3h1.1v1.1h-1.1zM582.5 239.9h1.1v1.1h-1.1zM567.4 262.1h1.1v1.1h-1.1zM546.1 264.9h1.1v1.1h-1.1zM541.7 292.3h1.1v1.1h-1.1zM541.3 287.3h1.1v1.1h-1.1zM568.4 269.2h1.1v1.1h-1.1zM588.8 288.3h1.1v1.1h-1.1zM587.8 265.6h1.1v1.1h-1.1zM545.4 283.9h1.1v1.1h-1.1zM579.8 264.3h1.1v1.1h-1.1zM642.1 256.9h1.1v1.1h-1.1zM552.5 258.6h1.1v1.1h-1.1zM557.4 293.0h1.1v1.1h-1.1zM645.5 237.6h1.1v1.1h-1.1zM585.7 265.0h1.1v1.1h-1.1zM604.8 242.4h1.1v1.1h-1.1zM618.3 248.3h1.1v1.1h-1.1zM556.0 284.6h1.1v1.1h-1.1zM540.7 282.0h1.1v1.1h-1.1zM548.7 274.5h1.1v1.1h-1.1zM539.6 280.9h1.1v1.1h-1.1zM587.5 256.4h1.1v1.1h-1.1zM541.8 293.8h1.1v1.1h-1.1zM592.9 261.7h1.1v1.1h-1.1zM541.1 278.6h1.1v1.1h-1.1zM618.1 251.1h1.1v1.1h-1.1zM615.0 259.8h1.1v1.1h-1.1zM554.8 288.3h1.1v1.1h-1.1zM594.0 252.0h1.1v1.1h-1.1zM538.2 290.0h1.1v1.1h-1.1zM643.6 261.6h1.1v1.1h-1.1zM629.0 247.2h1.1v1.1h-1.1zM585.8 280.7h1.1v1.1h-1.1zM549.1 290.6h1.1v1.1h-1.1zM537.9 289.4h1.1v1.1h-1.1zM587.9 253.1h1.1v1.1h-1.1zM552.9 254.2h1.1v1.1h-1.1zM619.8 289.8h1.1v1.1h-1.1zM573.2 259.1h1.1v1.1h-1.1zM563.2 296.7h1.1v1.1h-1.1zM540.5 297.2h1.1v1.1h-1.1zM600.3 253.3h1.1v1.1h-1.1zM596.2 264.6h1.1v1.1h-1.1zM573.8 255.6h1.1v1.1h-1.1zM600.9 255.0h1.1v1.1h-1.1zM558.5 287.8h1.1v1.1h-1.1zM537.6 293.9h1.1v1.1h-1.1zM537.0 287.1h1.1v1.1h-1.1zM572.9 259.4h1.1v1.1h-1.1zM552.3 255.8h1.1v1.1h-1.1zM538.9 290.3h1.1v1.1h-1.1zM575.5 285.0h1.1v1.1h-1.1zM549.9 297.4h1.1v1.1h-1.1zM603.3 257.5h1.1v1.1h-1.1zM601.7 282.5h1.1v1.1h-1.1zM616.8 251.0h1.1v1.1h-1.1zM553.5 293.9h1.1v1.1h-1.1zM627.4 276.8h1.1v1.1h-1.1zM539.5 297.4h1.1v1.1h-1.1zM555.5 285.6h1.1v1.1h-1.1zM585.6 289.7h1.1v1.1h-1.1zM549.8 291.3h1.1v1.1h-1.1zM579.8 283.3h1.1v1.1h-1.1zM622.7 240.8h1.1v1.1h-1.1zM544.0 272.4h1.1v1.1h-1.1zM622.8 254.2h1.1v1.1h-1.1zM623.1 254.9h1.1v1.1h-1.1zM554.6 269.3h1.1v1.1h-1.1zM547.9 258.6h1.1v1.1h-1.1zM590.6 247.4h1.1v1.1h-1.1zM562.2 282.4h1.1v1.1h-1.1zM600.8 263.1h1.1v1.1h-1.1zM635.5 236.0h1.1v1.1h-1.1zM542.3 297.4h1.1v1.1h-1.1zM619.2 278.1h1.1v1.1h-1.1zM585.5 286.7h1.1v1.1h-1.1zM543.1 279.2h1.1v1.1h-1.1zM566.9 251.4h1.1v1.1h-1.1zM617.1 247.3h1.1v1.1h-1.1zM609.3 224.7h1.1v1.1h-1.1zM624.1 294.3h1.1v1.1h-1.1zM598.9 269.0h1.1v1.1h-1.1zM553.3 274.0h1.1v1.1h-1.1zM537.4 297.4h1.1v1.1h-1.1zM646.8 285.7h1.1v1.1h-1.1zM618.4 251.4h1.1v1.1h-1.1zM642.4 228.2h1.1v1.1h-1.1zM541.0 273.6h1.1v1.1h-1.1zM607.6 296.0h1.1v1.1h-1.1zM565.5 273.2h1.1v1.1h-1.1zM593.1 247.5h1.1v1.1h-1.1zM536.5 297.4h1.1v1.1h-1.1zM536.9 289.7h1.1v1.1h-1.1zM543.6 286.8h1.1v1.1h-1.1zM615.3 257.1h1.1v1.1h-1.1zM634.9 224.1h1.1v1.1h-1.1zM631.8 279.0h1.1v1.1h-1.1zM574.2 255.9h1.1v1.1h-1.1zM536.9 296.6h1.1v1.1h-1.1zM601.5 225.8h1.1v1.1h-1.1zM567.4 259.7h1.1v1.1h-1.1zM642.1 237.6h1.1v1.1h-1.1zM546.3 296.9h1.1v1.1h-1.1zM597.4 243.9h1.1v1.1h-1.1zM622.7 297.4h1.1v1.1h-1.1zM643.6 275.8h1.1v1.1h-1.1zM613.4 243.1h1.1v1.1h-1.1zM544.8 282.0h1.1v1.1h-1.1zM609.8 252.8h1.1v1.1h-1.1zM559.7 274.0h1.1v1.1h-1.1zM604.5 248.0h1.1v1.1h-1.1zM570.8 297.4h1.1v1.1h-1.1zM550.3 295.3h1.1v1.1h-1.1zM575.2 276.9h1.1v1.1h-1.1zM617.5 237.1h1.1v1.1h-1.1zM552.1 269.4h1.1v1.1h-1.1zM599.0 249.9h1.1v1.1h-1.1zM610.5 245.5h1.1v1.1h-1.1zM605.5 248.7h1.1v1.1h-1.1zM564.6 264.1h1.1v1.1h-1.1zM632.8 257.0h1.1v1.1h-1.1zM601.1 262.7h1.1v1.1h-1.1zM542.4 286.3h1.1v1.1h-1.1zM613.7 267.3h1.1v1.1h-1.1zM601.7 237.1h1.1v1.1h-1.1zM592.1 268.3h1.1v1.1h-1.1zM540.1 292.0h1.1v1.1h-1.1zM588.9 264.0h1.1v1.1h-1.1zM539.9 297.4h1.1v1.1h-1.1zM568.5 275.6h1.1v1.1h-1.1zM577.4 278.7h1.1v1.1h-1.1zM578.6 237.1h1.1v1.1h-1.1zM588.7 253.8h1.1v1.1h-1.1zM541.1 290.3h1.1v1.1h-1.1zM646.3 237.1h1.1v1.1h-1.1zM597.1 282.6h1.1v1.1h-1.1zM547.7 269.5h1.1v1.1h-1.1zM636.6 242.3h1.1v1.1h-1.1zM632.9 262.9h1.1v1.1h-1.1zM556.2 277.1h1.1v1.1h-1.1zM565.7 273.3h1.1v1.1h-1.1zM618.7 292.6h1.1v1.1h-1.1zM563.9 286.9h1.1v1.1h-1.1zM549.0 292.7h1.1v1.1h-1.1zM598.6 244.5h1.1v1.1h-1.1zM577.3 260.5h1.1v1.1h-1.1zM604.0 249.5h1.1v1.1h-1.1zM543.9 276.7h1.1v1.1h-1.1zM617.3 246.4h1.1v1.1h-1.1zM551.5 268.5h1.1v1.1h-1.1zM597.6 245.8h1.1v1.1h-1.1zM596.4 247.9h1.1v1.1h-1.1zM600.9 242.1h1.1v1.1h-1.1zM544.4 275.7h1.1v1.1h-1.1zM584.1 245.0h1.1v1.1h-1.1zM579.4 286.0h1.1v1.1h-1.1zM562.5 272.1h1.1v1.1h-1.1zM604.4 245.6h1.1v1.1h-1.1zM536.5 296.4h1.1v1.1h-1.1zM556.7 267.6h1.1v1.1h-1.1zM585.5 297.4h1.1v1.1h-1.1zM555.0 267.1h1.1v1.1h-1.1zM555.2 282.2h1.1v1.1h-1.1zM621.8 264.2h1.1v1.1h-1.1zM615.2 249.2h1.1v1.1h-1.1zM551.6 267.9h1.1v1.1h-1.1zM541.5 287.3h1.1v1.1h-1.1zM584.9 290.8h1.1v1.1h-1.1zM555.9 290.6h1.1v1.1h-1.1zM636.1 281.8h1.1v1.1h-1.1zM635.5 246.2h1.1v1.1h-1.1zM595.6 277.2h1.1v1.1h-1.1zM598.1 285.5h1.1v1.1h-1.1zM583.8 292.0h1.1v1.1h-1.1zM569.9 270.0h1.1v1.1h-1.1zM641.2 230.6h1.1v1.1h-1.1zM623.7 231.3h1.1v1.1h-1.1zM599.1 252.5h1.1v1.1h-1.1zM616.4 228.1h1.1v1.1h-1.1zM575.9 257.2h1.1v1.1h-1.1zM538.6 297.4h1.1v1.1h-1.1zM578.4 244.6h1.1v1.1h-1.1zM626.5 220.3h1.1v1.1h-1.1zM617.5 247.0h1.1v1.1h-1.1zM626.6 232.6h1.1v1.1h-1.1zM536.8 297.4h1.1v1.1h-1.1zM549.0 275.7h1.1v1.1h-1.1zM570.0 271.7h1.1v1.1h-1.1zM578.6 254.2h1.1v1.1h-1.1zM614.7 244.1h1.1v1.1h-1.1zM621.4 262.8h1.1v1.1h-1.1zM543.7 288.2h1.1v1.1h-1.1zM553.3 275.2h1.1v1.1h-1.1zM584.9 275.8h1.1v1.1h-1.1zM553.4 297.4h1.1v1.1h-1.1zM549.4 290.4h1.1v1.1h-1.1zM544.1 270.8h1.1v1.1h-1.1zM577.1 278.6h1.1v1.1h-1.1zM579.9 268.5h1.1v1.1h-1.1zM582.9 251.3h1.1v1.1h-1.1zM560.2 266.7h1.1v1.1h-1.1zM616.4 284.5h1.1v1.1h-1.1zM564.7 255.3h1.1v1.1h-1.1zM607.6 252.6h1.1v1.1h-1.1zM566.6 264.7h1.1v1.1h-1.1zM537.7 286.1h1.1v1.1h-1.1zM591.9 245.2h1.1v1.1h-1.1zM567.4 263.3h1.1v1.1h-1.1zM606.0 258.0h1.1v1.1h-1.1zM643.4 246.5h1.1v1.1h-1.1zM548.6 268.9h1.1v1.1h-1.1zM578.4 278.0h1.1v1.1h-1.1zM605.8 235.1h1.1v1.1h-1.1zM565.5 297.4h1.1v1.1h-1.1zM556.0 289.6h1.1v1.1h-1.1zM600.5 265.7h1.1v1.1h-1.1zM579.9 258.4h1.1v1.1h-1.1zM583.4 264.0h1.1v1.1h-1.1zM537.2 287.9h1.1v1.1h-1.1zM581.2 252.7h1.1v1.1h-1.1zM536.6 297.4h1.1v1.1h-1.1zM635.6 295.1h1.1v1.1h-1.1zM586.6 268.3h1.1v1.1h-1.1zM553.6 283.4h1.1v1.1h-1.1zM585.1 280.4h1.1v1.1h-1.1zM549.4 287.8h1.1v1.1h-1.1zM636.2 243.3h1.1v1.1h-1.1zM551.2 297.4h1.1v1.1h-1.1zM622.2 244.0h1.1v1.1h-1.1zM561.1 286.3h1.1v1.1h-1.1zM541.4 274.1h1.1v1.1h-1.1zM621.2 258.6h1.1v1.1h-1.1zM587.2 263.2h1.1v1.1h-1.1zM637.9 238.9h1.1v1.1h-1.1zM620.5 280.4h1.1v1.1h-1.1zM590.1 266.1h1.1v1.1h-1.1zM620.8 244.8h1.1v1.1h-1.1zM541.3 297.4h1.1v1.1h-1.1zM571.4 265.4h1.1v1.1h-1.1zM541.4 277.4h1.1v1.1h-1.1zM564.7 275.3h1.1v1.1h-1.1zM576.3 271.4h1.1v1.1h-1.1zM590.0 219.9h1.1v1.1h-1.1zM570.0 252.3h1.1v1.1h-1.1zM537.9 268.1h1.1v1.1h-1.1zM599.4 230.4h1.1v1.1h-1.1zM536.5 265.4h1.1v1.1h-1.1zM635.9 222.5h1.1v1.1h-1.1zM566.0 256.1h1.1v1.1h-1.1zM642.8 224.1h1.1v1.1h-1.1zM536.7 290.0h1.1v1.1h-1.1zM543.7 234.7h1.1v1.1h-1.1zM622.9 206.5h1.1v1.1h-1.1zM550.6 264.7h1.1v1.1h-1.1zM552.1 248.5h1.1v1.1h-1.1zM551.4 260.5h1.1v1.1h-1.1zM595.5 236.2h1.1v1.1h-1.1zM542.0 268.2h1.1v1.1h-1.1zM552.2 255.1h1.1v1.1h-1.1zM539.2 276.1h1.1v1.1h-1.1zM545.8 265.7h1.1v1.1h-1.1zM563.2 257.5h1.1v1.1h-1.1zM552.8 255.5h1.1v1.1h-1.1zM580.9 225.1h1.1v1.1h-1.1zM636.1 226.1h1.1v1.1h-1.1zM556.5 250.9h1.1v1.1h-1.1zM551.2 264.3h1.1v1.1h-1.1zM631.1 229.9h1.1v1.1h-1.1zM543.2 240.7h1.1v1.1h-1.1zM604.9 223.6h1.1v1.1h-1.1zM577.0 240.1h1.1v1.1h-1.1zM604.9 231.5h1.1v1.1h-1.1zM644.8 203.7h1.1v1.1h-1.1zM554.5 235.6h1.1v1.1h-1.1zM580.2 244.1h1.1v1.1h-1.1zM588.8 214.0h1.1v1.1h-1.1zM609.2 231.6h1.1v1.1h-1.1zM581.9 243.7h1.1v1.1h-1.1zM618.6 230.7h1.1v1.1h-1.1zM621.0 229.3h1.1v1.1h-1.1zM643.5 205.1h1.1v1.1h-1.1zM544.7 265.5h1.1v1.1h-1.1zM571.2 246.5h1.1v1.1h-1.1zM583.1 237.7h1.1v1.1h-1.1zM616.6 229.1h1.1v1.1h-1.1zM542.2 251.1h1.1v1.1h-1.1zM536.8 285.4h1.1v1.1h-1.1zM536.7 239.0h1.1v1.1h-1.1zM593.8 239.2h1.1v1.1h-1.1zM576.0 249.5h1.1v1.1h-1.1zM538.9 277.8h1.1v1.1h-1.1zM538.9 273.7h1.1v1.1h-1.1zM574.0 236.8h1.1v1.1h-1.1zM570.4 225.0h1.1v1.1h-1.1zM549.8 264.1h1.1v1.1h-1.1zM587.7 233.4h1.1v1.1h-1.1zM561.2 258.6h1.1v1.1h-1.1zM626.2 230.3h1.1v1.1h-1.1zM556.7 242.8h1.1v1.1h-1.1zM644.8 217.9h1.1v1.1h-1.1zM598.3 237.4h1.1v1.1h-1.1zM545.0 235.1h1.1v1.1h-1.1zM608.1 229.9h1.1v1.1h-1.1zM643.8 218.3h1.1v1.1h-1.1zM568.2 253.4h1.1v1.1h-1.1zM546.2 245.9h1.1v1.1h-1.1zM638.0 227.9h1.1v1.1h-1.1zM543.2 245.2h1.1v1.1h-1.1zM541.4 258.3h1.1v1.1h-1.1zM642.9 227.5h1.1v1.1h-1.1zM541.0 247.5h1.1v1.1h-1.1zM548.7 260.6h1.1v1.1h-1.1zM624.4 225.4h1.1v1.1h-1.1zM538.0 234.5h1.1v1.1h-1.1zM590.1 243.5h1.1v1.1h-1.1zM641.1 226.3h1.1v1.1h-1.1zM566.6 228.0h1.1v1.1h-1.1zM618.3 204.5h1.1v1.1h-1.1zM596.1 211.4h1.1v1.1h-1.1zM543.8 255.4h1.1v1.1h-1.1zM581.4 240.4h1.1v1.1h-1.1zM622.3 206.7h1.1v1.1h-1.1zM541.3 255.1h1.1v1.1h-1.1zM560.1 258.6h1.1v1.1h-1.1zM571.1 251.2h1.1v1.1h-1.1zM636.6 209.5h1.1v1.1h-1.1zM632.4 227.9h1.1v1.1h-1.1zM575.0 247.4h1.1v1.1h-1.1zM609.4 234.7h1.1v1.1h-1.1zM609.9 225.3h1.1v1.1h-1.1zM569.0 227.1h1.1v1.1h-1.1zM611.9 205.3h1.1v1.1h-1.1zM606.4 213.9h1.1v1.1h-1.1zM549.3 228.8h1.1v1.1h-1.1zM561.2 236.5h1.1v1.1h-1.1zM556.0 250.1h1.1v1.1h-1.1zM563.5 232.4h1.1v1.1h-1.1zM645.2 226.6h1.1v1.1h-1.1zM642.6 196.1h1.1v1.1h-1.1zM639.9 226.5h1.1v1.1h-1.1zM546.9 242.6h1.1v1.1h-1.1zM581.3 236.6h1.1v1.1h-1.1zM619.2 231.6h1.1v1.1h-1.1zM610.6 228.0h1.1v1.1h-1.1zM578.4 248.5h1.1v1.1h-1.1zM596.0 213.9h1.1v1.1h-1.1zM572.4 220.0h1.1v1.1h-1.1zM538.4 272.4h1.1v1.1h-1.1zM638.3 221.0h1.1v1.1h-1.1zM548.4 258.8h1.1v1.1h-1.1zM624.6 225.6h1.1v1.1h-1.1zM641.6 224.9h1.1v1.1h-1.1zM552.4 228.8h1.1v1.1h-1.1zM643.6 220.7h1.1v1.1h-1.1zM545.1 239.9h1.1v1.1h-1.1zM539.2 235.4h1.1v1.1h-1.1zM539.9 272.6h1.1v1.1h-1.1zM630.5 229.7h1.1v1.1h-1.1zM546.9 265.4h1.1v1.1h-1.1zM632.1 222.3h1.1v1.1h-1.1zM607.4 235.4h1.1v1.1h-1.1zM612.2 216.8h1.1v1.1h-1.1z" fill="rgb(55,145,100)" fill-opacity="0.62"/>
<path d="M565.9 297.4h1.1v1.1h-1.1zM606.3 297.4h1.1v1.1h-1.1zM556.8 297.4h1.1v1.1h-1.1zM552.6 297.4h1.1v1.1h-1.1zM622.5 289.4h1.1v1.1h-1.1zM538.7 297.4h1.1v1.1h-1.1zM561.2 297.4h1.1v1.1h-1.1zM547.9 297.4h1.1v1.1h-1.1zM584.0 295.7h1.1v1.1h-1.1zM565.9 283.8h1.1v1.1h-1.1zM588.7 288.5h1.1v1.1h-1.1zM541.8 297.4h1.1v1.1h-1.1zM565.6 296.3h1.1v1.1h-1.1zM555.1 297.4h1.1v1.1h-1.1zM548.7 297.0h1.1v1.1h-1.1zM538.0 297.4h1.1v1.1h-1.1zM605.4 288.4h1.1v1.1h-1.1zM543.7 297.4h1.1v1.1h-1.1zM593.1 289.1h1.1v1.1h-1.1zM574.2 285.7h1.1v1.1h-1.1zM538.7 297.1h1.1v1.1h-1.1zM540.9 297.4h1.1v1.1h-1.1zM568.0 295.9h1.1v1.1h-1.1zM594.1 273.3h1.1v1.1h-1.1zM631.7 272.2h1.1v1.1h-1.1zM587.8 297.4h1.1v1.1h-1.1zM586.0 297.0h1.1v1.1h-1.1zM548.6 295.9h1.1v1.1h-1.1zM637.9 297.4h1.1v1.1h-1.1zM644.2 257.3h1.1v1.1h-1.1zM557.7 297.2h1.1v1.1h-1.1zM577.3 294.3h1.1v1.1h-1.1zM574.3 292.9h1.1v1.1h-1.1zM592.1 283.9h1.1v1.1h-1.1zM646.4 275.4h1.1v1.1h-1.1zM585.2 270.8h1.1v1.1h-1.1zM592.9 297.4h1.1v1.1h-1.1zM578.0 285.2h1.1v1.1h-1.1zM568.6 283.5h1.1v1.1h-1.1zM538.9 297.4h1.1v1.1h-1.1zM574.1 297.4h1.1v1.1h-1.1zM603.8 288.8h1.1v1.1h-1.1zM630.1 293.6h1.1v1.1h-1.1zM587.5 284.1h1.1v1.1h-1.1zM586.4 297.4h1.1v1.1h-1.1zM575.9 284.1h1.1v1.1h-1.1zM590.2 281.7h1.1v1.1h-1.1zM588.1 281.0h1.1v1.1h-1.1zM584.0 297.4h1.1v1.1h-1.1zM552.8 295.2h1.1v1.1h-1.1zM611.0 297.0h1.1v1.1h-1.1zM586.8 297.4h1.1v1.1h-1.1zM548.6 296.9h1.1v1.1h-1.1zM631.5 257.4h1.1v1.1h-1.1zM569.4 293.0h1.1v1.1h-1.1zM582.5 287.9h1.1v1.1h-1.1zM598.4 280.8h1.1v1.1h-1.1zM593.8 287.1h1.1v1.1h-1.1zM554.9 297.4h1.1v1.1h-1.1zM586.2 284.8h1.1v1.1h-1.1zM611.4 247.2h1.1v1.1h-1.1zM589.5 272.6h1.1v1.1h-1.1zM547.2 297.2h1.1v1.1h-1.1zM545.4 297.4h1.1v1.1h-1.1zM643.5 270.1h1.1v1.1h-1.1zM591.1 294.9h1.1v1.1h-1.1zM623.1 282.2h1.1v1.1h-1.1zM617.7 256.4h1.1v1.1h-1.1zM557.5 297.4h1.1v1.1h-1.1zM589.2 271.6h1.1v1.1h-1.1zM616.1 297.4h1.1v1.1h-1.1zM543.0 295.1h1.1v1.1h-1.1zM585.9 297.3h1.1v1.1h-1.1zM623.9 273.3h1.1v1.1h-1.1zM642.7 267.2h1.1v1.1h-1.1zM603.3 272.7h1.1v1.1h-1.1zM623.3 270.9h1.1v1.1h-1.1zM542.8 297.4h1.1v1.1h-1.1zM553.4 294.4h1.1v1.1h-1.1zM601.5 290.4h1.1v1.1h-1.1zM644.8 279.5h1.1v1.1h-1.1zM561.4 284.4h1.1v1.1h-1.1zM611.8 279.7h1.1v1.1h-1.1zM544.8 297.4h1.1v1.1h-1.1zM641.4 266.8h1.1v1.1h-1.1zM601.1 284.3h1.1v1.1h-1.1zM631.3 267.7h1.1v1.1h-1.1zM577.1 289.8h1.1v1.1h-1.1zM638.3 268.6h1.1v1.1h-1.1zM628.4 268.3h1.1v1.1h-1.1zM538.8 297.4h1.1v1.1h-1.1zM630.8 292.3h1.1v1.1h-1.1zM608.5 296.4h1.1v1.1h-1.1zM600.0 263.1h1.1v1.1h-1.1zM625.4 265.5h1.1v1.1h-1.1zM599.7 287.7h1.1v1.1h-1.1zM561.1 287.6h1.1v1.1h-1.1zM645.0 263.2h1.1v1.1h-1.1zM560.8 297.4h1.1v1.1h-1.1zM541.7 297.4h1.1v1.1h-1.1zM616.3 264.3h1.1v1.1h-1.1zM586.8 279.7h1.1v1.1h-1.1zM621.5 283.0h1.1v1.1h-1.1zM641.3 260.3h1.1v1.1h-1.1zM610.6 270.3h1.1v1.1h-1.1zM639.0 261.7h1.1v1.1h-1.1zM611.0 278.1h1.1v1.1h-1.1zM614.9 273.0h1.1v1.1h-1.1zM616.6 287.1h1.1v1.1h-1.1zM606.4 297.4h1.1v1.1h-1.1zM647.7 250.2h1.1v1.1h-1.1zM548.6 292.6h1.1v1.1h-1.1zM628.0 281.9h1.1v1.1h-1.1zM643.3 297.4h1.1v1.1h-1.1zM547.3 297.4h1.1v1.1h-1.1zM613.0 274.6h1.1v1.1h-1.1zM596.0 287.1h1.1v1.1h-1.1zM594.4 297.4h1.1v1.1h-1.1zM641.7 256.4h1.1v1.1h-1.1zM574.9 286.0h1.1v1.1h-1.1zM584.4 297.4h1.1v1.1h-1.1zM642.9 265.1h1.1v1.1h-1.1zM597.2 282.0h1.1v1.1h-1.1zM563.0 297.4h1.1v1.1h-1.1zM629.6 275.9h1.1v1.1h-1.1zM622.4 274.2h1.1v1.1h-1.1zM601.6 279.4h1.1v1.1h-1.1zM566.4 292.9h1.1v1.1h-1.1zM536.6 297.4h1.1v1.1h-1.1zM601.6 286.0h1.1v1.1h-1.1zM565.4 277.2h1.1v1.1h-1.1zM598.6 275.3h1.1v1.1h-1.1zM537.2 297.4h1.1v1.1h-1.1zM536.7 297.4h1.1v1.1h-1.1zM562.9 292.3h1.1v1.1h-1.1zM577.7 296.4h1.1v1.1h-1.1zM606.1 277.9h1.1v1.1h-1.1zM601.8 283.9h1.1v1.1h-1.1zM541.6 297.4h1.1v1.1h-1.1zM564.4 285.8h1.1v1.1h-1.1zM630.5 250.3h1.1v1.1h-1.1zM574.9 275.7h1.1v1.1h-1.1zM596.5 272.5h1.1v1.1h-1.1zM568.6 292.0h1.1v1.1h-1.1zM560.2 293.3h1.1v1.1h-1.1zM625.1 262.7h1.1v1.1h-1.1zM545.3 295.5h1.1v1.1h-1.1zM642.7 252.7h1.1v1.1h-1.1zM553.5 291.1h1.1v1.1h-1.1zM552.7 293.3h1.1v1.1h-1.1zM567.4 287.7h1.1v1.1h-1.1zM609.9 291.1h1.1v1.1h-1.1zM590.2 297.4h1.1v1.1h-1.1zM554.8 286.2h1.1v1.1h-1.1zM613.2 285.7h1.1v1.1h-1.1zM540.0 296.9h1.1v1.1h-1.1zM541.8 297.4h1.1v1.1h-1.1zM615.5 292.2h1.1v1.1h-1.1zM599.8 280.9h1.1v1.1h-1.1zM642.5 290.3h1.1v1.1h-1.1zM630.6 286.3h1.1v1.1h-1.1zM561.8 290.7h1.1v1.1h-1.1zM644.1 293.4h1.1v1.1h-1.1zM557.4 293.6h1.1v1.1h-1.1zM595.3 294.7h1.1v1.1h-1.1zM582.7 267.5h1.1v1.1h-1.1zM540.8 297.4h1.1v1.1h-1.1zM605.5 272.8h1.1v1.1h-1.1zM583.7 287.4h1.1v1.1h-1.1zM572.4 285.7h1.1v1.1h-1.1zM572.6 291.7h1.1v1.1h-1.1zM621.3 281.0h1.1v1.1h-1.1zM598.3 268.9h1.1v1.1h-1.1zM617.7 258.8h1.1v1.1h-1.1zM552.8 297.4h1.1v1.1h-1.1zM629.7 276.4h1.1v1.1h-1.1zM598.8 279.7h1.1v1.1h-1.1zM585.5 289.9h1.1v1.1h-1.1zM616.8 243.4h1.1v1.1h-1.1zM637.9 277.1h1.1v1.1h-1.1zM538.1 297.4h1.1v1.1h-1.1zM583.3 297.4h1.1v1.1h-1.1zM558.6 288.2h1.1v1.1h-1.1zM567.7 290.6h1.1v1.1h-1.1zM618.3 293.0h1.1v1.1h-1.1zM598.9 297.3h1.1v1.1h-1.1zM628.4 297.4h1.1v1.1h-1.1zM590.5 296.6h1.1v1.1h-1.1zM621.6 288.3h1.1v1.1h-1.1zM554.7 294.0h1.1v1.1h-1.1zM557.6 295.5h1.1v1.1h-1.1zM609.8 253.8h1.1v1.1h-1.1zM576.6 294.7h1.1v1.1h-1.1zM641.7 263.5h1.1v1.1h-1.1zM644.3 271.7h1.1v1.1h-1.1zM627.7 270.5h1.1v1.1h-1.1zM561.7 297.3h1.1v1.1h-1.1zM543.8 297.4h1.1v1.1h-1.1zM543.4 297.4h1.1v1.1h-1.1zM540.7 297.4h1.1v1.1h-1.1zM561.2 292.3h1.1v1.1h-1.1zM574.9 297.1h1.1v1.1h-1.1zM551.9 290.5h1.1v1.1h-1.1zM546.3 296.8h1.1v1.1h-1.1zM579.3 297.4h1.1v1.1h-1.1zM538.4 297.4h1.1v1.1h-1.1zM604.2 297.4h1.1v1.1h-1.1zM606.4 263.4h1.1v1.1h-1.1zM572.2 297.4h1.1v1.1h-1.1zM636.9 258.3h1.1v1.1h-1.1zM645.4 272.7h1.1v1.1h-1.1zM637.3 270.4h1.1v1.1h-1.1zM551.4 297.4h1.1v1.1h-1.1zM580.4 280.3h1.1v1.1h-1.1zM622.7 270.6h1.1v1.1h-1.1zM552.8 295.2h1.1v1.1h-1.1zM555.3 297.4h1.1v1.1h-1.1zM549.6 285.8h1.1v1.1h-1.1zM548.4 296.9h1.1v1.1h-1.1zM563.3 279.0h1.1v1.1h-1.1zM560.2 280.4h1.1v1.1h-1.1zM548.3 297.4h1.1v1.1h-1.1zM564.1 284.7h1.1v1.1h-1.1zM633.8 297.4h1.1v1.1h-1.1zM569.5 290.7h1.1v1.1h-1.1zM557.6 284.2h1.1v1.1h-1.1zM549.0 295.9h1.1v1.1h-1.1zM598.1 287.5h1.1v1.1h-1.1zM557.4 293.8h1.1v1.1h-1.1zM548.0 297.4h1.1v1.1h-1.1zM553.3 295.0h1.1v1.1h-1.1zM582.0 297.3h1.1v1.1h-1.1zM622.3 259.2h1.1v1.1h-1.1zM596.3 286.7h1.1v1.1h-1.1zM536.6 297.4h1.1v1.1h-1.1zM542.1 297.4h1.1v1.1h-1.1zM631.5 296.5h1.1v1.1h-1.1zM574.4 297.4h1.1v1.1h-1.1zM584.5 297.4h1.1v1.1h-1.1zM553.3 294.0h1.1v1.1h-1.1zM574.9 297.4h1.1v1.1h-1.1zM619.7 283.4h1.1v1.1h-1.1zM550.2 295.7h1.1v1.1h-1.1zM537.1 297.4h1.1v1.1h-1.1zM582.2 297.4h1.1v1.1h-1.1zM570.2 291.6h1.1v1.1h-1.1zM563.9 294.0h1.1v1.1h-1.1zM539.3 297.4h1.1v1.1h-1.1zM638.6 274.5h1.1v1.1h-1.1zM583.8 290.9h1.1v1.1h-1.1zM543.8 297.4h1.1v1.1h-1.1zM638.0 264.7h1.1v1.1h-1.1zM560.1 276.5h1.1v1.1h-1.1zM621.5 265.3h1.1v1.1h-1.1zM608.2 297.4h1.1v1.1h-1.1zM612.0 278.4h1.1v1.1h-1.1zM536.5 297.4h1.1v1.1h-1.1zM537.2 297.4h1.1v1.1h-1.1zM645.6 257.1h1.1v1.1h-1.1zM583.6 294.1h1.1v1.1h-1.1zM637.1 254.7h1.1v1.1h-1.1zM646.6 254.7h1.1v1.1h-1.1zM622.1 259.6h1.1v1.1h-1.1zM591.7 272.4h1.1v1.1h-1.1zM633.4 255.1h1.1v1.1h-1.1zM610.8 263.5h1.1v1.1h-1.1zM645.3 254.7h1.1v1.1h-1.1zM588.0 271.9h1.1v1.1h-1.1zM621.5 259.6h1.1v1.1h-1.1zM611.0 262.9h1.1v1.1h-1.1zM582.0 270.8h1.1v1.1h-1.1zM645.8 254.7h1.1v1.1h-1.1zM595.3 262.8h1.1v1.1h-1.1zM637.2 254.6h1.1v1.1h-1.1zM616.5 259.5h1.1v1.1h-1.1zM566.8 272.8h1.1v1.1h-1.1zM543.0 288.3h1.1v1.1h-1.1zM542.4 294.1h1.1v1.1h-1.1zM581.9 268.8h1.1v1.1h-1.1zM548.9 290.0h1.1v1.1h-1.1zM543.4 293.7h1.1v1.1h-1.1zM558.6 284.2h1.1v1.1h-1.1zM635.4 253.9h1.1v1.1h-1.1zM545.6 287.2h1.1v1.1h-1.1zM610.8 262.8h1.1v1.1h-1.1zM583.4 275.5h1.1v1.1h-1.1zM614.5 259.6h1.1v1.1h-1.1zM596.6 267.7h1.1v1.1h-1.1zM601.1 268.1h1.1v1.1h-1.1zM553.6 282.8h1.1v1.1h-1.1zM562.4 271.1h1.1v1.1h-1.1zM542.4 288.0h1.1v1.1h-1.1zM553.9 274.7h1.1v1.1h-1.1zM591.3 270.4h1.1v1.1h-1.1zM559.3 273.9h1.1v1.1h-1.1zM623.9 257.7h1.1v1.1h-1.1zM599.0 269.4h1.1v1.1h-1.1zM555.4 284.0h1.1v1.1h-1.1zM538.9 295.1h1.1v1.1h-1.1zM544.2 290.0h1.1v1.1h-1.1zM612.7 262.7h1.1v1.1h-1.1zM546.6 288.0h1.1v1.1h-1.1zM536.6 297.3h1.1v1.1h-1.1zM605.4 262.6h1.1v1.1h-1.1zM591.6 264.8h1.1v1.1h-1.1zM551.6 285.1h1.1v1.1h-1.1zM562.6 282.6h1.1v1.1h-1.1zM613.2 261.5h1.1v1.1h-1.1zM617.8 257.8h1.1v1.1h-1.1zM642.4 255.3h1.1v1.1h-1.1zM587.6 266.1h1.1v1.1h-1.1zM545.2 284.0h1.1v1.1h-1.1zM537.5 279.3h1.1v1.1h-1.1zM553.4 284.3h1.1v1.1h-1.1zM568.8 274.9h1.1v1.1h-1.1zM628.6 255.9h1.1v1.1h-1.1zM590.3 266.1h1.1v1.1h-1.1zM618.1 261.0h1.1v1.1h-1.1zM615.0 259.0h1.1v1.1h-1.1zM616.9 259.8h1.1v1.1h-1.1z" fill="rgb(180,100,50)" fill-opacity="0.62"/>
<polyline points="536.20,298.40 542.80,298.20 549.50,295.50 556.30,293.50 563.00,291.50 570.00,290.30 576.50,289.00 583.30,287.30 589.00,285.60 596.60,283.30 604.50,280.50 610.00,277.80 619.90,273.80 627.70,271.50 635.40,269.50 648.20,267.70" fill="none" stroke="rgb(170,90,40)" stroke-width="1.0" stroke-linejoin="round"/>
<polyline points="536.20,298.40 537.40,295.10 538.80,287.40 541.70,282.60 545.60,278.80 550.40,275.90 555.20,273.50 561.00,271.10 569.80,266.50 576.50,263.50 583.30,260.80 589.00,258.70 596.70,256.30 604.50,253.20 612.20,250.90 619.90,248.60 627.70,245.80 635.40,244.00 648.20,242.30" fill="none" stroke="rgb(40,140,90)" stroke-width="1.0" stroke-linejoin="round"/>
</g>
<line x1="583.13" y1="180.40" x2="583.13" y2="298.40" stroke="#111" stroke-width="0.9" stroke-dasharray="1.8,1.3"/>
<rect x="536.20" y="180.40" width="112.0" height="118.0" fill="none" stroke="#7a7a7a" stroke-width="0.9"/>
<path d="M536.20 298.40v2.2M572.30 298.40v2.2M608.40 298.40v2.2M644.50 298.40v2.2M536.20 298.40h-2.2M536.20 268.90h-2.2M536.20 239.40h-2.2M536.20 209.90h-2.2" stroke="#555" stroke-width="0.7" fill="none"/>
<text x="646.20" y="188.00" font-size="9" font-weight="bold" fill="#000" text-anchor="end" stroke="#000" stroke-width="0.12">h</text>
<clipPath id="ci"><rect x="149.40" y="322.50" width="112.0" height="118.0"/></clipPath>
<g clip-path="url(#ci)">
<polygon points="149.40,440.00 153.50,435.50 158.00,430.10 162.50,425.00 167.00,419.30 171.50,413.00 174.00,409.30 176.00,406.70 179.50,403.80 185.00,398.30 190.40,395.60 195.90,393.40 201.40,391.20 206.00,389.00 209.70,384.50 217.50,379.80 225.20,376.00 232.90,371.30 240.70,368.20 248.40,365.20 261.40,362.00 261.40,388.00 248.40,391.40 232.90,396.90 217.50,404.60 209.70,410.00 206.00,413.60 201.40,415.80 195.90,418.00 190.40,420.20 185.00,423.50 179.50,428.00 172.00,433.00 167.00,437.00 160.00,440.20 149.40,440.40" fill="rgb(40,140,90)" fill-opacity="0.26"/>
<polygon points="149.40,440.00 152.10,434.70 156.70,429.00 164.50,419.50 169.00,413.00 174.00,405.00 179.50,396.50 185.00,391.50 190.40,388.40 195.90,385.20 201.40,382.40 206.00,379.50 209.70,375.50 217.50,368.20 225.20,363.60 232.90,358.20 240.70,354.30 248.40,352.00 261.40,349.50 261.40,376.80 248.40,379.80 240.70,382.90 232.90,386.00 225.20,390.70 217.50,394.50 209.70,400.00 206.00,405.00 201.40,408.20 195.90,411.50 190.40,414.70 185.00,418.00 179.50,422.40 176.00,426.00 171.50,430.00 167.00,433.50 162.50,437.00 158.00,440.00 149.40,440.40" fill="rgb(170,90,40)" fill-opacity="0.26"/>
<path d="M256.2 364.7h1.1v1.1h-1.1zM182.7 424.6h1.1v1.1h-1.1zM237.7 376.4h1.1v1.1h-1.1zM160.3 432.0h1.1v1.1h-1.1zM182.6 425.1h1.1v1.1h-1.1zM189.4 424.0h1.1v1.1h-1.1zM215.7 400.7h1.1v1.1h-1.1zM205.8 408.1h1.1v1.1h-1.1zM166.6 429.8h1.1v1.1h-1.1zM237.1 385.1h1.1v1.1h-1.1zM174.2 438.1h1.1v1.1h-1.1zM260.1 363.4h1.1v1.1h-1.1zM241.7 365.8h1.1v1.1h-1.1zM207.1 395.6h1.1v1.1h-1.1zM250.6 371.6h1.1v1.1h-1.1zM152.9 437.7h1.1v1.1h-1.1zM163.0 439.5h1.1v1.1h-1.1zM163.9 420.6h1.1v1.1h-1.1zM155.9 435.9h1.1v1.1h-1.1zM227.0 396.2h1.1v1.1h-1.1zM227.3 396.7h1.1v1.1h-1.1zM242.0 387.9h1.1v1.1h-1.1zM241.6 399.9h1.1v1.1h-1.1zM204.2 432.1h1.1v1.1h-1.1zM251.0 374.4h1.1v1.1h-1.1zM157.9 430.8h1.1v1.1h-1.1zM212.1 390.3h1.1v1.1h-1.1zM209.1 410.8h1.1v1.1h-1.1zM217.5 392.1h1.1v1.1h-1.1zM169.8 424.5h1.1v1.1h-1.1zM182.7 410.5h1.1v1.1h-1.1zM171.9 418.9h1.1v1.1h-1.1zM236.7 399.6h1.1v1.1h-1.1zM202.4 400.5h1.1v1.1h-1.1zM168.3 417.6h1.1v1.1h-1.1zM155.8 433.5h1.1v1.1h-1.1zM207.4 408.0h1.1v1.1h-1.1zM201.0 408.5h1.1v1.1h-1.1zM233.7 380.1h1.1v1.1h-1.1zM176.7 413.6h1.1v1.1h-1.1zM234.0 387.7h1.1v1.1h-1.1zM197.0 392.7h1.1v1.1h-1.1zM152.0 437.8h1.1v1.1h-1.1zM246.7 372.9h1.1v1.1h-1.1zM236.6 381.9h1.1v1.1h-1.1zM223.1 390.8h1.1v1.1h-1.1zM160.4 433.0h1.1v1.1h-1.1zM200.4 416.1h1.1v1.1h-1.1zM155.5 439.5h1.1v1.1h-1.1zM194.9 398.4h1.1v1.1h-1.1zM257.7 388.6h1.1v1.1h-1.1zM172.2 439.5h1.1v1.1h-1.1zM164.5 431.9h1.1v1.1h-1.1zM179.7 417.2h1.1v1.1h-1.1zM170.8 421.2h1.1v1.1h-1.1zM240.2 374.0h1.1v1.1h-1.1zM210.3 417.2h1.1v1.1h-1.1zM252.6 404.3h1.1v1.1h-1.1zM177.7 434.1h1.1v1.1h-1.1zM248.4 379.4h1.1v1.1h-1.1zM259.8 375.0h1.1v1.1h-1.1zM152.5 439.5h1.1v1.1h-1.1zM192.3 400.5h1.1v1.1h-1.1zM220.0 379.1h1.1v1.1h-1.1zM258.8 406.9h1.1v1.1h-1.1zM252.4 379.7h1.1v1.1h-1.1zM194.5 427.4h1.1v1.1h-1.1zM196.1 407.1h1.1v1.1h-1.1zM153.6 435.1h1.1v1.1h-1.1zM248.9 371.9h1.1v1.1h-1.1zM255.5 393.3h1.1v1.1h-1.1zM239.1 399.5h1.1v1.1h-1.1zM152.5 437.5h1.1v1.1h-1.1zM254.4 377.2h1.1v1.1h-1.1zM235.4 383.3h1.1v1.1h-1.1zM201.3 428.1h1.1v1.1h-1.1zM182.6 415.8h1.1v1.1h-1.1zM169.0 432.9h1.1v1.1h-1.1zM152.0 437.5h1.1v1.1h-1.1zM236.9 396.5h1.1v1.1h-1.1zM157.6 439.5h1.1v1.1h-1.1zM259.4 367.5h1.1v1.1h-1.1zM212.2 393.6h1.1v1.1h-1.1zM242.7 416.7h1.1v1.1h-1.1zM171.8 419.6h1.1v1.1h-1.1zM211.8 395.4h1.1v1.1h-1.1zM228.1 386.2h1.1v1.1h-1.1zM181.6 400.8h1.1v1.1h-1.1zM167.2 418.3h1.1v1.1h-1.1zM201.2 419.1h1.1v1.1h-1.1zM174.1 406.7h1.1v1.1h-1.1zM249.4 373.7h1.1v1.1h-1.1zM230.2 375.3h1.1v1.1h-1.1zM250.2 384.9h1.1v1.1h-1.1zM252.2 381.4h1.1v1.1h-1.1zM178.7 439.5h1.1v1.1h-1.1zM163.7 438.5h1.1v1.1h-1.1zM230.7 395.9h1.1v1.1h-1.1zM189.3 394.9h1.1v1.1h-1.1zM256.1 369.6h1.1v1.1h-1.1zM155.0 436.1h1.1v1.1h-1.1zM180.3 406.8h1.1v1.1h-1.1zM167.3 426.8h1.1v1.1h-1.1zM242.6 425.5h1.1v1.1h-1.1zM189.9 433.3h1.1v1.1h-1.1zM152.9 439.5h1.1v1.1h-1.1zM160.0 439.5h1.1v1.1h-1.1zM209.3 385.6h1.1v1.1h-1.1zM256.1 396.0h1.1v1.1h-1.1zM151.5 437.3h1.1v1.1h-1.1zM206.3 421.8h1.1v1.1h-1.1zM164.4 439.5h1.1v1.1h-1.1zM253.1 396.4h1.1v1.1h-1.1zM215.1 394.7h1.1v1.1h-1.1zM150.5 437.2h1.1v1.1h-1.1zM245.1 395.2h1.1v1.1h-1.1zM213.2 393.5h1.1v1.1h-1.1zM233.8 425.0h1.1v1.1h-1.1zM207.4 410.9h1.1v1.1h-1.1zM162.1 425.9h1.1v1.1h-1.1zM256.7 386.2h1.1v1.1h-1.1zM243.4 373.3h1.1v1.1h-1.1zM222.2 404.6h1.1v1.1h-1.1zM175.7 415.8h1.1v1.1h-1.1zM194.2 419.4h1.1v1.1h-1.1zM155.4 439.5h1.1v1.1h-1.1zM243.5 371.7h1.1v1.1h-1.1zM220.3 395.8h1.1v1.1h-1.1zM217.6 385.3h1.1v1.1h-1.1zM223.4 395.2h1.1v1.1h-1.1zM188.4 420.6h1.1v1.1h-1.1zM205.4 386.7h1.1v1.1h-1.1zM186.4 427.4h1.1v1.1h-1.1zM171.2 430.5h1.1v1.1h-1.1zM209.1 406.8h1.1v1.1h-1.1zM184.6 410.2h1.1v1.1h-1.1zM195.5 424.1h1.1v1.1h-1.1zM215.3 390.5h1.1v1.1h-1.1zM189.4 421.5h1.1v1.1h-1.1zM163.2 428.7h1.1v1.1h-1.1zM244.7 388.1h1.1v1.1h-1.1zM191.0 421.4h1.1v1.1h-1.1zM206.6 434.4h1.1v1.1h-1.1zM246.4 382.6h1.1v1.1h-1.1zM170.8 434.1h1.1v1.1h-1.1zM239.0 377.2h1.1v1.1h-1.1zM211.3 388.5h1.1v1.1h-1.1zM212.6 408.2h1.1v1.1h-1.1zM257.6 369.2h1.1v1.1h-1.1zM236.6 389.0h1.1v1.1h-1.1zM255.0 383.9h1.1v1.1h-1.1zM214.0 413.9h1.1v1.1h-1.1zM246.1 369.5h1.1v1.1h-1.1zM228.6 374.9h1.1v1.1h-1.1zM192.3 407.8h1.1v1.1h-1.1zM243.0 379.9h1.1v1.1h-1.1zM152.3 439.3h1.1v1.1h-1.1zM166.1 439.5h1.1v1.1h-1.1zM227.3 396.5h1.1v1.1h-1.1zM241.7 396.1h1.1v1.1h-1.1zM207.0 403.7h1.1v1.1h-1.1zM177.5 439.5h1.1v1.1h-1.1zM198.2 418.6h1.1v1.1h-1.1zM217.9 387.6h1.1v1.1h-1.1zM169.7 414.9h1.1v1.1h-1.1zM195.3 413.7h1.1v1.1h-1.1zM213.3 408.1h1.1v1.1h-1.1zM170.1 423.6h1.1v1.1h-1.1zM189.5 421.0h1.1v1.1h-1.1zM151.3 437.4h1.1v1.1h-1.1zM250.6 383.3h1.1v1.1h-1.1zM190.3 400.3h1.1v1.1h-1.1zM178.8 412.1h1.1v1.1h-1.1zM220.0 420.0h1.1v1.1h-1.1zM188.1 400.8h1.1v1.1h-1.1zM260.8 398.4h1.1v1.1h-1.1zM225.0 400.7h1.1v1.1h-1.1zM215.8 392.1h1.1v1.1h-1.1zM250.8 395.8h1.1v1.1h-1.1zM188.7 406.8h1.1v1.1h-1.1zM241.9 397.2h1.1v1.1h-1.1zM229.3 397.2h1.1v1.1h-1.1zM171.6 437.9h1.1v1.1h-1.1zM219.2 378.2h1.1v1.1h-1.1zM230.1 379.5h1.1v1.1h-1.1zM192.5 398.2h1.1v1.1h-1.1zM164.7 430.0h1.1v1.1h-1.1zM249.3 364.8h1.1v1.1h-1.1zM150.0 439.1h1.1v1.1h-1.1zM149.7 438.7h1.1v1.1h-1.1zM192.9 410.0h1.1v1.1h-1.1zM179.8 425.7h1.1v1.1h-1.1zM163.3 435.3h1.1v1.1h-1.1zM158.6 434.5h1.1v1.1h-1.1zM180.6 418.8h1.1v1.1h-1.1zM195.6 421.4h1.1v1.1h-1.1zM240.0 388.8h1.1v1.1h-1.1zM249.7 381.0h1.1v1.1h-1.1zM213.6 392.4h1.1v1.1h-1.1zM234.0 401.5h1.1v1.1h-1.1zM200.1 409.0h1.1v1.1h-1.1zM168.1 420.0h1.1v1.1h-1.1zM175.4 410.7h1.1v1.1h-1.1zM231.7 371.0h1.1v1.1h-1.1zM175.8 433.3h1.1v1.1h-1.1zM255.6 373.9h1.1v1.1h-1.1zM161.3 423.2h1.1v1.1h-1.1zM192.1 439.2h1.1v1.1h-1.1zM259.3 376.5h1.1v1.1h-1.1zM178.2 408.4h1.1v1.1h-1.1zM197.1 396.6h1.1v1.1h-1.1zM232.5 385.8h1.1v1.1h-1.1zM226.0 389.6h1.1v1.1h-1.1zM229.9 373.4h1.1v1.1h-1.1zM232.7 392.4h1.1v1.1h-1.1zM240.7 395.4h1.1v1.1h-1.1zM220.4 394.7h1.1v1.1h-1.1zM178.8 416.1h1.1v1.1h-1.1zM151.5 437.7h1.1v1.1h-1.1zM167.6 431.8h1.1v1.1h-1.1zM231.7 396.0h1.1v1.1h-1.1zM257.2 389.5h1.1v1.1h-1.1zM163.1 420.8h1.1v1.1h-1.1zM216.2 380.6h1.1v1.1h-1.1zM230.2 390.5h1.1v1.1h-1.1zM184.1 405.6h1.1v1.1h-1.1zM189.2 385.0h1.1v1.1h-1.1zM248.0 382.9h1.1v1.1h-1.1zM186.7 414.1h1.1v1.1h-1.1zM154.7 439.5h1.1v1.1h-1.1zM168.7 424.8h1.1v1.1h-1.1zM199.8 419.3h1.1v1.1h-1.1zM186.3 408.6h1.1v1.1h-1.1zM236.3 390.3h1.1v1.1h-1.1zM199.5 399.5h1.1v1.1h-1.1zM191.9 403.6h1.1v1.1h-1.1zM170.4 427.9h1.1v1.1h-1.1zM236.0 400.5h1.1v1.1h-1.1zM185.6 423.4h1.1v1.1h-1.1zM206.2 397.0h1.1v1.1h-1.1zM259.5 380.8h1.1v1.1h-1.1zM152.7 437.8h1.1v1.1h-1.1zM182.0 439.5h1.1v1.1h-1.1zM200.6 417.2h1.1v1.1h-1.1zM153.9 438.5h1.1v1.1h-1.1zM190.2 411.3h1.1v1.1h-1.1zM180.5 412.9h1.1v1.1h-1.1zM215.2 388.7h1.1v1.1h-1.1zM196.2 427.5h1.1v1.1h-1.1zM259.5 369.1h1.1v1.1h-1.1zM171.1 434.1h1.1v1.1h-1.1zM253.7 379.9h1.1v1.1h-1.1zM203.5 394.7h1.1v1.1h-1.1zM153.4 436.4h1.1v1.1h-1.1zM196.3 403.1h1.1v1.1h-1.1zM212.1 396.3h1.1v1.1h-1.1zM259.4 375.5h1.1v1.1h-1.1zM236.6 408.3h1.1v1.1h-1.1zM231.4 397.0h1.1v1.1h-1.1zM174.9 407.3h1.1v1.1h-1.1zM259.6 379.7h1.1v1.1h-1.1zM178.1 414.7h1.1v1.1h-1.1zM261.0 369.4h1.1v1.1h-1.1zM172.2 418.2h1.1v1.1h-1.1zM177.2 432.5h1.1v1.1h-1.1zM192.1 431.8h1.1v1.1h-1.1zM256.5 387.0h1.1v1.1h-1.1zM152.7 438.8h1.1v1.1h-1.1zM156.3 439.5h1.1v1.1h-1.1zM251.0 378.8h1.1v1.1h-1.1zM211.1 406.8h1.1v1.1h-1.1zM222.1 394.1h1.1v1.1h-1.1zM185.0 408.4h1.1v1.1h-1.1zM196.7 402.8h1.1v1.1h-1.1zM232.5 389.9h1.1v1.1h-1.1zM252.1 369.9h1.1v1.1h-1.1zM163.2 436.7h1.1v1.1h-1.1zM212.7 414.8h1.1v1.1h-1.1zM211.8 395.7h1.1v1.1h-1.1zM173.5 424.5h1.1v1.1h-1.1zM191.7 411.7h1.1v1.1h-1.1zM158.0 434.7h1.1v1.1h-1.1zM165.6 419.1h1.1v1.1h-1.1zM167.2 418.8h1.1v1.1h-1.1zM251.0 374.5h1.1v1.1h-1.1zM178.1 432.6h1.1v1.1h-1.1zM197.6 413.1h1.1v1.1h-1.1zM180.4 423.9h1.1v1.1h-1.1zM249.0 384.8h1.1v1.1h-1.1zM194.9 418.3h1.1v1.1h-1.1zM245.8 371.2h1.1v1.1h-1.1zM212.2 422.8h1.1v1.1h-1.1zM230.7 403.7h1.1v1.1h-1.1zM215.4 401.1h1.1v1.1h-1.1zM252.2 360.8h1.1v1.1h-1.1zM256.8 357.7h1.1v1.1h-1.1zM258.2 370.7h1.1v1.1h-1.1zM204.4 396.1h1.1v1.1h-1.1zM160.1 438.3h1.1v1.1h-1.1zM163.4 437.3h1.1v1.1h-1.1zM156.5 431.3h1.1v1.1h-1.1zM160.8 413.4h1.1v1.1h-1.1zM179.8 403.2h1.1v1.1h-1.1zM156.8 418.6h1.1v1.1h-1.1zM159.0 419.0h1.1v1.1h-1.1zM158.0 416.6h1.1v1.1h-1.1zM160.5 422.0h1.1v1.1h-1.1zM154.4 432.6h1.1v1.1h-1.1zM173.4 408.6h1.1v1.1h-1.1zM171.7 410.0h1.1v1.1h-1.1zM159.1 426.0h1.1v1.1h-1.1zM175.8 404.3h1.1v1.1h-1.1zM149.7 439.5h1.1v1.1h-1.1zM158.4 429.6h1.1v1.1h-1.1zM169.4 406.9h1.1v1.1h-1.1zM150.3 439.0h1.1v1.1h-1.1zM170.1 414.8h1.1v1.1h-1.1zM157.1 422.5h1.1v1.1h-1.1zM167.8 417.2h1.1v1.1h-1.1zM155.2 416.8h1.1v1.1h-1.1z" fill="rgb(55,145,100)" fill-opacity="0.62"/>
<path d="M172.0 412.4h1.1v1.1h-1.1zM232.6 385.1h1.1v1.1h-1.1zM233.6 385.0h1.1v1.1h-1.1zM240.2 374.2h1.1v1.1h-1.1zM193.7 417.4h1.1v1.1h-1.1zM192.9 408.7h1.1v1.1h-1.1zM244.1 355.2h1.1v1.1h-1.1zM192.9 402.0h1.1v1.1h-1.1zM179.4 416.5h1.1v1.1h-1.1zM180.7 398.9h1.1v1.1h-1.1zM247.3 387.8h1.1v1.1h-1.1zM209.9 394.1h1.1v1.1h-1.1zM158.1 427.5h1.1v1.1h-1.1zM226.3 376.4h1.1v1.1h-1.1zM170.1 411.1h1.1v1.1h-1.1zM235.7 363.5h1.1v1.1h-1.1zM215.5 370.0h1.1v1.1h-1.1zM199.5 401.0h1.1v1.1h-1.1zM244.3 395.2h1.1v1.1h-1.1zM192.1 412.1h1.1v1.1h-1.1zM191.8 422.3h1.1v1.1h-1.1zM173.6 419.8h1.1v1.1h-1.1zM156.1 439.5h1.1v1.1h-1.1zM155.1 437.0h1.1v1.1h-1.1zM197.7 404.4h1.1v1.1h-1.1zM165.6 420.5h1.1v1.1h-1.1zM151.9 439.5h1.1v1.1h-1.1zM171.2 427.3h1.1v1.1h-1.1zM192.5 369.0h1.1v1.1h-1.1zM189.9 408.6h1.1v1.1h-1.1zM182.3 424.5h1.1v1.1h-1.1zM206.7 370.5h1.1v1.1h-1.1zM239.2 333.5h1.1v1.1h-1.1zM237.8 382.1h1.1v1.1h-1.1zM249.4 382.9h1.1v1.1h-1.1zM227.8 384.8h1.1v1.1h-1.1zM188.1 418.5h1.1v1.1h-1.1zM179.6 424.6h1.1v1.1h-1.1zM213.1 390.5h1.1v1.1h-1.1zM232.3 364.2h1.1v1.1h-1.1zM199.0 401.0h1.1v1.1h-1.1zM255.6 355.7h1.1v1.1h-1.1zM203.0 373.9h1.1v1.1h-1.1zM247.1 381.5h1.1v1.1h-1.1zM209.6 390.1h1.1v1.1h-1.1zM164.3 427.7h1.1v1.1h-1.1zM206.3 385.2h1.1v1.1h-1.1zM205.6 394.9h1.1v1.1h-1.1zM257.4 373.6h1.1v1.1h-1.1zM152.2 431.4h1.1v1.1h-1.1zM182.3 399.8h1.1v1.1h-1.1zM241.9 353.9h1.1v1.1h-1.1zM198.4 403.5h1.1v1.1h-1.1zM157.9 438.5h1.1v1.1h-1.1zM150.8 439.5h1.1v1.1h-1.1zM160.0 424.0h1.1v1.1h-1.1zM205.1 418.3h1.1v1.1h-1.1zM153.0 439.5h1.1v1.1h-1.1zM257.4 365.9h1.1v1.1h-1.1zM153.3 439.5h1.1v1.1h-1.1zM260.2 361.4h1.1v1.1h-1.1zM254.0 349.2h1.1v1.1h-1.1zM162.6 427.8h1.1v1.1h-1.1zM156.8 433.9h1.1v1.1h-1.1zM196.0 410.3h1.1v1.1h-1.1zM244.6 376.6h1.1v1.1h-1.1zM219.5 386.1h1.1v1.1h-1.1zM216.9 407.6h1.1v1.1h-1.1zM179.2 379.6h1.1v1.1h-1.1zM159.2 435.3h1.1v1.1h-1.1zM250.1 368.3h1.1v1.1h-1.1zM240.8 373.7h1.1v1.1h-1.1zM161.2 421.7h1.1v1.1h-1.1zM218.4 352.1h1.1v1.1h-1.1zM191.5 419.6h1.1v1.1h-1.1zM160.5 426.8h1.1v1.1h-1.1zM232.7 375.9h1.1v1.1h-1.1zM226.4 398.5h1.1v1.1h-1.1zM210.9 397.8h1.1v1.1h-1.1zM232.4 383.1h1.1v1.1h-1.1zM207.3 380.9h1.1v1.1h-1.1zM196.7 419.5h1.1v1.1h-1.1zM162.1 432.5h1.1v1.1h-1.1zM213.7 393.4h1.1v1.1h-1.1zM180.8 412.4h1.1v1.1h-1.1zM242.4 361.5h1.1v1.1h-1.1zM238.7 381.4h1.1v1.1h-1.1zM153.1 433.3h1.1v1.1h-1.1zM208.0 388.7h1.1v1.1h-1.1zM167.9 434.3h1.1v1.1h-1.1zM221.6 406.2h1.1v1.1h-1.1zM254.1 363.6h1.1v1.1h-1.1zM159.6 435.0h1.1v1.1h-1.1zM156.4 439.5h1.1v1.1h-1.1zM198.4 374.8h1.1v1.1h-1.1zM158.0 427.2h1.1v1.1h-1.1zM200.0 388.8h1.1v1.1h-1.1zM237.8 350.7h1.1v1.1h-1.1zM223.6 374.4h1.1v1.1h-1.1zM203.7 396.0h1.1v1.1h-1.1zM206.6 383.2h1.1v1.1h-1.1zM221.0 406.3h1.1v1.1h-1.1zM230.1 365.6h1.1v1.1h-1.1zM164.3 439.5h1.1v1.1h-1.1zM209.3 401.0h1.1v1.1h-1.1zM246.6 369.0h1.1v1.1h-1.1zM165.1 432.9h1.1v1.1h-1.1zM241.5 373.1h1.1v1.1h-1.1zM233.9 363.8h1.1v1.1h-1.1zM227.5 378.4h1.1v1.1h-1.1zM173.9 414.0h1.1v1.1h-1.1zM205.2 394.3h1.1v1.1h-1.1zM181.3 404.0h1.1v1.1h-1.1zM209.1 389.7h1.1v1.1h-1.1zM215.6 370.3h1.1v1.1h-1.1zM151.0 439.5h1.1v1.1h-1.1zM150.5 437.3h1.1v1.1h-1.1zM189.0 390.8h1.1v1.1h-1.1zM163.9 433.9h1.1v1.1h-1.1zM197.0 404.3h1.1v1.1h-1.1zM247.2 368.5h1.1v1.1h-1.1zM202.6 419.5h1.1v1.1h-1.1zM213.4 384.0h1.1v1.1h-1.1zM211.9 396.4h1.1v1.1h-1.1zM159.9 435.5h1.1v1.1h-1.1zM159.8 437.5h1.1v1.1h-1.1zM232.5 377.5h1.1v1.1h-1.1zM170.5 424.3h1.1v1.1h-1.1zM200.9 393.8h1.1v1.1h-1.1zM193.3 400.7h1.1v1.1h-1.1zM246.2 358.0h1.1v1.1h-1.1zM236.1 365.5h1.1v1.1h-1.1zM200.8 386.8h1.1v1.1h-1.1zM256.8 373.2h1.1v1.1h-1.1zM242.7 342.7h1.1v1.1h-1.1zM239.9 390.6h1.1v1.1h-1.1zM244.3 371.3h1.1v1.1h-1.1zM212.6 398.3h1.1v1.1h-1.1zM181.7 404.9h1.1v1.1h-1.1zM173.3 435.2h1.1v1.1h-1.1zM204.5 359.5h1.1v1.1h-1.1zM221.4 394.4h1.1v1.1h-1.1zM250.7 356.3h1.1v1.1h-1.1zM209.4 391.9h1.1v1.1h-1.1zM235.7 401.8h1.1v1.1h-1.1zM174.0 420.8h1.1v1.1h-1.1zM165.4 416.4h1.1v1.1h-1.1zM258.2 367.4h1.1v1.1h-1.1zM215.8 386.7h1.1v1.1h-1.1zM155.0 439.2h1.1v1.1h-1.1zM183.8 405.4h1.1v1.1h-1.1zM155.5 439.5h1.1v1.1h-1.1zM255.8 374.4h1.1v1.1h-1.1zM190.4 406.8h1.1v1.1h-1.1zM151.8 439.0h1.1v1.1h-1.1zM156.9 439.5h1.1v1.1h-1.1zM208.2 398.3h1.1v1.1h-1.1zM158.2 439.5h1.1v1.1h-1.1zM227.8 353.4h1.1v1.1h-1.1zM249.4 385.6h1.1v1.1h-1.1zM173.9 408.5h1.1v1.1h-1.1zM212.6 386.9h1.1v1.1h-1.1zM249.8 384.5h1.1v1.1h-1.1zM196.7 402.6h1.1v1.1h-1.1zM149.9 439.5h1.1v1.1h-1.1zM159.2 436.4h1.1v1.1h-1.1zM252.8 355.4h1.1v1.1h-1.1zM236.6 383.2h1.1v1.1h-1.1zM156.9 426.9h1.1v1.1h-1.1zM254.3 354.0h1.1v1.1h-1.1zM252.8 372.0h1.1v1.1h-1.1zM195.3 392.8h1.1v1.1h-1.1zM250.4 356.0h1.1v1.1h-1.1zM172.6 437.5h1.1v1.1h-1.1zM160.7 427.5h1.1v1.1h-1.1zM176.3 383.2h1.1v1.1h-1.1zM247.2 370.2h1.1v1.1h-1.1zM195.8 406.8h1.1v1.1h-1.1zM256.2 371.7h1.1v1.1h-1.1zM163.0 428.5h1.1v1.1h-1.1zM246.6 370.6h1.1v1.1h-1.1zM247.2 391.2h1.1v1.1h-1.1zM204.7 392.1h1.1v1.1h-1.1zM215.7 387.5h1.1v1.1h-1.1zM174.3 408.9h1.1v1.1h-1.1zM182.6 427.1h1.1v1.1h-1.1zM163.5 426.2h1.1v1.1h-1.1zM237.5 372.8h1.1v1.1h-1.1zM243.0 373.7h1.1v1.1h-1.1zM192.0 392.9h1.1v1.1h-1.1zM214.3 377.4h1.1v1.1h-1.1zM253.9 360.7h1.1v1.1h-1.1zM235.9 410.2h1.1v1.1h-1.1zM169.9 419.0h1.1v1.1h-1.1zM154.9 439.5h1.1v1.1h-1.1zM163.6 425.6h1.1v1.1h-1.1zM165.6 425.4h1.1v1.1h-1.1zM251.5 371.7h1.1v1.1h-1.1zM176.6 423.9h1.1v1.1h-1.1zM252.0 385.4h1.1v1.1h-1.1zM191.5 410.0h1.1v1.1h-1.1zM190.1 385.9h1.1v1.1h-1.1zM213.8 371.3h1.1v1.1h-1.1zM231.0 394.8h1.1v1.1h-1.1zM213.3 379.2h1.1v1.1h-1.1zM172.2 432.1h1.1v1.1h-1.1zM179.5 419.3h1.1v1.1h-1.1zM176.5 406.0h1.1v1.1h-1.1zM209.9 374.3h1.1v1.1h-1.1zM188.3 408.4h1.1v1.1h-1.1zM249.8 377.6h1.1v1.1h-1.1zM164.6 439.3h1.1v1.1h-1.1zM246.2 377.1h1.1v1.1h-1.1zM149.8 439.3h1.1v1.1h-1.1zM190.3 386.8h1.1v1.1h-1.1zM166.4 430.0h1.1v1.1h-1.1zM179.8 401.0h1.1v1.1h-1.1zM166.3 421.1h1.1v1.1h-1.1zM206.0 390.9h1.1v1.1h-1.1zM152.4 434.5h1.1v1.1h-1.1zM174.5 420.5h1.1v1.1h-1.1zM205.7 370.8h1.1v1.1h-1.1zM192.0 409.2h1.1v1.1h-1.1zM173.0 409.4h1.1v1.1h-1.1zM241.7 391.2h1.1v1.1h-1.1zM152.5 439.5h1.1v1.1h-1.1zM167.3 438.8h1.1v1.1h-1.1zM247.5 372.6h1.1v1.1h-1.1zM155.8 438.8h1.1v1.1h-1.1zM153.7 430.4h1.1v1.1h-1.1zM195.4 400.9h1.1v1.1h-1.1zM206.4 390.0h1.1v1.1h-1.1zM200.3 398.4h1.1v1.1h-1.1zM168.4 425.2h1.1v1.1h-1.1zM232.6 365.0h1.1v1.1h-1.1zM222.3 388.2h1.1v1.1h-1.1zM161.7 419.5h1.1v1.1h-1.1zM202.7 403.8h1.1v1.1h-1.1zM213.3 391.4h1.1v1.1h-1.1zM168.6 427.3h1.1v1.1h-1.1zM245.3 375.0h1.1v1.1h-1.1zM228.5 381.1h1.1v1.1h-1.1zM151.1 437.8h1.1v1.1h-1.1zM152.8 439.5h1.1v1.1h-1.1zM172.0 422.0h1.1v1.1h-1.1zM196.5 409.8h1.1v1.1h-1.1zM237.1 336.4h1.1v1.1h-1.1zM210.7 382.6h1.1v1.1h-1.1zM160.0 439.5h1.1v1.1h-1.1zM245.5 370.9h1.1v1.1h-1.1zM234.1 370.4h1.1v1.1h-1.1zM165.1 426.6h1.1v1.1h-1.1zM213.8 357.9h1.1v1.1h-1.1zM211.3 388.4h1.1v1.1h-1.1zM158.8 436.9h1.1v1.1h-1.1zM244.5 376.2h1.1v1.1h-1.1zM255.4 376.4h1.1v1.1h-1.1zM206.6 366.8h1.1v1.1h-1.1zM219.2 388.7h1.1v1.1h-1.1zM246.2 358.3h1.1v1.1h-1.1zM239.3 357.7h1.1v1.1h-1.1zM170.4 416.2h1.1v1.1h-1.1zM174.8 426.4h1.1v1.1h-1.1zM165.0 423.2h1.1v1.1h-1.1zM210.4 403.3h1.1v1.1h-1.1zM161.7 429.0h1.1v1.1h-1.1zM256.0 364.6h1.1v1.1h-1.1zM156.3 439.5h1.1v1.1h-1.1zM227.5 387.2h1.1v1.1h-1.1zM201.1 380.6h1.1v1.1h-1.1zM169.4 428.0h1.1v1.1h-1.1zM170.0 438.9h1.1v1.1h-1.1zM252.8 374.9h1.1v1.1h-1.1zM160.7 425.3h1.1v1.1h-1.1zM208.3 405.4h1.1v1.1h-1.1zM232.2 391.0h1.1v1.1h-1.1zM174.7 401.5h1.1v1.1h-1.1zM183.7 389.3h1.1v1.1h-1.1zM163.2 432.7h1.1v1.1h-1.1zM174.6 426.7h1.1v1.1h-1.1zM234.5 385.8h1.1v1.1h-1.1zM252.8 370.9h1.1v1.1h-1.1zM181.7 413.8h1.1v1.1h-1.1zM231.5 387.6h1.1v1.1h-1.1zM240.8 383.0h1.1v1.1h-1.1zM240.5 385.3h1.1v1.1h-1.1zM168.1 428.1h1.1v1.1h-1.1zM256.2 375.5h1.1v1.1h-1.1zM177.7 400.1h1.1v1.1h-1.1zM165.7 423.8h1.1v1.1h-1.1zM163.7 429.4h1.1v1.1h-1.1zM156.7 439.2h1.1v1.1h-1.1zM160.9 426.4h1.1v1.1h-1.1zM242.9 371.3h1.1v1.1h-1.1zM209.0 396.2h1.1v1.1h-1.1zM256.0 352.1h1.1v1.1h-1.1zM187.6 406.7h1.1v1.1h-1.1zM167.9 424.9h1.1v1.1h-1.1zM231.3 358.9h1.1v1.1h-1.1zM206.2 393.3h1.1v1.1h-1.1zM157.9 415.2h1.1v1.1h-1.1zM160.2 417.2h1.1v1.1h-1.1zM152.7 432.6h1.1v1.1h-1.1zM172.9 404.3h1.1v1.1h-1.1zM155.6 429.4h1.1v1.1h-1.1zM150.1 420.5h1.1v1.1h-1.1zM156.8 428.9h1.1v1.1h-1.1zM171.3 409.3h1.1v1.1h-1.1zM154.5 430.4h1.1v1.1h-1.1zM155.4 430.2h1.1v1.1h-1.1zM159.1 414.2h1.1v1.1h-1.1zM155.5 421.8h1.1v1.1h-1.1zM173.7 404.5h1.1v1.1h-1.1zM167.6 411.8h1.1v1.1h-1.1zM151.8 417.0h1.1v1.1h-1.1zM162.1 417.9h1.1v1.1h-1.1zM153.7 421.7h1.1v1.1h-1.1zM167.8 405.2h1.1v1.1h-1.1zM155.7 426.6h1.1v1.1h-1.1zM168.5 413.6h1.1v1.1h-1.1zM160.5 413.7h1.1v1.1h-1.1zM170.7 409.7h1.1v1.1h-1.1z" fill="rgb(180,100,50)" fill-opacity="0.62"/>
<polyline points="149.40,440.40 154.40,440.00 158.00,435.50 162.50,430.10 167.00,425.60 171.50,421.10 174.00,419.50 179.50,412.50 185.00,406.50 190.40,403.20 195.90,399.90 201.40,396.50 206.00,393.50 209.70,390.50 217.50,386.00 225.20,381.40 232.90,376.80 240.70,371.80 248.40,368.20 261.40,365.50" fill="none" stroke="rgb(170,90,40)" stroke-width="1.0" stroke-linejoin="round"/>
<polyline points="149.40,439.50 150.80,438.20 154.40,437.30 158.00,434.60 162.50,430.10 167.00,425.60 171.50,422.00 176.00,418.40 179.50,414.20 185.00,410.90 190.40,408.20 195.90,405.40 201.40,402.50 206.00,400.00 209.70,396.90 217.50,393.00 225.20,389.10 232.90,385.30 240.70,381.40 248.40,379.10 261.40,375.80" fill="none" stroke="rgb(40,140,90)" stroke-width="1.0" stroke-linejoin="round"/>
</g>
<line x1="196.33" y1="322.50" x2="196.33" y2="440.50" stroke="#111" stroke-width="0.9" stroke-dasharray="1.8,1.3"/>
<rect x="149.40" y="322.50" width="112.0" height="118.0" fill="none" stroke="#7a7a7a" stroke-width="0.9"/>
<path d="M149.40 440.50v2.2M185.50 440.50v2.2M221.60 440.50v2.2M257.70 440.50v2.2M149.40 440.50h-2.2M149.40 419.50h-2.2M149.40 398.50h-2.2M149.40 377.50h-2.2M149.40 356.50h-2.2M149.40 335.50h-2.2" stroke="#555" stroke-width="0.7" fill="none"/>
<text x="259.40" y="330.10" font-size="9" font-weight="bold" fill="#000" text-anchor="end" stroke="#000" stroke-width="0.12">i</text>
<clipPath id="cj"><rect x="278.20" y="322.50" width="112.0" height="118.0"/></clipPath>
<g clip-path="url(#cj)">
<polygon points="278.20,438.00 279.00,424.90 281.00,418.90 283.00,412.90 285.00,407.90 287.00,403.90 290.00,399.00 293.00,395.00 296.00,390.00 301.20,381.00 308.90,369.50 312.80,363.00 320.00,353.00 331.00,342.90 338.70,335.90 346.50,329.70 354.20,324.30 357.30,321.00 390.20,321.00 390.20,366.80 377.40,369.50 369.70,373.50 361.90,377.50 346.50,387.00 331.00,397.00 324.40,403.00 316.70,408.40 308.90,416.10 301.90,423.00 296.90,427.00 292.00,431.00 287.00,435.30 281.00,439.80 278.20,440.40" fill="rgb(40,140,90)" fill-opacity="0.26"/>
<polygon points="278.20,440.00 280.30,434.70 285.70,420.80 293.50,408.40 301.20,396.00 308.90,382.10 316.70,371.30 324.40,365.00 331.00,360.00 338.70,350.00 346.50,339.00 354.20,330.50 361.90,323.50 365.00,321.00 390.20,321.00 390.20,361.00 377.40,366.50 369.70,373.00 361.90,379.20 354.20,383.90 346.50,388.50 338.70,394.70 331.00,398.50 324.40,405.00 316.70,411.00 308.90,418.00 305.00,421.50 301.90,423.90 296.90,427.90 292.00,431.80 287.00,435.80 281.00,439.80 278.20,440.40" fill="rgb(170,90,40)" fill-opacity="0.26"/>
<path d="M375.1 365.6h1.1v1.1h-1.1zM309.5 365.0h1.1v1.1h-1.1zM311.9 380.6h1.1v1.1h-1.1zM292.1 403.1h1.1v1.1h-1.1zM313.7 377.7h1.1v1.1h-1.1zM326.0 355.8h1.1v1.1h-1.1zM380.2 332.8h1.1v1.1h-1.1zM385.0 298.9h1.1v1.1h-1.1zM333.4 373.9h1.1v1.1h-1.1zM344.9 406.6h1.1v1.1h-1.1zM375.3 377.1h1.1v1.1h-1.1zM386.9 338.9h1.1v1.1h-1.1zM331.0 392.7h1.1v1.1h-1.1zM345.1 348.9h1.1v1.1h-1.1zM385.4 363.4h1.1v1.1h-1.1zM381.5 342.4h1.1v1.1h-1.1zM307.1 404.0h1.1v1.1h-1.1zM290.0 404.6h1.1v1.1h-1.1zM373.8 329.8h1.1v1.1h-1.1zM339.9 392.7h1.1v1.1h-1.1zM373.8 358.1h1.1v1.1h-1.1zM340.1 329.5h1.1v1.1h-1.1zM348.7 327.8h1.1v1.1h-1.1zM387.0 328.6h1.1v1.1h-1.1zM301.9 433.5h1.1v1.1h-1.1zM365.2 326.2h1.1v1.1h-1.1zM373.6 355.6h1.1v1.1h-1.1zM302.3 366.7h1.1v1.1h-1.1zM289.3 410.4h1.1v1.1h-1.1zM353.8 339.5h1.1v1.1h-1.1zM304.9 398.0h1.1v1.1h-1.1zM329.0 390.6h1.1v1.1h-1.1zM327.2 417.4h1.1v1.1h-1.1zM361.0 319.1h1.1v1.1h-1.1zM282.6 430.4h1.1v1.1h-1.1zM359.7 393.1h1.1v1.1h-1.1zM313.6 396.7h1.1v1.1h-1.1zM312.4 379.6h1.1v1.1h-1.1zM300.8 403.3h1.1v1.1h-1.1zM363.0 340.6h1.1v1.1h-1.1zM379.8 317.6h1.1v1.1h-1.1zM313.6 381.9h1.1v1.1h-1.1zM351.6 373.5h1.1v1.1h-1.1zM327.1 333.9h1.1v1.1h-1.1zM327.6 331.0h1.1v1.1h-1.1zM324.8 372.7h1.1v1.1h-1.1zM338.3 363.0h1.1v1.1h-1.1zM375.1 339.7h1.1v1.1h-1.1zM356.4 331.0h1.1v1.1h-1.1zM359.0 338.0h1.1v1.1h-1.1zM285.1 439.5h1.1v1.1h-1.1zM343.6 321.0h1.1v1.1h-1.1zM342.2 384.8h1.1v1.1h-1.1zM337.8 396.6h1.1v1.1h-1.1zM287.5 438.0h1.1v1.1h-1.1zM387.2 358.8h1.1v1.1h-1.1zM321.9 403.8h1.1v1.1h-1.1zM306.1 404.2h1.1v1.1h-1.1zM349.3 357.9h1.1v1.1h-1.1zM387.2 338.0h1.1v1.1h-1.1zM311.9 376.3h1.1v1.1h-1.1zM298.4 439.5h1.1v1.1h-1.1zM325.8 362.7h1.1v1.1h-1.1zM310.6 439.5h1.1v1.1h-1.1zM284.1 419.4h1.1v1.1h-1.1zM328.2 403.9h1.1v1.1h-1.1zM303.4 414.6h1.1v1.1h-1.1zM312.1 382.4h1.1v1.1h-1.1zM281.8 429.6h1.1v1.1h-1.1zM316.5 432.0h1.1v1.1h-1.1zM296.0 412.2h1.1v1.1h-1.1zM296.4 439.5h1.1v1.1h-1.1zM300.6 420.0h1.1v1.1h-1.1zM337.8 406.2h1.1v1.1h-1.1zM289.4 435.9h1.1v1.1h-1.1zM326.2 364.6h1.1v1.1h-1.1zM295.4 406.7h1.1v1.1h-1.1zM370.9 368.1h1.1v1.1h-1.1zM311.1 385.1h1.1v1.1h-1.1zM338.6 386.0h1.1v1.1h-1.1zM325.8 383.1h1.1v1.1h-1.1zM327.7 358.9h1.1v1.1h-1.1zM368.8 371.5h1.1v1.1h-1.1zM356.4 330.2h1.1v1.1h-1.1zM318.0 370.0h1.1v1.1h-1.1zM365.9 398.2h1.1v1.1h-1.1zM373.5 335.2h1.1v1.1h-1.1zM306.4 404.4h1.1v1.1h-1.1zM369.3 382.5h1.1v1.1h-1.1zM311.7 417.0h1.1v1.1h-1.1zM288.0 439.5h1.1v1.1h-1.1zM306.8 419.7h1.1v1.1h-1.1zM343.8 330.2h1.1v1.1h-1.1zM328.8 411.0h1.1v1.1h-1.1zM374.5 326.0h1.1v1.1h-1.1zM386.9 371.6h1.1v1.1h-1.1zM293.9 424.7h1.1v1.1h-1.1zM305.8 384.0h1.1v1.1h-1.1zM290.5 437.8h1.1v1.1h-1.1zM280.0 425.8h1.1v1.1h-1.1zM323.0 322.6h1.1v1.1h-1.1zM296.5 388.3h1.1v1.1h-1.1zM305.8 439.5h1.1v1.1h-1.1zM354.2 364.7h1.1v1.1h-1.1zM380.8 376.0h1.1v1.1h-1.1zM371.3 346.9h1.1v1.1h-1.1zM370.6 345.1h1.1v1.1h-1.1zM380.4 375.3h1.1v1.1h-1.1zM329.7 379.2h1.1v1.1h-1.1zM293.7 410.2h1.1v1.1h-1.1zM387.2 393.8h1.1v1.1h-1.1zM315.5 387.9h1.1v1.1h-1.1zM388.8 332.8h1.1v1.1h-1.1zM371.3 326.3h1.1v1.1h-1.1zM304.6 394.3h1.1v1.1h-1.1zM279.5 438.3h1.1v1.1h-1.1zM324.6 411.0h1.1v1.1h-1.1zM300.4 403.9h1.1v1.1h-1.1zM302.0 394.4h1.1v1.1h-1.1zM365.4 338.8h1.1v1.1h-1.1zM356.0 359.3h1.1v1.1h-1.1zM364.3 312.0h1.1v1.1h-1.1zM346.7 325.7h1.1v1.1h-1.1zM338.2 331.8h1.1v1.1h-1.1zM349.4 372.4h1.1v1.1h-1.1zM353.7 348.2h1.1v1.1h-1.1zM389.1 391.8h1.1v1.1h-1.1zM349.0 408.7h1.1v1.1h-1.1zM355.3 366.7h1.1v1.1h-1.1zM320.1 373.8h1.1v1.1h-1.1zM342.0 393.5h1.1v1.1h-1.1zM300.5 395.8h1.1v1.1h-1.1zM366.6 354.3h1.1v1.1h-1.1zM313.8 439.5h1.1v1.1h-1.1zM389.2 368.7h1.1v1.1h-1.1zM316.5 373.3h1.1v1.1h-1.1zM293.6 427.0h1.1v1.1h-1.1zM337.0 371.7h1.1v1.1h-1.1zM372.8 396.7h1.1v1.1h-1.1zM288.2 435.7h1.1v1.1h-1.1zM343.6 374.5h1.1v1.1h-1.1zM320.3 389.7h1.1v1.1h-1.1zM314.7 366.4h1.1v1.1h-1.1zM372.9 324.1h1.1v1.1h-1.1zM281.3 430.1h1.1v1.1h-1.1zM339.4 398.7h1.1v1.1h-1.1zM373.1 360.1h1.1v1.1h-1.1zM373.0 321.3h1.1v1.1h-1.1zM383.7 330.8h1.1v1.1h-1.1zM318.9 363.4h1.1v1.1h-1.1zM294.8 392.7h1.1v1.1h-1.1zM294.6 412.3h1.1v1.1h-1.1zM330.7 297.6h1.1v1.1h-1.1zM318.7 404.2h1.1v1.1h-1.1zM285.1 439.5h1.1v1.1h-1.1zM368.8 358.8h1.1v1.1h-1.1zM289.9 413.5h1.1v1.1h-1.1zM303.9 413.8h1.1v1.1h-1.1zM286.3 430.2h1.1v1.1h-1.1zM296.9 439.5h1.1v1.1h-1.1zM335.6 342.0h1.1v1.1h-1.1zM333.5 399.8h1.1v1.1h-1.1zM278.9 439.5h1.1v1.1h-1.1zM312.7 412.4h1.1v1.1h-1.1zM313.3 368.0h1.1v1.1h-1.1zM341.9 381.9h1.1v1.1h-1.1zM289.3 425.5h1.1v1.1h-1.1zM379.0 392.6h1.1v1.1h-1.1zM387.3 363.6h1.1v1.1h-1.1zM316.1 439.5h1.1v1.1h-1.1zM293.5 418.1h1.1v1.1h-1.1zM345.4 297.8h1.1v1.1h-1.1zM308.8 412.2h1.1v1.1h-1.1zM291.4 439.5h1.1v1.1h-1.1zM320.7 391.2h1.1v1.1h-1.1zM381.0 327.9h1.1v1.1h-1.1zM311.8 401.2h1.1v1.1h-1.1zM281.2 432.2h1.1v1.1h-1.1zM362.2 353.1h1.1v1.1h-1.1zM323.2 384.7h1.1v1.1h-1.1zM286.0 437.6h1.1v1.1h-1.1zM375.8 365.9h1.1v1.1h-1.1zM330.2 402.8h1.1v1.1h-1.1zM291.6 412.4h1.1v1.1h-1.1zM316.0 377.5h1.1v1.1h-1.1zM358.9 364.6h1.1v1.1h-1.1zM285.8 431.2h1.1v1.1h-1.1zM350.3 363.2h1.1v1.1h-1.1zM306.3 383.3h1.1v1.1h-1.1zM320.5 411.7h1.1v1.1h-1.1zM315.8 370.9h1.1v1.1h-1.1zM344.2 390.3h1.1v1.1h-1.1zM333.8 382.8h1.1v1.1h-1.1zM389.1 353.4h1.1v1.1h-1.1zM309.0 398.2h1.1v1.1h-1.1zM310.2 358.6h1.1v1.1h-1.1zM279.5 439.5h1.1v1.1h-1.1zM318.9 378.1h1.1v1.1h-1.1zM379.5 325.0h1.1v1.1h-1.1zM380.9 300.1h1.1v1.1h-1.1zM326.0 413.4h1.1v1.1h-1.1zM283.3 428.3h1.1v1.1h-1.1zM386.5 319.5h1.1v1.1h-1.1zM317.6 385.7h1.1v1.1h-1.1zM330.6 350.4h1.1v1.1h-1.1zM320.5 373.6h1.1v1.1h-1.1zM373.4 333.8h1.1v1.1h-1.1zM304.5 420.7h1.1v1.1h-1.1zM357.9 332.3h1.1v1.1h-1.1zM301.0 393.8h1.1v1.1h-1.1zM284.2 416.1h1.1v1.1h-1.1zM336.3 348.4h1.1v1.1h-1.1zM312.4 430.9h1.1v1.1h-1.1zM386.1 345.5h1.1v1.1h-1.1zM356.5 385.0h1.1v1.1h-1.1zM286.1 419.4h1.1v1.1h-1.1zM284.6 425.6h1.1v1.1h-1.1zM375.5 412.1h1.1v1.1h-1.1zM281.7 439.5h1.1v1.1h-1.1zM369.8 370.8h1.1v1.1h-1.1zM285.8 430.4h1.1v1.1h-1.1zM361.9 365.9h1.1v1.1h-1.1zM284.2 439.5h1.1v1.1h-1.1zM335.7 439.5h1.1v1.1h-1.1zM289.1 413.8h1.1v1.1h-1.1zM338.3 353.7h1.1v1.1h-1.1zM300.7 405.6h1.1v1.1h-1.1zM366.8 357.0h1.1v1.1h-1.1zM346.6 329.7h1.1v1.1h-1.1zM296.9 373.6h1.1v1.1h-1.1zM306.9 417.7h1.1v1.1h-1.1zM312.5 398.9h1.1v1.1h-1.1zM287.4 403.3h1.1v1.1h-1.1zM286.9 421.8h1.1v1.1h-1.1zM320.6 393.9h1.1v1.1h-1.1zM373.7 311.0h1.1v1.1h-1.1zM345.8 362.5h1.1v1.1h-1.1zM305.5 439.5h1.1v1.1h-1.1zM353.4 422.1h1.1v1.1h-1.1zM351.1 367.6h1.1v1.1h-1.1zM337.6 400.2h1.1v1.1h-1.1zM381.7 330.4h1.1v1.1h-1.1zM307.2 402.9h1.1v1.1h-1.1zM350.4 386.6h1.1v1.1h-1.1zM297.6 425.1h1.1v1.1h-1.1zM374.2 345.5h1.1v1.1h-1.1zM309.4 394.2h1.1v1.1h-1.1zM288.1 410.8h1.1v1.1h-1.1zM325.5 358.8h1.1v1.1h-1.1zM344.7 439.5h1.1v1.1h-1.1zM290.6 385.9h1.1v1.1h-1.1zM319.8 387.3h1.1v1.1h-1.1zM307.1 432.3h1.1v1.1h-1.1zM307.1 387.6h1.1v1.1h-1.1zM379.5 323.6h1.1v1.1h-1.1zM278.6 437.7h1.1v1.1h-1.1zM379.4 399.1h1.1v1.1h-1.1zM309.9 371.8h1.1v1.1h-1.1zM321.9 366.7h1.1v1.1h-1.1zM336.9 317.8h1.1v1.1h-1.1zM308.9 356.7h1.1v1.1h-1.1zM294.7 336.8h1.1v1.1h-1.1zM336.5 335.9h1.1v1.1h-1.1zM315.1 342.3h1.1v1.1h-1.1zM318.4 345.1h1.1v1.1h-1.1zM291.5 358.2h1.1v1.1h-1.1zM282.0 409.5h1.1v1.1h-1.1zM294.9 359.6h1.1v1.1h-1.1zM337.0 334.0h1.1v1.1h-1.1zM304.0 333.0h1.1v1.1h-1.1zM320.8 350.9h1.1v1.1h-1.1zM313.1 340.6h1.1v1.1h-1.1zM328.1 336.9h1.1v1.1h-1.1zM327.3 341.9h1.1v1.1h-1.1zM281.5 413.3h1.1v1.1h-1.1zM331.2 338.2h1.1v1.1h-1.1zM299.3 370.6h1.1v1.1h-1.1zM301.3 371.4h1.1v1.1h-1.1zM318.2 334.8h1.1v1.1h-1.1zM331.3 338.1h1.1v1.1h-1.1zM299.2 338.6h1.1v1.1h-1.1zM289.9 337.1h1.1v1.1h-1.1zM303.3 338.0h1.1v1.1h-1.1zM300.3 375.9h1.1v1.1h-1.1zM296.3 389.2h1.1v1.1h-1.1zM294.9 391.6h1.1v1.1h-1.1zM331.8 333.6h1.1v1.1h-1.1zM308.8 367.0h1.1v1.1h-1.1zM287.2 364.4h1.1v1.1h-1.1zM330.8 336.3h1.1v1.1h-1.1zM307.5 339.1h1.1v1.1h-1.1zM309.5 332.6h1.1v1.1h-1.1zM296.6 349.9h1.1v1.1h-1.1zM341.0 332.5h1.1v1.1h-1.1zM297.1 387.4h1.1v1.1h-1.1zM330.0 340.6h1.1v1.1h-1.1zM306.9 352.5h1.1v1.1h-1.1zM293.3 374.0h1.1v1.1h-1.1zM282.4 335.4h1.1v1.1h-1.1zM301.7 363.7h1.1v1.1h-1.1zM324.1 337.5h1.1v1.1h-1.1zM295.8 348.1h1.1v1.1h-1.1zM292.7 381.8h1.1v1.1h-1.1zM306.2 334.5h1.1v1.1h-1.1zM317.2 354.5h1.1v1.1h-1.1zM322.4 338.0h1.1v1.1h-1.1zM340.1 333.3h1.1v1.1h-1.1zM331.6 331.4h1.1v1.1h-1.1zM298.4 334.7h1.1v1.1h-1.1zM280.6 415.0h1.1v1.1h-1.1zM284.5 386.0h1.1v1.1h-1.1zM315.6 358.3h1.1v1.1h-1.1zM305.3 355.5h1.1v1.1h-1.1zM327.0 333.3h1.1v1.1h-1.1zM304.3 373.7h1.1v1.1h-1.1zM290.2 340.8h1.1v1.1h-1.1zM314.0 360.4h1.1v1.1h-1.1zM337.9 336.5h1.1v1.1h-1.1zM316.8 350.1h1.1v1.1h-1.1zM304.5 353.7h1.1v1.1h-1.1zM312.5 351.1h1.1v1.1h-1.1zM281.6 395.9h1.1v1.1h-1.1zM332.7 338.4h1.1v1.1h-1.1zM285.2 357.9h1.1v1.1h-1.1zM340.8 333.8h1.1v1.1h-1.1zM302.8 338.4h1.1v1.1h-1.1zM299.1 361.8h1.1v1.1h-1.1zM288.5 381.1h1.1v1.1h-1.1zM336.7 333.0h1.1v1.1h-1.1zM317.5 335.7h1.1v1.1h-1.1zM314.1 357.7h1.1v1.1h-1.1zM291.1 391.6h1.1v1.1h-1.1zM313.4 360.6h1.1v1.1h-1.1zM292.9 394.8h1.1v1.1h-1.1zM308.0 351.4h1.1v1.1h-1.1zM309.4 367.1h1.1v1.1h-1.1zM279.0 346.6h1.1v1.1h-1.1zM284.4 373.0h1.1v1.1h-1.1zM336.0 337.1h1.1v1.1h-1.1zM288.0 330.8h1.1v1.1h-1.1zM314.6 335.6h1.1v1.1h-1.1zM284.6 408.1h1.1v1.1h-1.1zM291.7 350.0h1.1v1.1h-1.1zM335.6 336.2h1.1v1.1h-1.1zM334.0 334.9h1.1v1.1h-1.1zM288.1 390.1h1.1v1.1h-1.1zM336.0 333.2h1.1v1.1h-1.1zM280.5 373.7h1.1v1.1h-1.1zM317.7 347.7h1.1v1.1h-1.1zM339.6 333.9h1.1v1.1h-1.1zM296.3 354.2h1.1v1.1h-1.1zM283.3 404.4h1.1v1.1h-1.1zM329.7 343.7h1.1v1.1h-1.1zM318.2 351.0h1.1v1.1h-1.1zM294.0 332.5h1.1v1.1h-1.1z" fill="rgb(55,145,100)" fill-opacity="0.62"/>
<path d="M349.6 375.4h1.1v1.1h-1.1zM367.4 388.1h1.1v1.1h-1.1zM292.9 415.4h1.1v1.1h-1.1zM320.2 412.2h1.1v1.1h-1.1zM366.3 330.5h1.1v1.1h-1.1zM297.1 435.7h1.1v1.1h-1.1zM347.0 388.6h1.1v1.1h-1.1zM279.7 438.7h1.1v1.1h-1.1zM382.1 335.7h1.1v1.1h-1.1zM314.9 424.6h1.1v1.1h-1.1zM331.9 366.2h1.1v1.1h-1.1zM305.9 386.0h1.1v1.1h-1.1zM304.5 400.1h1.1v1.1h-1.1zM346.1 368.7h1.1v1.1h-1.1zM384.6 322.7h1.1v1.1h-1.1zM335.1 377.9h1.1v1.1h-1.1zM318.5 376.9h1.1v1.1h-1.1zM341.1 376.8h1.1v1.1h-1.1zM298.5 408.6h1.1v1.1h-1.1zM324.9 420.4h1.1v1.1h-1.1zM303.7 426.5h1.1v1.1h-1.1zM380.5 329.9h1.1v1.1h-1.1zM348.2 393.1h1.1v1.1h-1.1zM283.9 435.6h1.1v1.1h-1.1zM333.3 415.0h1.1v1.1h-1.1zM306.2 427.2h1.1v1.1h-1.1zM381.2 390.5h1.1v1.1h-1.1zM372.2 315.7h1.1v1.1h-1.1zM353.7 342.0h1.1v1.1h-1.1zM340.6 356.2h1.1v1.1h-1.1zM359.0 439.5h1.1v1.1h-1.1zM387.9 325.1h1.1v1.1h-1.1zM347.3 359.6h1.1v1.1h-1.1zM283.2 433.0h1.1v1.1h-1.1zM366.4 336.8h1.1v1.1h-1.1zM333.0 391.0h1.1v1.1h-1.1zM289.1 417.0h1.1v1.1h-1.1zM369.5 320.2h1.1v1.1h-1.1zM317.2 391.4h1.1v1.1h-1.1zM312.7 383.0h1.1v1.1h-1.1zM306.5 396.1h1.1v1.1h-1.1zM365.9 318.3h1.1v1.1h-1.1zM283.6 432.5h1.1v1.1h-1.1zM373.0 316.8h1.1v1.1h-1.1zM299.1 396.8h1.1v1.1h-1.1zM336.9 379.6h1.1v1.1h-1.1zM278.8 438.5h1.1v1.1h-1.1zM356.5 320.4h1.1v1.1h-1.1zM348.0 332.6h1.1v1.1h-1.1zM296.5 411.3h1.1v1.1h-1.1zM362.8 319.5h1.1v1.1h-1.1zM282.7 431.9h1.1v1.1h-1.1zM298.6 405.2h1.1v1.1h-1.1zM381.6 368.7h1.1v1.1h-1.1zM308.8 425.1h1.1v1.1h-1.1zM301.8 405.5h1.1v1.1h-1.1zM355.7 352.5h1.1v1.1h-1.1zM309.7 379.5h1.1v1.1h-1.1zM334.6 400.8h1.1v1.1h-1.1zM337.5 345.0h1.1v1.1h-1.1zM294.4 432.5h1.1v1.1h-1.1zM281.5 433.9h1.1v1.1h-1.1zM300.1 403.1h1.1v1.1h-1.1zM362.5 354.8h1.1v1.1h-1.1zM299.8 416.4h1.1v1.1h-1.1zM307.0 383.3h1.1v1.1h-1.1zM372.2 349.7h1.1v1.1h-1.1zM323.7 387.3h1.1v1.1h-1.1zM346.4 349.1h1.1v1.1h-1.1zM350.2 383.6h1.1v1.1h-1.1zM316.6 389.9h1.1v1.1h-1.1zM350.2 347.2h1.1v1.1h-1.1zM363.7 427.6h1.1v1.1h-1.1zM380.3 331.9h1.1v1.1h-1.1zM333.2 381.5h1.1v1.1h-1.1zM320.8 367.7h1.1v1.1h-1.1zM326.4 391.4h1.1v1.1h-1.1zM376.2 336.5h1.1v1.1h-1.1zM373.7 393.4h1.1v1.1h-1.1zM304.4 397.1h1.1v1.1h-1.1zM325.4 366.4h1.1v1.1h-1.1zM325.8 404.6h1.1v1.1h-1.1zM326.9 382.0h1.1v1.1h-1.1zM280.8 439.5h1.1v1.1h-1.1zM286.0 425.9h1.1v1.1h-1.1zM371.6 377.6h1.1v1.1h-1.1zM356.9 350.4h1.1v1.1h-1.1zM301.8 430.5h1.1v1.1h-1.1zM375.5 364.5h1.1v1.1h-1.1zM319.9 397.3h1.1v1.1h-1.1zM345.4 361.1h1.1v1.1h-1.1zM311.8 395.5h1.1v1.1h-1.1zM282.9 432.8h1.1v1.1h-1.1zM288.9 439.5h1.1v1.1h-1.1zM311.8 418.6h1.1v1.1h-1.1zM373.4 348.5h1.1v1.1h-1.1zM296.0 432.2h1.1v1.1h-1.1zM370.2 352.9h1.1v1.1h-1.1zM372.5 382.5h1.1v1.1h-1.1zM333.3 351.1h1.1v1.1h-1.1zM296.9 407.3h1.1v1.1h-1.1zM367.5 344.8h1.1v1.1h-1.1zM307.0 380.9h1.1v1.1h-1.1zM372.3 313.1h1.1v1.1h-1.1zM297.5 405.6h1.1v1.1h-1.1zM283.7 437.1h1.1v1.1h-1.1zM350.4 365.7h1.1v1.1h-1.1zM366.3 365.6h1.1v1.1h-1.1zM314.5 376.7h1.1v1.1h-1.1zM336.2 353.3h1.1v1.1h-1.1zM311.1 380.9h1.1v1.1h-1.1zM326.4 390.8h1.1v1.1h-1.1zM345.2 386.3h1.1v1.1h-1.1zM388.6 324.0h1.1v1.1h-1.1zM378.8 327.5h1.1v1.1h-1.1zM293.8 439.5h1.1v1.1h-1.1zM288.6 430.0h1.1v1.1h-1.1zM366.3 386.6h1.1v1.1h-1.1zM297.6 429.6h1.1v1.1h-1.1zM388.7 372.6h1.1v1.1h-1.1zM382.6 369.9h1.1v1.1h-1.1zM366.9 344.5h1.1v1.1h-1.1zM288.0 418.8h1.1v1.1h-1.1zM358.6 383.5h1.1v1.1h-1.1zM315.8 416.7h1.1v1.1h-1.1zM291.8 418.2h1.1v1.1h-1.1zM322.2 406.7h1.1v1.1h-1.1zM340.2 381.8h1.1v1.1h-1.1zM318.3 401.8h1.1v1.1h-1.1zM310.1 434.8h1.1v1.1h-1.1zM354.1 394.4h1.1v1.1h-1.1zM342.2 380.7h1.1v1.1h-1.1zM381.1 397.1h1.1v1.1h-1.1zM387.4 386.2h1.1v1.1h-1.1zM300.7 404.9h1.1v1.1h-1.1zM338.8 409.7h1.1v1.1h-1.1zM306.2 436.4h1.1v1.1h-1.1zM317.6 399.0h1.1v1.1h-1.1zM282.9 427.5h1.1v1.1h-1.1zM337.8 345.2h1.1v1.1h-1.1zM307.5 400.0h1.1v1.1h-1.1zM284.0 429.1h1.1v1.1h-1.1zM285.3 428.1h1.1v1.1h-1.1zM351.0 349.3h1.1v1.1h-1.1zM321.6 400.1h1.1v1.1h-1.1zM377.7 353.3h1.1v1.1h-1.1zM344.7 437.5h1.1v1.1h-1.1zM341.2 397.4h1.1v1.1h-1.1zM360.5 339.5h1.1v1.1h-1.1zM282.6 428.1h1.1v1.1h-1.1zM306.0 439.5h1.1v1.1h-1.1zM299.0 439.5h1.1v1.1h-1.1zM347.1 321.7h1.1v1.1h-1.1zM340.9 388.3h1.1v1.1h-1.1zM345.2 393.9h1.1v1.1h-1.1zM320.7 412.2h1.1v1.1h-1.1zM312.8 369.9h1.1v1.1h-1.1zM280.2 438.4h1.1v1.1h-1.1zM307.4 397.0h1.1v1.1h-1.1zM317.5 397.1h1.1v1.1h-1.1zM290.0 439.1h1.1v1.1h-1.1zM381.5 315.2h1.1v1.1h-1.1zM381.2 323.6h1.1v1.1h-1.1zM307.8 424.8h1.1v1.1h-1.1zM312.0 365.3h1.1v1.1h-1.1zM369.9 329.0h1.1v1.1h-1.1zM279.0 439.5h1.1v1.1h-1.1zM365.4 357.0h1.1v1.1h-1.1zM324.8 337.8h1.1v1.1h-1.1zM346.7 359.2h1.1v1.1h-1.1zM280.1 438.8h1.1v1.1h-1.1zM378.9 376.5h1.1v1.1h-1.1zM342.2 355.8h1.1v1.1h-1.1zM320.0 420.8h1.1v1.1h-1.1zM369.6 357.3h1.1v1.1h-1.1zM365.1 349.5h1.1v1.1h-1.1zM380.1 352.9h1.1v1.1h-1.1zM332.2 368.9h1.1v1.1h-1.1zM325.3 370.9h1.1v1.1h-1.1zM312.9 394.1h1.1v1.1h-1.1zM360.7 343.5h1.1v1.1h-1.1zM331.6 376.2h1.1v1.1h-1.1zM345.2 387.2h1.1v1.1h-1.1zM305.1 418.6h1.1v1.1h-1.1zM303.8 398.7h1.1v1.1h-1.1zM342.1 359.1h1.1v1.1h-1.1zM310.0 412.0h1.1v1.1h-1.1zM331.4 363.1h1.1v1.1h-1.1zM301.9 432.0h1.1v1.1h-1.1zM351.9 380.7h1.1v1.1h-1.1zM309.5 396.8h1.1v1.1h-1.1zM366.2 363.3h1.1v1.1h-1.1zM361.3 381.9h1.1v1.1h-1.1zM344.1 430.6h1.1v1.1h-1.1zM373.3 314.0h1.1v1.1h-1.1zM301.5 420.7h1.1v1.1h-1.1zM381.5 344.7h1.1v1.1h-1.1zM324.0 372.3h1.1v1.1h-1.1zM373.6 378.2h1.1v1.1h-1.1zM336.9 397.9h1.1v1.1h-1.1zM307.0 415.0h1.1v1.1h-1.1zM280.8 439.5h1.1v1.1h-1.1zM321.2 392.8h1.1v1.1h-1.1zM317.0 399.0h1.1v1.1h-1.1zM281.1 434.0h1.1v1.1h-1.1zM316.6 406.9h1.1v1.1h-1.1zM369.9 439.5h1.1v1.1h-1.1zM310.4 438.0h1.1v1.1h-1.1zM379.2 341.8h1.1v1.1h-1.1zM340.0 375.0h1.1v1.1h-1.1zM278.8 439.5h1.1v1.1h-1.1zM381.6 345.9h1.1v1.1h-1.1zM368.4 349.8h1.1v1.1h-1.1zM281.5 439.0h1.1v1.1h-1.1zM294.4 439.5h1.1v1.1h-1.1zM361.9 412.7h1.1v1.1h-1.1zM363.9 385.1h1.1v1.1h-1.1zM378.1 325.0h1.1v1.1h-1.1zM302.0 405.4h1.1v1.1h-1.1zM306.1 412.9h1.1v1.1h-1.1zM358.9 360.1h1.1v1.1h-1.1zM303.0 403.8h1.1v1.1h-1.1zM328.5 391.6h1.1v1.1h-1.1zM294.0 416.6h1.1v1.1h-1.1zM385.1 371.5h1.1v1.1h-1.1zM367.3 334.2h1.1v1.1h-1.1zM285.2 427.0h1.1v1.1h-1.1zM365.9 380.3h1.1v1.1h-1.1zM377.3 348.2h1.1v1.1h-1.1zM367.8 353.5h1.1v1.1h-1.1zM314.4 396.8h1.1v1.1h-1.1zM351.9 418.6h1.1v1.1h-1.1zM317.7 430.4h1.1v1.1h-1.1zM292.0 414.1h1.1v1.1h-1.1zM384.0 327.0h1.1v1.1h-1.1zM333.0 375.3h1.1v1.1h-1.1zM330.9 395.4h1.1v1.1h-1.1zM338.0 367.3h1.1v1.1h-1.1zM300.3 419.8h1.1v1.1h-1.1zM324.5 376.7h1.1v1.1h-1.1zM342.9 382.8h1.1v1.1h-1.1zM292.0 422.0h1.1v1.1h-1.1zM292.9 410.4h1.1v1.1h-1.1zM327.5 439.5h1.1v1.1h-1.1zM336.3 356.1h1.1v1.1h-1.1zM305.4 408.0h1.1v1.1h-1.1zM279.9 439.5h1.1v1.1h-1.1zM374.3 437.5h1.1v1.1h-1.1zM376.0 356.4h1.1v1.1h-1.1zM363.4 378.8h1.1v1.1h-1.1zM331.1 403.0h1.1v1.1h-1.1zM335.5 343.6h1.1v1.1h-1.1zM374.8 403.1h1.1v1.1h-1.1zM381.9 333.8h1.1v1.1h-1.1zM378.8 429.5h1.1v1.1h-1.1zM374.5 356.5h1.1v1.1h-1.1zM364.2 370.9h1.1v1.1h-1.1zM283.8 439.5h1.1v1.1h-1.1zM307.9 395.8h1.1v1.1h-1.1zM347.4 363.4h1.1v1.1h-1.1zM292.9 390.9h1.1v1.1h-1.1zM295.9 404.5h1.1v1.1h-1.1zM286.2 393.4h1.1v1.1h-1.1zM299.7 396.0h1.1v1.1h-1.1zM281.7 417.5h1.1v1.1h-1.1zM301.0 389.9h1.1v1.1h-1.1zM281.8 430.8h1.1v1.1h-1.1zM301.0 394.7h1.1v1.1h-1.1zM290.3 413.5h1.1v1.1h-1.1zM303.9 391.0h1.1v1.1h-1.1zM288.0 409.3h1.1v1.1h-1.1zM280.4 427.7h1.1v1.1h-1.1zM283.8 425.3h1.1v1.1h-1.1zM285.6 411.3h1.1v1.1h-1.1zM286.4 417.5h1.1v1.1h-1.1zM293.0 405.1h1.1v1.1h-1.1zM279.1 433.1h1.1v1.1h-1.1zM291.8 404.4h1.1v1.1h-1.1zM288.7 407.0h1.1v1.1h-1.1zM305.0 388.1h1.1v1.1h-1.1zM282.0 403.0h1.1v1.1h-1.1zM285.9 416.7h1.1v1.1h-1.1zM300.6 393.4h1.1v1.1h-1.1zM303.1 388.4h1.1v1.1h-1.1zM296.3 392.6h1.1v1.1h-1.1z" fill="rgb(180,100,50)" fill-opacity="0.62"/>
<polyline points="278.20,440.40 280.30,437.80 285.70,426.90 293.50,417.70 301.20,406.80 308.90,397.60 316.70,392.90 324.40,387.50 331.00,382.30 338.70,374.60 346.50,366.80 354.20,360.70 361.90,352.90 369.70,343.60 377.40,339.00 390.20,335.00" fill="none" stroke="rgb(170,90,40)" stroke-width="1.0" stroke-linejoin="round"/>
<polyline points="278.20,440.40 279.50,436.20 285.70,423.90 293.50,413.00 301.20,402.20 308.90,392.90 316.70,386.70 324.40,380.60 331.00,376.10 338.70,368.40 346.50,362.20 354.20,357.60 361.90,351.40 369.70,345.20 377.40,339.80 390.20,335.70" fill="none" stroke="rgb(40,140,90)" stroke-width="1.0" stroke-linejoin="round"/>
</g>
<line x1="325.13" y1="322.50" x2="325.13" y2="440.50" stroke="#111" stroke-width="0.9" stroke-dasharray="1.8,1.3"/>
<rect x="278.20" y="322.50" width="112.0" height="118.0" fill="none" stroke="#7a7a7a" stroke-width="0.9"/>
<path d="M278.20 440.50v2.2M314.30 440.50v2.2M350.40 440.50v2.2M386.50 440.50v2.2" stroke="#555" stroke-width="0.7" fill="none"/>
<text x="388.20" y="330.10" font-size="9" font-weight="bold" fill="#000" text-anchor="end" stroke="#000" stroke-width="0.12">j</text>
<clipPath id="ck"><rect x="407.30" y="322.50" width="112.0" height="118.0"/></clipPath>
<g clip-path="url(#ck)">
<polygon points="407.30,439.00 420.00,438.50 433.00,437.50 440.00,436.10 451.90,433.70 463.90,430.10 475.80,426.60 487.80,423.00 499.70,420.60 511.60,418.20 519.30,417.00 519.30,440.60 407.30,440.60" fill="rgb(40,140,90)" fill-opacity="0.26"/>
<polygon points="407.30,440.40 425.00,439.50 433.20,436.40 442.60,430.50 451.90,427.80 463.90,423.00 475.80,417.00 487.80,411.00 499.70,405.70 511.60,401.50 519.30,399.70 519.30,440.60 407.30,440.60" fill="rgb(170,90,40)" fill-opacity="0.26"/>
<path d="M486.8 434.8h1.1v1.1h-1.1zM499.1 439.5h1.1v1.1h-1.1zM428.5 439.5h1.1v1.1h-1.1zM448.1 439.5h1.1v1.1h-1.1zM490.8 431.4h1.1v1.1h-1.1zM461.5 434.9h1.1v1.1h-1.1zM415.9 438.4h1.1v1.1h-1.1zM498.4 439.5h1.1v1.1h-1.1zM489.8 430.7h1.1v1.1h-1.1zM456.9 436.4h1.1v1.1h-1.1zM475.5 439.5h1.1v1.1h-1.1zM423.4 438.8h1.1v1.1h-1.1zM434.9 439.5h1.1v1.1h-1.1zM422.2 437.6h1.1v1.1h-1.1zM422.3 438.0h1.1v1.1h-1.1zM513.8 439.5h1.1v1.1h-1.1zM458.1 439.5h1.1v1.1h-1.1zM465.9 431.3h1.1v1.1h-1.1zM482.1 439.5h1.1v1.1h-1.1zM473.7 439.5h1.1v1.1h-1.1zM418.1 439.5h1.1v1.1h-1.1zM488.8 437.6h1.1v1.1h-1.1zM499.3 431.1h1.1v1.1h-1.1zM420.3 437.6h1.1v1.1h-1.1zM440.3 439.5h1.1v1.1h-1.1zM489.5 438.7h1.1v1.1h-1.1zM418.9 437.6h1.1v1.1h-1.1zM459.0 439.5h1.1v1.1h-1.1zM438.1 433.7h1.1v1.1h-1.1zM439.5 437.2h1.1v1.1h-1.1zM475.0 432.1h1.1v1.1h-1.1zM466.4 437.3h1.1v1.1h-1.1zM502.1 438.8h1.1v1.1h-1.1zM499.7 417.3h1.1v1.1h-1.1zM492.7 429.0h1.1v1.1h-1.1zM469.4 436.2h1.1v1.1h-1.1zM453.8 434.9h1.1v1.1h-1.1zM481.8 434.0h1.1v1.1h-1.1zM492.3 439.5h1.1v1.1h-1.1zM506.6 436.7h1.1v1.1h-1.1zM413.9 438.5h1.1v1.1h-1.1zM460.7 439.3h1.1v1.1h-1.1zM501.4 417.0h1.1v1.1h-1.1zM494.0 421.0h1.1v1.1h-1.1zM500.9 439.5h1.1v1.1h-1.1zM440.8 433.8h1.1v1.1h-1.1zM417.1 439.5h1.1v1.1h-1.1zM506.2 438.9h1.1v1.1h-1.1zM410.7 439.3h1.1v1.1h-1.1zM468.1 438.0h1.1v1.1h-1.1zM481.2 429.1h1.1v1.1h-1.1zM431.6 439.5h1.1v1.1h-1.1zM516.5 407.5h1.1v1.1h-1.1zM494.0 425.7h1.1v1.1h-1.1zM508.7 439.5h1.1v1.1h-1.1zM417.6 439.0h1.1v1.1h-1.1zM509.3 437.1h1.1v1.1h-1.1zM477.2 432.5h1.1v1.1h-1.1zM432.3 439.5h1.1v1.1h-1.1zM508.8 435.8h1.1v1.1h-1.1zM422.8 438.3h1.1v1.1h-1.1zM502.2 414.9h1.1v1.1h-1.1zM411.4 438.0h1.1v1.1h-1.1zM452.3 434.3h1.1v1.1h-1.1zM413.6 439.5h1.1v1.1h-1.1zM446.0 439.5h1.1v1.1h-1.1zM492.6 437.8h1.1v1.1h-1.1zM509.5 439.5h1.1v1.1h-1.1zM427.3 439.5h1.1v1.1h-1.1zM446.3 438.7h1.1v1.1h-1.1zM412.1 439.5h1.1v1.1h-1.1zM501.2 439.5h1.1v1.1h-1.1zM462.5 439.5h1.1v1.1h-1.1zM441.6 436.9h1.1v1.1h-1.1zM411.5 437.3h1.1v1.1h-1.1zM476.8 437.7h1.1v1.1h-1.1zM458.7 434.1h1.1v1.1h-1.1zM452.6 436.4h1.1v1.1h-1.1zM503.3 429.9h1.1v1.1h-1.1zM512.1 432.0h1.1v1.1h-1.1zM465.5 439.5h1.1v1.1h-1.1zM463.8 438.7h1.1v1.1h-1.1zM476.0 437.5h1.1v1.1h-1.1zM444.6 436.8h1.1v1.1h-1.1zM444.3 437.8h1.1v1.1h-1.1zM437.9 437.7h1.1v1.1h-1.1zM434.6 438.8h1.1v1.1h-1.1zM433.0 439.5h1.1v1.1h-1.1zM475.8 437.5h1.1v1.1h-1.1zM452.6 436.6h1.1v1.1h-1.1zM463.5 433.2h1.1v1.1h-1.1zM416.3 439.5h1.1v1.1h-1.1zM494.8 439.5h1.1v1.1h-1.1zM433.5 438.4h1.1v1.1h-1.1zM502.8 439.5h1.1v1.1h-1.1zM500.2 406.0h1.1v1.1h-1.1zM455.7 430.2h1.1v1.1h-1.1zM481.0 437.0h1.1v1.1h-1.1zM499.0 437.1h1.1v1.1h-1.1zM454.6 439.5h1.1v1.1h-1.1zM417.3 438.2h1.1v1.1h-1.1zM425.3 439.5h1.1v1.1h-1.1zM507.3 437.5h1.1v1.1h-1.1zM408.9 439.5h1.1v1.1h-1.1zM501.0 425.6h1.1v1.1h-1.1zM489.1 439.5h1.1v1.1h-1.1zM493.3 436.6h1.1v1.1h-1.1zM414.8 437.9h1.1v1.1h-1.1zM444.0 439.5h1.1v1.1h-1.1zM484.2 437.6h1.1v1.1h-1.1zM486.7 429.8h1.1v1.1h-1.1zM466.8 439.5h1.1v1.1h-1.1zM419.8 438.3h1.1v1.1h-1.1zM414.7 438.7h1.1v1.1h-1.1zM440.8 439.5h1.1v1.1h-1.1zM457.0 437.5h1.1v1.1h-1.1zM411.7 439.5h1.1v1.1h-1.1zM484.6 431.6h1.1v1.1h-1.1zM423.9 438.5h1.1v1.1h-1.1zM409.2 439.5h1.1v1.1h-1.1zM444.0 438.4h1.1v1.1h-1.1zM431.8 438.5h1.1v1.1h-1.1zM455.3 433.6h1.1v1.1h-1.1zM471.7 436.7h1.1v1.1h-1.1zM498.6 421.4h1.1v1.1h-1.1zM422.6 439.5h1.1v1.1h-1.1zM447.2 433.7h1.1v1.1h-1.1zM416.2 439.3h1.1v1.1h-1.1zM481.2 439.5h1.1v1.1h-1.1zM416.5 437.9h1.1v1.1h-1.1zM421.0 439.5h1.1v1.1h-1.1zM454.0 439.5h1.1v1.1h-1.1zM473.6 436.9h1.1v1.1h-1.1zM460.7 438.0h1.1v1.1h-1.1zM454.4 437.6h1.1v1.1h-1.1zM518.6 424.7h1.1v1.1h-1.1zM518.4 438.6h1.1v1.1h-1.1zM416.4 439.5h1.1v1.1h-1.1zM507.8 428.8h1.1v1.1h-1.1zM464.2 438.4h1.1v1.1h-1.1zM502.0 439.5h1.1v1.1h-1.1zM463.9 439.5h1.1v1.1h-1.1zM505.8 439.5h1.1v1.1h-1.1zM437.5 433.0h1.1v1.1h-1.1zM482.2 439.5h1.1v1.1h-1.1zM495.0 428.6h1.1v1.1h-1.1zM511.9 436.1h1.1v1.1h-1.1zM495.8 439.5h1.1v1.1h-1.1zM515.2 439.0h1.1v1.1h-1.1zM479.8 435.9h1.1v1.1h-1.1zM490.8 422.1h1.1v1.1h-1.1zM480.6 403.8h1.1v1.1h-1.1zM512.3 362.0h1.1v1.1h-1.1zM490.1 412.4h1.1v1.1h-1.1zM499.9 377.0h1.1v1.1h-1.1zM499.3 396.3h1.1v1.1h-1.1zM481.4 389.8h1.1v1.1h-1.1zM474.2 422.5h1.1v1.1h-1.1zM459.8 410.7h1.1v1.1h-1.1zM448.7 397.6h1.1v1.1h-1.1zM477.0 390.7h1.1v1.1h-1.1zM492.7 421.7h1.1v1.1h-1.1zM515.0 394.6h1.1v1.1h-1.1zM496.4 376.9h1.1v1.1h-1.1zM514.5 404.9h1.1v1.1h-1.1zM488.7 400.0h1.1v1.1h-1.1zM462.3 430.0h1.1v1.1h-1.1zM477.9 382.1h1.1v1.1h-1.1zM513.9 365.3h1.1v1.1h-1.1zM517.0 388.4h1.1v1.1h-1.1zM461.8 419.0h1.1v1.1h-1.1zM497.1 409.8h1.1v1.1h-1.1zM488.0 406.9h1.1v1.1h-1.1zM496.9 420.6h1.1v1.1h-1.1zM480.5 425.1h1.1v1.1h-1.1zM507.2 411.2h1.1v1.1h-1.1zM506.2 417.5h1.1v1.1h-1.1zM481.5 424.9h1.1v1.1h-1.1zM506.1 410.4h1.1v1.1h-1.1zM468.4 401.6h1.1v1.1h-1.1zM496.6 418.4h1.1v1.1h-1.1zM473.2 379.4h1.1v1.1h-1.1zM462.2 387.1h1.1v1.1h-1.1zM495.5 376.3h1.1v1.1h-1.1zM510.2 375.3h1.1v1.1h-1.1zM475.0 383.3h1.1v1.1h-1.1zM463.8 392.6h1.1v1.1h-1.1zM511.2 395.7h1.1v1.1h-1.1zM474.9 394.9h1.1v1.1h-1.1zM477.3 415.5h1.1v1.1h-1.1zM503.1 392.8h1.1v1.1h-1.1zM487.9 377.2h1.1v1.1h-1.1zM459.8 401.9h1.1v1.1h-1.1zM496.0 411.0h1.1v1.1h-1.1zM455.3 430.8h1.1v1.1h-1.1z" fill="rgb(55,145,100)" fill-opacity="0.62"/>
<path d="M440.8 439.5h1.1v1.1h-1.1zM476.7 438.7h1.1v1.1h-1.1zM456.4 432.1h1.1v1.1h-1.1zM476.8 415.3h1.1v1.1h-1.1zM428.0 439.5h1.1v1.1h-1.1zM424.9 439.5h1.1v1.1h-1.1zM483.3 418.4h1.1v1.1h-1.1zM483.6 437.6h1.1v1.1h-1.1zM505.4 439.5h1.1v1.1h-1.1zM463.1 420.8h1.1v1.1h-1.1zM466.3 437.0h1.1v1.1h-1.1zM418.7 439.5h1.1v1.1h-1.1zM424.0 439.5h1.1v1.1h-1.1zM465.9 439.5h1.1v1.1h-1.1zM416.6 439.5h1.1v1.1h-1.1zM479.4 422.1h1.1v1.1h-1.1zM418.8 439.5h1.1v1.1h-1.1zM478.9 439.5h1.1v1.1h-1.1zM435.9 439.5h1.1v1.1h-1.1zM467.6 439.5h1.1v1.1h-1.1zM461.7 437.5h1.1v1.1h-1.1zM419.2 439.5h1.1v1.1h-1.1zM441.2 433.7h1.1v1.1h-1.1zM505.2 393.1h1.1v1.1h-1.1zM488.9 439.5h1.1v1.1h-1.1zM456.5 438.6h1.1v1.1h-1.1zM456.1 435.0h1.1v1.1h-1.1zM447.4 439.5h1.1v1.1h-1.1zM467.6 430.0h1.1v1.1h-1.1zM436.4 435.7h1.1v1.1h-1.1zM450.4 439.5h1.1v1.1h-1.1zM500.7 431.3h1.1v1.1h-1.1zM479.4 433.0h1.1v1.1h-1.1zM421.2 439.5h1.1v1.1h-1.1zM425.4 439.4h1.1v1.1h-1.1zM412.7 439.5h1.1v1.1h-1.1zM505.6 434.8h1.1v1.1h-1.1zM442.0 429.5h1.1v1.1h-1.1zM502.3 433.9h1.1v1.1h-1.1zM502.4 423.0h1.1v1.1h-1.1zM507.5 428.1h1.1v1.1h-1.1zM483.6 437.5h1.1v1.1h-1.1zM455.1 439.5h1.1v1.1h-1.1zM514.9 418.6h1.1v1.1h-1.1zM442.0 439.5h1.1v1.1h-1.1zM471.2 439.5h1.1v1.1h-1.1zM469.7 438.2h1.1v1.1h-1.1zM437.9 434.3h1.1v1.1h-1.1zM458.9 439.5h1.1v1.1h-1.1zM480.4 408.1h1.1v1.1h-1.1zM445.9 439.5h1.1v1.1h-1.1zM431.2 439.5h1.1v1.1h-1.1zM434.4 439.5h1.1v1.1h-1.1zM433.1 439.5h1.1v1.1h-1.1zM408.2 439.1h1.1v1.1h-1.1zM441.7 439.5h1.1v1.1h-1.1zM467.5 439.5h1.1v1.1h-1.1zM448.6 427.7h1.1v1.1h-1.1zM432.4 439.5h1.1v1.1h-1.1zM444.8 439.5h1.1v1.1h-1.1zM474.4 437.7h1.1v1.1h-1.1zM486.9 428.7h1.1v1.1h-1.1zM413.9 439.5h1.1v1.1h-1.1zM409.7 439.5h1.1v1.1h-1.1zM417.5 439.5h1.1v1.1h-1.1zM417.3 439.5h1.1v1.1h-1.1zM517.1 439.5h1.1v1.1h-1.1zM512.5 436.9h1.1v1.1h-1.1zM427.4 439.5h1.1v1.1h-1.1zM478.0 437.8h1.1v1.1h-1.1zM495.3 438.5h1.1v1.1h-1.1zM428.6 439.5h1.1v1.1h-1.1zM453.7 439.5h1.1v1.1h-1.1zM509.9 436.0h1.1v1.1h-1.1zM503.0 439.5h1.1v1.1h-1.1zM435.0 439.5h1.1v1.1h-1.1zM446.2 439.5h1.1v1.1h-1.1zM507.3 420.8h1.1v1.1h-1.1zM457.0 439.1h1.1v1.1h-1.1zM412.3 439.5h1.1v1.1h-1.1zM486.3 439.5h1.1v1.1h-1.1zM480.9 417.6h1.1v1.1h-1.1zM451.3 439.5h1.1v1.1h-1.1zM500.1 424.3h1.1v1.1h-1.1zM477.8 428.7h1.1v1.1h-1.1zM464.1 437.4h1.1v1.1h-1.1zM486.8 439.5h1.1v1.1h-1.1zM425.9 439.5h1.1v1.1h-1.1zM446.7 439.5h1.1v1.1h-1.1zM477.4 439.5h1.1v1.1h-1.1zM419.7 439.5h1.1v1.1h-1.1zM422.3 439.5h1.1v1.1h-1.1zM517.5 389.4h1.1v1.1h-1.1zM457.8 424.4h1.1v1.1h-1.1zM515.2 427.2h1.1v1.1h-1.1zM436.8 438.0h1.1v1.1h-1.1zM448.2 416.4h1.1v1.1h-1.1zM475.6 438.7h1.1v1.1h-1.1zM457.8 432.7h1.1v1.1h-1.1zM449.6 439.4h1.1v1.1h-1.1zM485.9 425.2h1.1v1.1h-1.1zM475.8 439.5h1.1v1.1h-1.1zM426.8 439.5h1.1v1.1h-1.1zM459.9 439.5h1.1v1.1h-1.1zM471.9 429.2h1.1v1.1h-1.1zM480.9 439.5h1.1v1.1h-1.1zM488.9 438.0h1.1v1.1h-1.1zM486.7 439.5h1.1v1.1h-1.1zM492.3 433.2h1.1v1.1h-1.1zM414.8 439.5h1.1v1.1h-1.1zM478.6 436.4h1.1v1.1h-1.1zM411.2 439.5h1.1v1.1h-1.1zM451.2 422.7h1.1v1.1h-1.1zM514.6 430.9h1.1v1.1h-1.1zM442.8 439.5h1.1v1.1h-1.1zM440.6 426.2h1.1v1.1h-1.1zM465.1 438.5h1.1v1.1h-1.1zM481.1 430.3h1.1v1.1h-1.1zM443.1 436.8h1.1v1.1h-1.1zM516.4 434.7h1.1v1.1h-1.1zM415.6 439.5h1.1v1.1h-1.1zM511.2 424.4h1.1v1.1h-1.1zM512.2 439.5h1.1v1.1h-1.1zM507.9 407.8h1.1v1.1h-1.1zM458.5 415.3h1.1v1.1h-1.1zM491.1 437.6h1.1v1.1h-1.1zM494.3 439.5h1.1v1.1h-1.1zM477.6 417.4h1.1v1.1h-1.1zM485.1 413.0h1.1v1.1h-1.1zM438.0 427.3h1.1v1.1h-1.1zM427.6 439.5h1.1v1.1h-1.1zM441.2 439.5h1.1v1.1h-1.1zM418.6 439.5h1.1v1.1h-1.1zM460.8 439.5h1.1v1.1h-1.1zM433.9 439.5h1.1v1.1h-1.1zM498.3 439.5h1.1v1.1h-1.1zM449.0 439.1h1.1v1.1h-1.1zM424.2 439.5h1.1v1.1h-1.1zM445.7 439.5h1.1v1.1h-1.1zM439.9 437.6h1.1v1.1h-1.1zM500.9 405.0h1.1v1.1h-1.1zM484.9 438.7h1.1v1.1h-1.1zM513.9 439.5h1.1v1.1h-1.1zM514.6 439.5h1.1v1.1h-1.1zM515.5 364.7h1.1v1.1h-1.1zM474.2 434.9h1.1v1.1h-1.1zM444.9 439.5h1.1v1.1h-1.1zM456.6 439.5h1.1v1.1h-1.1zM464.5 438.2h1.1v1.1h-1.1zM438.5 439.5h1.1v1.1h-1.1zM518.9 375.8h1.1v1.1h-1.1zM482.8 405.9h1.1v1.1h-1.1zM451.7 407.3h1.1v1.1h-1.1zM454.3 404.1h1.1v1.1h-1.1zM495.0 402.0h1.1v1.1h-1.1zM449.4 415.6h1.1v1.1h-1.1zM488.6 384.1h1.1v1.1h-1.1zM487.7 406.2h1.1v1.1h-1.1zM484.8 400.2h1.1v1.1h-1.1zM461.8 378.0h1.1v1.1h-1.1zM498.9 381.6h1.1v1.1h-1.1zM481.2 370.0h1.1v1.1h-1.1zM511.5 388.3h1.1v1.1h-1.1zM494.0 392.5h1.1v1.1h-1.1zM505.7 372.1h1.1v1.1h-1.1zM479.3 408.7h1.1v1.1h-1.1zM511.7 363.9h1.1v1.1h-1.1zM491.8 404.6h1.1v1.1h-1.1zM478.2 400.2h1.1v1.1h-1.1zM476.1 388.8h1.1v1.1h-1.1zM468.0 417.5h1.1v1.1h-1.1zM483.4 412.1h1.1v1.1h-1.1zM489.5 405.2h1.1v1.1h-1.1zM467.1 402.7h1.1v1.1h-1.1zM501.1 381.5h1.1v1.1h-1.1zM454.4 386.3h1.1v1.1h-1.1zM509.9 392.5h1.1v1.1h-1.1zM508.6 369.1h1.1v1.1h-1.1zM483.3 410.1h1.1v1.1h-1.1zM478.6 406.1h1.1v1.1h-1.1zM460.2 380.8h1.1v1.1h-1.1zM508.2 350.0h1.1v1.1h-1.1zM476.6 381.5h1.1v1.1h-1.1zM517.0 383.6h1.1v1.1h-1.1zM515.5 392.3h1.1v1.1h-1.1zM517.5 384.1h1.1v1.1h-1.1zM482.0 413.8h1.1v1.1h-1.1zM518.2 399.8h1.1v1.1h-1.1zM507.4 390.1h1.1v1.1h-1.1zM454.4 412.4h1.1v1.1h-1.1zM496.7 397.6h1.1v1.1h-1.1zM491.3 407.6h1.1v1.1h-1.1zM512.7 391.0h1.1v1.1h-1.1zM493.5 408.4h1.1v1.1h-1.1zM504.3 393.7h1.1v1.1h-1.1zM489.7 393.6h1.1v1.1h-1.1zM453.6 409.7h1.1v1.1h-1.1zM510.6 397.3h1.1v1.1h-1.1zM514.8 388.3h1.1v1.1h-1.1zM510.2 345.5h1.1v1.1h-1.1zM516.5 398.3h1.1v1.1h-1.1zM512.7 368.5h1.1v1.1h-1.1zM451.8 415.9h1.1v1.1h-1.1zM473.8 368.0h1.1v1.1h-1.1zM488.5 408.2h1.1v1.1h-1.1z" fill="rgb(180,100,50)" fill-opacity="0.62"/>
<path d="M413.8 429.6h1.1v1.1h-1.1zM416.0 429.1h1.1v1.1h-1.1zM418.4 429.1h1.1v1.1h-1.1zM420.2 429.7h1.1v1.1h-1.1zM422.2 427.9h1.1v1.1h-1.1zM425.2 428.6h1.1v1.1h-1.1zM426.4 428.4h1.1v1.1h-1.1zM428.8 427.2h1.1v1.1h-1.1zM431.6 426.0h1.1v1.1h-1.1zM433.3 425.7h1.1v1.1h-1.1zM435.3 426.5h1.1v1.1h-1.1zM438.3 425.8h1.1v1.1h-1.1zM439.3 424.4h1.1v1.1h-1.1zM442.3 424.6h1.1v1.1h-1.1z" fill="rgb(180,100,50)" fill-opacity="0.5"/>
<path d="M428.5 438.7h1.1v1.1h-1.1zM409.4 438.1h1.1v1.1h-1.1zM411.1 438.8h1.1v1.1h-1.1zM425.8 436.6h1.1v1.1h-1.1zM429.0 437.0h1.1v1.1h-1.1zM455.4 439.3h1.1v1.1h-1.1zM452.9 436.0h1.1v1.1h-1.1zM408.4 437.5h1.1v1.1h-1.1zM414.6 438.5h1.1v1.1h-1.1zM423.5 438.8h1.1v1.1h-1.1zM441.2 436.6h1.1v1.1h-1.1zM426.4 436.7h1.1v1.1h-1.1zM440.3 437.0h1.1v1.1h-1.1zM435.3 436.0h1.1v1.1h-1.1zM444.4 436.2h1.1v1.1h-1.1zM446.5 436.5h1.1v1.1h-1.1zM421.6 438.6h1.1v1.1h-1.1zM450.4 437.6h1.1v1.1h-1.1zM422.4 436.5h1.1v1.1h-1.1zM423.7 436.6h1.1v1.1h-1.1zM418.4 437.9h1.1v1.1h-1.1zM450.5 436.1h1.1v1.1h-1.1zM410.5 438.9h1.1v1.1h-1.1zM416.2 437.4h1.1v1.1h-1.1zM412.5 436.0h1.1v1.1h-1.1zM438.2 438.7h1.1v1.1h-1.1zM420.2 437.8h1.1v1.1h-1.1zM449.4 437.1h1.1v1.1h-1.1zM415.4 437.3h1.1v1.1h-1.1zM434.0 438.5h1.1v1.1h-1.1zM429.2 436.2h1.1v1.1h-1.1zM410.6 437.2h1.1v1.1h-1.1zM443.6 436.1h1.1v1.1h-1.1zM435.8 436.4h1.1v1.1h-1.1zM435.1 439.0h1.1v1.1h-1.1zM433.2 436.6h1.1v1.1h-1.1zM410.5 439.0h1.1v1.1h-1.1zM426.8 437.6h1.1v1.1h-1.1zM441.7 437.1h1.1v1.1h-1.1zM432.3 438.0h1.1v1.1h-1.1z" fill="rgb(55,145,100)" fill-opacity="0.7"/>
<polyline points="407.30,440.40 440.00,440.00 451.90,439.10 463.90,437.30 475.80,435.50 487.80,433.70 499.70,431.90 511.60,430.10 519.30,429.00" fill="none" stroke="rgb(170,90,40)" stroke-width="1.0" stroke-linejoin="round"/>
<polyline points="407.30,438.80 430.00,438.80 453.00,438.50 475.80,436.70 500.00,436.00 519.30,435.50" fill="none" stroke="rgb(40,140,90)" stroke-width="1.8" stroke-linejoin="round"/>
</g>
<line x1="454.23" y1="322.50" x2="454.23" y2="440.50" stroke="#111" stroke-width="0.9" stroke-dasharray="1.8,1.3"/>
<rect x="407.30" y="322.50" width="112.0" height="118.0" fill="none" stroke="#7a7a7a" stroke-width="0.9"/>
<path d="M407.30 440.50v2.2M443.40 440.50v2.2M479.50 440.50v2.2M515.60 440.50v2.2" stroke="#555" stroke-width="0.7" fill="none"/>
<text x="517.30" y="330.10" font-size="9" font-weight="bold" fill="#000" text-anchor="end" stroke="#000" stroke-width="0.12">k</text>
<clipPath id="cl"><rect x="536.20" y="322.50" width="112.0" height="118.0"/></clipPath>
<g clip-path="url(#cl)">
<polygon points="536.20,438.00 543.70,428.00 551.50,419.00 559.20,411.00 566.90,405.00 574.70,400.00 582.40,396.80 589.00,393.90 598.40,388.30 607.80,381.70 617.20,376.00 626.60,370.40 636.00,366.60 648.20,363.60 648.20,418.80 636.00,420.00 626.60,422.50 607.80,428.50 596.00,432.50 589.00,434.50 582.40,437.80 566.90,440.60 536.20,440.60" fill="rgb(40,140,90)" fill-opacity="0.26"/>
<polygon points="536.20,440.00 543.70,433.00 551.50,424.00 559.20,414.60 566.90,406.80 574.70,400.70 582.40,396.00 589.00,392.00 598.40,384.50 607.80,377.90 617.20,371.30 626.60,365.70 636.00,361.90 648.20,358.80 648.20,414.40 636.00,417.40 626.60,419.30 617.20,422.10 607.80,424.90 598.40,427.80 589.00,430.60 582.40,433.10 574.70,436.20 566.90,439.30 559.00,440.60 536.20,440.60" fill="rgb(170,90,40)" fill-opacity="0.26"/>
<path d="M564.0 439.5h1.1v1.1h-1.1zM590.3 435.2h1.1v1.1h-1.1zM551.9 414.3h1.1v1.1h-1.1zM602.7 405.2h1.1v1.1h-1.1zM637.5 393.7h1.1v1.1h-1.1zM602.2 391.9h1.1v1.1h-1.1zM618.3 439.5h1.1v1.1h-1.1zM554.4 434.6h1.1v1.1h-1.1zM563.6 423.2h1.1v1.1h-1.1zM631.8 389.1h1.1v1.1h-1.1zM569.0 402.0h1.1v1.1h-1.1zM623.3 378.7h1.1v1.1h-1.1zM617.6 427.7h1.1v1.1h-1.1zM562.6 439.5h1.1v1.1h-1.1zM637.5 403.2h1.1v1.1h-1.1zM645.2 405.2h1.1v1.1h-1.1zM591.9 435.5h1.1v1.1h-1.1zM634.0 412.5h1.1v1.1h-1.1zM604.7 405.4h1.1v1.1h-1.1zM591.7 433.9h1.1v1.1h-1.1zM640.8 369.2h1.1v1.1h-1.1zM538.0 439.5h1.1v1.1h-1.1zM605.3 388.0h1.1v1.1h-1.1zM579.4 402.2h1.1v1.1h-1.1zM638.8 417.1h1.1v1.1h-1.1zM632.9 356.9h1.1v1.1h-1.1zM582.6 434.5h1.1v1.1h-1.1zM586.2 409.0h1.1v1.1h-1.1zM584.3 439.5h1.1v1.1h-1.1zM553.2 439.5h1.1v1.1h-1.1zM642.3 379.1h1.1v1.1h-1.1zM546.8 419.9h1.1v1.1h-1.1zM596.5 434.1h1.1v1.1h-1.1zM580.7 417.0h1.1v1.1h-1.1zM633.1 382.5h1.1v1.1h-1.1zM553.0 432.4h1.1v1.1h-1.1zM544.3 436.9h1.1v1.1h-1.1zM554.2 406.0h1.1v1.1h-1.1zM639.0 396.5h1.1v1.1h-1.1zM556.3 413.4h1.1v1.1h-1.1zM611.1 434.6h1.1v1.1h-1.1zM539.5 438.9h1.1v1.1h-1.1zM614.5 396.7h1.1v1.1h-1.1zM581.4 402.7h1.1v1.1h-1.1zM629.0 385.4h1.1v1.1h-1.1zM605.8 439.5h1.1v1.1h-1.1zM626.9 380.2h1.1v1.1h-1.1zM635.6 383.8h1.1v1.1h-1.1zM578.4 402.8h1.1v1.1h-1.1zM640.7 364.9h1.1v1.1h-1.1zM627.9 386.7h1.1v1.1h-1.1zM644.4 361.5h1.1v1.1h-1.1zM616.5 405.0h1.1v1.1h-1.1zM566.1 400.4h1.1v1.1h-1.1zM552.1 417.5h1.1v1.1h-1.1zM551.6 415.8h1.1v1.1h-1.1zM570.0 412.2h1.1v1.1h-1.1zM567.0 439.5h1.1v1.1h-1.1zM582.9 398.1h1.1v1.1h-1.1zM581.0 435.1h1.1v1.1h-1.1zM553.0 439.5h1.1v1.1h-1.1zM549.9 439.5h1.1v1.1h-1.1zM575.8 407.4h1.1v1.1h-1.1zM563.3 415.9h1.1v1.1h-1.1zM556.1 433.9h1.1v1.1h-1.1zM582.6 415.5h1.1v1.1h-1.1zM591.1 408.0h1.1v1.1h-1.1zM555.3 438.7h1.1v1.1h-1.1zM628.8 365.7h1.1v1.1h-1.1zM613.4 409.5h1.1v1.1h-1.1zM581.0 439.5h1.1v1.1h-1.1zM556.9 425.8h1.1v1.1h-1.1zM621.8 397.7h1.1v1.1h-1.1zM582.9 439.5h1.1v1.1h-1.1zM548.2 434.1h1.1v1.1h-1.1zM617.2 439.5h1.1v1.1h-1.1zM628.6 354.4h1.1v1.1h-1.1zM643.7 401.1h1.1v1.1h-1.1zM561.6 431.3h1.1v1.1h-1.1zM621.8 439.5h1.1v1.1h-1.1zM542.5 439.5h1.1v1.1h-1.1zM623.6 388.4h1.1v1.1h-1.1zM608.2 430.3h1.1v1.1h-1.1zM574.0 428.7h1.1v1.1h-1.1zM538.1 437.1h1.1v1.1h-1.1zM569.1 433.4h1.1v1.1h-1.1zM561.7 436.5h1.1v1.1h-1.1zM536.6 439.5h1.1v1.1h-1.1zM561.6 418.6h1.1v1.1h-1.1zM584.8 439.5h1.1v1.1h-1.1zM644.8 393.5h1.1v1.1h-1.1zM582.7 439.5h1.1v1.1h-1.1zM623.1 375.5h1.1v1.1h-1.1zM565.3 425.6h1.1v1.1h-1.1zM577.5 414.0h1.1v1.1h-1.1zM561.9 439.5h1.1v1.1h-1.1zM630.9 439.4h1.1v1.1h-1.1zM623.4 391.0h1.1v1.1h-1.1zM619.2 410.8h1.1v1.1h-1.1zM558.3 406.7h1.1v1.1h-1.1zM647.8 369.6h1.1v1.1h-1.1zM566.7 430.0h1.1v1.1h-1.1zM579.4 438.1h1.1v1.1h-1.1zM586.0 422.3h1.1v1.1h-1.1zM639.6 385.0h1.1v1.1h-1.1zM540.8 436.2h1.1v1.1h-1.1zM591.7 408.1h1.1v1.1h-1.1zM625.8 432.6h1.1v1.1h-1.1zM630.6 439.5h1.1v1.1h-1.1zM590.2 410.4h1.1v1.1h-1.1zM571.5 407.4h1.1v1.1h-1.1zM610.5 364.4h1.1v1.1h-1.1zM604.3 438.1h1.1v1.1h-1.1zM586.6 439.5h1.1v1.1h-1.1zM630.1 397.8h1.1v1.1h-1.1zM607.1 414.8h1.1v1.1h-1.1zM578.0 415.8h1.1v1.1h-1.1zM552.3 439.5h1.1v1.1h-1.1zM557.9 439.5h1.1v1.1h-1.1zM536.6 439.0h1.1v1.1h-1.1zM582.4 412.4h1.1v1.1h-1.1zM637.5 430.8h1.1v1.1h-1.1zM597.1 432.4h1.1v1.1h-1.1zM579.9 437.1h1.1v1.1h-1.1zM617.7 403.0h1.1v1.1h-1.1zM555.4 420.1h1.1v1.1h-1.1zM586.2 428.0h1.1v1.1h-1.1zM554.8 430.7h1.1v1.1h-1.1zM646.6 385.9h1.1v1.1h-1.1zM620.1 435.1h1.1v1.1h-1.1zM594.0 437.8h1.1v1.1h-1.1zM606.2 418.6h1.1v1.1h-1.1zM563.7 417.6h1.1v1.1h-1.1zM630.8 390.7h1.1v1.1h-1.1zM574.7 439.5h1.1v1.1h-1.1zM630.3 394.6h1.1v1.1h-1.1zM600.7 394.7h1.1v1.1h-1.1zM602.1 379.1h1.1v1.1h-1.1zM567.6 439.5h1.1v1.1h-1.1zM639.3 384.2h1.1v1.1h-1.1zM575.0 438.6h1.1v1.1h-1.1zM630.9 384.6h1.1v1.1h-1.1zM614.6 406.6h1.1v1.1h-1.1zM554.6 439.5h1.1v1.1h-1.1zM637.1 439.5h1.1v1.1h-1.1zM619.5 439.5h1.1v1.1h-1.1zM604.3 437.5h1.1v1.1h-1.1zM549.5 431.9h1.1v1.1h-1.1zM579.6 439.5h1.1v1.1h-1.1zM612.1 429.9h1.1v1.1h-1.1zM639.2 435.6h1.1v1.1h-1.1zM578.4 439.5h1.1v1.1h-1.1zM567.3 415.6h1.1v1.1h-1.1zM583.4 401.4h1.1v1.1h-1.1zM579.5 427.4h1.1v1.1h-1.1zM641.1 412.2h1.1v1.1h-1.1zM617.1 368.1h1.1v1.1h-1.1zM601.3 439.1h1.1v1.1h-1.1zM555.3 438.2h1.1v1.1h-1.1zM597.1 429.4h1.1v1.1h-1.1zM639.4 369.1h1.1v1.1h-1.1zM616.8 390.9h1.1v1.1h-1.1zM631.5 428.0h1.1v1.1h-1.1zM580.7 395.3h1.1v1.1h-1.1zM537.1 437.4h1.1v1.1h-1.1zM646.2 399.0h1.1v1.1h-1.1zM643.8 439.5h1.1v1.1h-1.1zM549.6 432.5h1.1v1.1h-1.1zM613.1 370.1h1.1v1.1h-1.1zM635.2 423.2h1.1v1.1h-1.1zM545.7 439.5h1.1v1.1h-1.1zM614.2 439.5h1.1v1.1h-1.1zM574.8 439.5h1.1v1.1h-1.1zM588.7 395.7h1.1v1.1h-1.1zM592.0 423.8h1.1v1.1h-1.1zM592.1 421.9h1.1v1.1h-1.1zM623.1 393.3h1.1v1.1h-1.1zM635.4 376.3h1.1v1.1h-1.1zM584.4 417.2h1.1v1.1h-1.1zM618.2 382.1h1.1v1.1h-1.1zM605.8 439.5h1.1v1.1h-1.1zM621.6 360.1h1.1v1.1h-1.1zM577.0 437.6h1.1v1.1h-1.1zM647.3 399.3h1.1v1.1h-1.1zM611.0 385.5h1.1v1.1h-1.1zM567.3 439.5h1.1v1.1h-1.1zM644.7 410.7h1.1v1.1h-1.1zM608.2 392.7h1.1v1.1h-1.1zM645.7 421.8h1.1v1.1h-1.1zM591.3 435.5h1.1v1.1h-1.1zM567.9 428.0h1.1v1.1h-1.1zM644.2 414.8h1.1v1.1h-1.1zM595.2 380.4h1.1v1.1h-1.1zM629.6 439.5h1.1v1.1h-1.1zM613.7 423.3h1.1v1.1h-1.1zM617.9 376.1h1.1v1.1h-1.1zM543.2 433.4h1.1v1.1h-1.1zM635.1 439.5h1.1v1.1h-1.1zM554.5 426.1h1.1v1.1h-1.1zM565.9 424.7h1.1v1.1h-1.1zM576.0 422.0h1.1v1.1h-1.1zM622.7 402.8h1.1v1.1h-1.1zM588.1 414.7h1.1v1.1h-1.1zM622.1 414.6h1.1v1.1h-1.1zM628.4 405.6h1.1v1.1h-1.1zM538.7 437.9h1.1v1.1h-1.1zM636.6 439.5h1.1v1.1h-1.1zM589.4 439.5h1.1v1.1h-1.1zM631.2 398.6h1.1v1.1h-1.1zM579.8 421.0h1.1v1.1h-1.1zM589.4 389.7h1.1v1.1h-1.1zM586.1 392.4h1.1v1.1h-1.1zM631.6 393.3h1.1v1.1h-1.1zM585.7 409.0h1.1v1.1h-1.1zM570.0 414.7h1.1v1.1h-1.1zM539.0 435.7h1.1v1.1h-1.1zM596.9 403.0h1.1v1.1h-1.1zM585.5 399.0h1.1v1.1h-1.1zM543.1 436.8h1.1v1.1h-1.1zM625.7 439.5h1.1v1.1h-1.1zM601.0 402.5h1.1v1.1h-1.1zM591.8 425.9h1.1v1.1h-1.1zM644.8 384.5h1.1v1.1h-1.1zM619.2 403.7h1.1v1.1h-1.1zM641.3 364.9h1.1v1.1h-1.1zM624.2 374.0h1.1v1.1h-1.1zM569.4 408.2h1.1v1.1h-1.1zM642.3 399.2h1.1v1.1h-1.1zM606.5 439.5h1.1v1.1h-1.1zM611.1 396.0h1.1v1.1h-1.1zM540.3 436.0h1.1v1.1h-1.1zM579.3 418.8h1.1v1.1h-1.1zM637.0 383.7h1.1v1.1h-1.1zM599.2 392.9h1.1v1.1h-1.1zM584.2 439.5h1.1v1.1h-1.1zM587.0 422.0h1.1v1.1h-1.1zM598.1 422.0h1.1v1.1h-1.1zM606.5 382.1h1.1v1.1h-1.1zM593.0 439.5h1.1v1.1h-1.1zM631.0 413.9h1.1v1.1h-1.1zM639.0 374.8h1.1v1.1h-1.1zM589.8 435.8h1.1v1.1h-1.1zM631.8 385.7h1.1v1.1h-1.1zM551.1 422.1h1.1v1.1h-1.1zM540.6 437.4h1.1v1.1h-1.1zM575.4 395.2h1.1v1.1h-1.1zM566.2 413.6h1.1v1.1h-1.1zM562.8 433.5h1.1v1.1h-1.1zM634.4 439.5h1.1v1.1h-1.1zM585.5 404.1h1.1v1.1h-1.1zM596.9 439.5h1.1v1.1h-1.1zM611.7 381.3h1.1v1.1h-1.1zM610.6 384.7h1.1v1.1h-1.1zM584.0 408.1h1.1v1.1h-1.1zM638.9 381.3h1.1v1.1h-1.1zM544.2 430.2h1.1v1.1h-1.1zM623.6 367.6h1.1v1.1h-1.1zM555.2 439.5h1.1v1.1h-1.1zM631.7 377.0h1.1v1.1h-1.1zM581.3 408.0h1.1v1.1h-1.1zM603.1 358.5h1.1v1.1h-1.1zM593.9 373.8h1.1v1.1h-1.1zM640.2 365.0h1.1v1.1h-1.1zM550.5 384.4h1.1v1.1h-1.1zM544.1 410.5h1.1v1.1h-1.1zM643.5 336.9h1.1v1.1h-1.1zM596.8 381.9h1.1v1.1h-1.1zM539.9 389.4h1.1v1.1h-1.1zM588.1 392.5h1.1v1.1h-1.1zM636.3 365.1h1.1v1.1h-1.1zM565.7 398.8h1.1v1.1h-1.1zM626.7 351.2h1.1v1.1h-1.1zM569.3 402.0h1.1v1.1h-1.1zM551.1 392.9h1.1v1.1h-1.1zM625.1 358.1h1.1v1.1h-1.1zM603.5 378.9h1.1v1.1h-1.1zM594.4 374.0h1.1v1.1h-1.1zM581.1 385.8h1.1v1.1h-1.1zM608.8 352.6h1.1v1.1h-1.1zM553.7 388.3h1.1v1.1h-1.1zM573.9 370.2h1.1v1.1h-1.1zM571.5 400.9h1.1v1.1h-1.1zM571.6 372.2h1.1v1.1h-1.1zM642.4 361.7h1.1v1.1h-1.1zM599.0 357.8h1.1v1.1h-1.1zM564.8 391.2h1.1v1.1h-1.1zM568.5 394.5h1.1v1.1h-1.1zM647.8 340.7h1.1v1.1h-1.1zM632.9 358.6h1.1v1.1h-1.1zM579.1 377.6h1.1v1.1h-1.1zM643.0 340.4h1.1v1.1h-1.1zM595.9 374.2h1.1v1.1h-1.1zM554.9 414.8h1.1v1.1h-1.1zM549.0 421.9h1.1v1.1h-1.1zM647.1 363.5h1.1v1.1h-1.1zM551.8 410.6h1.1v1.1h-1.1zM603.0 362.3h1.1v1.1h-1.1zM581.2 379.7h1.1v1.1h-1.1zM620.3 368.4h1.1v1.1h-1.1zM575.0 370.1h1.1v1.1h-1.1zM642.8 354.7h1.1v1.1h-1.1zM593.2 360.8h1.1v1.1h-1.1zM594.0 372.8h1.1v1.1h-1.1zM556.2 395.0h1.1v1.1h-1.1zM647.1 359.7h1.1v1.1h-1.1zM596.3 389.5h1.1v1.1h-1.1zM619.9 372.0h1.1v1.1h-1.1zM624.5 360.0h1.1v1.1h-1.1zM586.8 378.1h1.1v1.1h-1.1zM592.7 376.4h1.1v1.1h-1.1zM602.6 382.0h1.1v1.1h-1.1zM624.9 357.4h1.1v1.1h-1.1zM624.5 345.9h1.1v1.1h-1.1zM617.0 361.1h1.1v1.1h-1.1zM626.5 347.2h1.1v1.1h-1.1zM643.9 363.6h1.1v1.1h-1.1zM637.3 346.4h1.1v1.1h-1.1zM635.8 363.5h1.1v1.1h-1.1zM618.3 347.9h1.1v1.1h-1.1zM637.3 341.6h1.1v1.1h-1.1zM591.2 392.5h1.1v1.1h-1.1zM640.0 364.7h1.1v1.1h-1.1zM620.4 374.1h1.1v1.1h-1.1zM548.0 386.2h1.1v1.1h-1.1zM590.6 370.0h1.1v1.1h-1.1zM607.2 355.1h1.1v1.1h-1.1zM551.7 415.8h1.1v1.1h-1.1zM634.3 343.0h1.1v1.1h-1.1zM560.9 382.4h1.1v1.1h-1.1zM605.3 358.0h1.1v1.1h-1.1z" fill="rgb(55,145,100)" fill-opacity="0.62"/>
<path d="M625.7 369.8h1.1v1.1h-1.1zM641.8 425.4h1.1v1.1h-1.1zM580.2 413.9h1.1v1.1h-1.1zM602.9 439.5h1.1v1.1h-1.1zM548.6 426.7h1.1v1.1h-1.1zM573.3 400.9h1.1v1.1h-1.1zM635.2 371.3h1.1v1.1h-1.1zM594.4 406.2h1.1v1.1h-1.1zM545.7 432.0h1.1v1.1h-1.1zM580.8 409.8h1.1v1.1h-1.1zM560.3 421.0h1.1v1.1h-1.1zM626.5 424.6h1.1v1.1h-1.1zM607.4 389.6h1.1v1.1h-1.1zM604.3 391.7h1.1v1.1h-1.1zM551.9 433.8h1.1v1.1h-1.1zM596.7 414.9h1.1v1.1h-1.1zM617.7 426.2h1.1v1.1h-1.1zM557.5 409.4h1.1v1.1h-1.1zM597.8 406.3h1.1v1.1h-1.1zM626.5 384.5h1.1v1.1h-1.1zM536.8 439.5h1.1v1.1h-1.1zM587.8 439.5h1.1v1.1h-1.1zM577.1 418.5h1.1v1.1h-1.1zM576.3 424.4h1.1v1.1h-1.1zM593.4 405.0h1.1v1.1h-1.1zM624.0 407.9h1.1v1.1h-1.1zM607.9 439.5h1.1v1.1h-1.1zM626.8 410.2h1.1v1.1h-1.1zM594.5 391.1h1.1v1.1h-1.1zM604.1 400.7h1.1v1.1h-1.1zM646.7 425.4h1.1v1.1h-1.1zM543.3 438.9h1.1v1.1h-1.1zM547.2 439.5h1.1v1.1h-1.1zM605.4 422.9h1.1v1.1h-1.1zM551.3 433.0h1.1v1.1h-1.1zM625.8 423.5h1.1v1.1h-1.1zM593.0 415.9h1.1v1.1h-1.1zM597.7 439.5h1.1v1.1h-1.1zM603.1 436.7h1.1v1.1h-1.1zM603.2 387.1h1.1v1.1h-1.1zM613.7 439.5h1.1v1.1h-1.1zM612.9 402.3h1.1v1.1h-1.1zM564.2 422.7h1.1v1.1h-1.1zM540.5 435.5h1.1v1.1h-1.1zM542.4 439.5h1.1v1.1h-1.1zM606.0 383.8h1.1v1.1h-1.1zM555.0 438.6h1.1v1.1h-1.1zM581.8 439.5h1.1v1.1h-1.1zM569.0 433.0h1.1v1.1h-1.1zM645.9 415.6h1.1v1.1h-1.1zM589.8 418.9h1.1v1.1h-1.1zM606.5 420.3h1.1v1.1h-1.1zM560.2 439.5h1.1v1.1h-1.1zM615.0 375.7h1.1v1.1h-1.1zM647.8 386.7h1.1v1.1h-1.1zM566.7 425.7h1.1v1.1h-1.1zM608.6 395.7h1.1v1.1h-1.1zM544.1 439.5h1.1v1.1h-1.1zM578.4 416.8h1.1v1.1h-1.1zM612.6 416.8h1.1v1.1h-1.1zM587.0 418.4h1.1v1.1h-1.1zM547.4 435.9h1.1v1.1h-1.1zM636.5 439.5h1.1v1.1h-1.1zM592.1 439.5h1.1v1.1h-1.1zM624.0 385.5h1.1v1.1h-1.1zM545.0 439.5h1.1v1.1h-1.1zM576.4 423.0h1.1v1.1h-1.1zM607.0 416.7h1.1v1.1h-1.1zM569.7 403.4h1.1v1.1h-1.1zM556.5 433.3h1.1v1.1h-1.1zM541.9 433.7h1.1v1.1h-1.1zM550.8 437.4h1.1v1.1h-1.1zM638.3 416.6h1.1v1.1h-1.1zM591.2 402.3h1.1v1.1h-1.1zM538.9 439.5h1.1v1.1h-1.1zM567.1 416.3h1.1v1.1h-1.1zM634.1 373.8h1.1v1.1h-1.1zM633.3 388.1h1.1v1.1h-1.1zM646.3 415.7h1.1v1.1h-1.1zM583.1 378.3h1.1v1.1h-1.1zM615.4 396.3h1.1v1.1h-1.1zM634.1 413.6h1.1v1.1h-1.1zM549.6 438.4h1.1v1.1h-1.1zM617.2 373.5h1.1v1.1h-1.1zM563.4 439.5h1.1v1.1h-1.1zM626.1 419.0h1.1v1.1h-1.1zM608.5 429.4h1.1v1.1h-1.1zM558.5 420.9h1.1v1.1h-1.1zM571.3 415.7h1.1v1.1h-1.1zM632.3 405.5h1.1v1.1h-1.1zM553.4 432.0h1.1v1.1h-1.1zM551.5 438.5h1.1v1.1h-1.1zM621.5 375.6h1.1v1.1h-1.1zM632.5 403.8h1.1v1.1h-1.1zM580.3 439.5h1.1v1.1h-1.1zM644.5 392.0h1.1v1.1h-1.1zM592.8 439.5h1.1v1.1h-1.1zM569.1 424.8h1.1v1.1h-1.1zM601.8 398.6h1.1v1.1h-1.1zM637.7 399.8h1.1v1.1h-1.1zM595.9 414.3h1.1v1.1h-1.1zM582.8 420.1h1.1v1.1h-1.1zM597.2 430.1h1.1v1.1h-1.1zM606.3 409.1h1.1v1.1h-1.1zM547.7 430.3h1.1v1.1h-1.1zM547.3 439.5h1.1v1.1h-1.1zM633.5 395.2h1.1v1.1h-1.1zM644.0 376.8h1.1v1.1h-1.1zM551.7 439.5h1.1v1.1h-1.1zM586.7 407.4h1.1v1.1h-1.1zM573.4 438.2h1.1v1.1h-1.1zM602.4 394.8h1.1v1.1h-1.1zM596.4 417.3h1.1v1.1h-1.1zM590.0 403.8h1.1v1.1h-1.1zM631.6 428.1h1.1v1.1h-1.1zM629.5 439.5h1.1v1.1h-1.1zM616.9 428.3h1.1v1.1h-1.1zM575.3 410.5h1.1v1.1h-1.1zM550.4 409.6h1.1v1.1h-1.1zM560.9 433.9h1.1v1.1h-1.1zM629.4 374.5h1.1v1.1h-1.1zM600.3 389.1h1.1v1.1h-1.1zM594.2 402.8h1.1v1.1h-1.1zM637.6 380.4h1.1v1.1h-1.1zM541.3 439.5h1.1v1.1h-1.1zM602.4 380.6h1.1v1.1h-1.1zM630.9 439.5h1.1v1.1h-1.1zM551.9 429.5h1.1v1.1h-1.1zM585.3 415.2h1.1v1.1h-1.1zM556.4 439.5h1.1v1.1h-1.1zM585.0 428.7h1.1v1.1h-1.1zM573.5 412.5h1.1v1.1h-1.1zM620.2 439.5h1.1v1.1h-1.1zM568.0 409.7h1.1v1.1h-1.1zM564.6 429.4h1.1v1.1h-1.1zM624.5 397.9h1.1v1.1h-1.1zM570.3 425.8h1.1v1.1h-1.1zM597.2 409.6h1.1v1.1h-1.1zM557.2 422.1h1.1v1.1h-1.1zM577.9 423.4h1.1v1.1h-1.1zM555.3 422.2h1.1v1.1h-1.1zM586.5 434.6h1.1v1.1h-1.1zM630.2 413.9h1.1v1.1h-1.1zM540.3 437.6h1.1v1.1h-1.1zM628.0 382.7h1.1v1.1h-1.1zM590.1 433.5h1.1v1.1h-1.1zM617.8 410.3h1.1v1.1h-1.1zM557.5 429.8h1.1v1.1h-1.1zM551.8 415.8h1.1v1.1h-1.1zM547.7 439.5h1.1v1.1h-1.1zM622.9 439.5h1.1v1.1h-1.1zM565.3 439.5h1.1v1.1h-1.1zM570.5 427.6h1.1v1.1h-1.1zM542.8 439.5h1.1v1.1h-1.1zM612.4 385.2h1.1v1.1h-1.1zM586.3 422.8h1.1v1.1h-1.1zM610.1 375.8h1.1v1.1h-1.1zM627.3 402.9h1.1v1.1h-1.1zM582.8 416.6h1.1v1.1h-1.1zM576.7 390.7h1.1v1.1h-1.1zM552.2 439.5h1.1v1.1h-1.1zM582.6 414.5h1.1v1.1h-1.1zM545.7 439.1h1.1v1.1h-1.1zM600.2 438.9h1.1v1.1h-1.1zM635.1 374.6h1.1v1.1h-1.1zM601.9 423.3h1.1v1.1h-1.1zM617.8 371.2h1.1v1.1h-1.1zM579.9 429.2h1.1v1.1h-1.1zM647.4 428.6h1.1v1.1h-1.1zM571.0 424.8h1.1v1.1h-1.1zM634.3 379.9h1.1v1.1h-1.1zM629.6 360.2h1.1v1.1h-1.1zM545.0 439.5h1.1v1.1h-1.1zM562.7 427.2h1.1v1.1h-1.1zM593.0 396.7h1.1v1.1h-1.1zM590.9 391.0h1.1v1.1h-1.1zM599.7 439.5h1.1v1.1h-1.1zM600.8 388.7h1.1v1.1h-1.1zM552.4 438.3h1.1v1.1h-1.1zM635.0 391.7h1.1v1.1h-1.1zM551.9 434.4h1.1v1.1h-1.1zM606.6 400.1h1.1v1.1h-1.1zM638.7 419.8h1.1v1.1h-1.1zM624.9 409.6h1.1v1.1h-1.1zM601.4 411.0h1.1v1.1h-1.1zM632.8 439.5h1.1v1.1h-1.1zM623.0 367.0h1.1v1.1h-1.1zM555.9 421.2h1.1v1.1h-1.1zM645.9 362.4h1.1v1.1h-1.1zM616.9 412.3h1.1v1.1h-1.1zM567.2 393.4h1.1v1.1h-1.1zM639.9 374.0h1.1v1.1h-1.1zM613.3 439.5h1.1v1.1h-1.1zM612.7 385.9h1.1v1.1h-1.1zM569.1 420.3h1.1v1.1h-1.1zM593.2 437.8h1.1v1.1h-1.1zM569.8 419.7h1.1v1.1h-1.1zM602.5 431.2h1.1v1.1h-1.1zM625.7 428.9h1.1v1.1h-1.1zM562.5 426.8h1.1v1.1h-1.1zM550.5 429.7h1.1v1.1h-1.1zM538.4 438.7h1.1v1.1h-1.1zM572.0 439.5h1.1v1.1h-1.1zM588.7 439.5h1.1v1.1h-1.1zM636.1 345.3h1.1v1.1h-1.1zM569.7 405.9h1.1v1.1h-1.1zM642.1 377.2h1.1v1.1h-1.1zM625.5 380.0h1.1v1.1h-1.1zM606.8 399.5h1.1v1.1h-1.1zM601.8 395.4h1.1v1.1h-1.1zM541.4 438.2h1.1v1.1h-1.1zM644.9 403.1h1.1v1.1h-1.1zM604.5 414.5h1.1v1.1h-1.1zM641.5 416.1h1.1v1.1h-1.1zM601.6 426.8h1.1v1.1h-1.1zM630.0 411.5h1.1v1.1h-1.1zM554.6 439.5h1.1v1.1h-1.1zM550.8 398.9h1.1v1.1h-1.1zM587.2 439.5h1.1v1.1h-1.1zM595.5 416.0h1.1v1.1h-1.1zM617.4 388.7h1.1v1.1h-1.1zM581.2 421.7h1.1v1.1h-1.1zM608.1 400.6h1.1v1.1h-1.1zM628.6 392.5h1.1v1.1h-1.1zM638.7 369.4h1.1v1.1h-1.1zM622.5 374.8h1.1v1.1h-1.1zM576.4 426.8h1.1v1.1h-1.1zM570.8 403.2h1.1v1.1h-1.1zM581.9 420.6h1.1v1.1h-1.1zM573.3 439.5h1.1v1.1h-1.1zM598.1 403.0h1.1v1.1h-1.1zM612.4 392.6h1.1v1.1h-1.1zM585.6 439.5h1.1v1.1h-1.1zM640.9 439.5h1.1v1.1h-1.1zM626.3 423.7h1.1v1.1h-1.1zM632.9 393.0h1.1v1.1h-1.1zM601.3 397.6h1.1v1.1h-1.1zM623.1 405.1h1.1v1.1h-1.1zM600.3 397.1h1.1v1.1h-1.1zM623.1 367.1h1.1v1.1h-1.1zM545.4 437.9h1.1v1.1h-1.1zM566.0 438.6h1.1v1.1h-1.1zM576.5 432.0h1.1v1.1h-1.1zM624.4 397.8h1.1v1.1h-1.1zM549.0 433.7h1.1v1.1h-1.1zM617.1 377.8h1.1v1.1h-1.1zM609.5 387.0h1.1v1.1h-1.1zM552.7 435.8h1.1v1.1h-1.1zM577.0 425.2h1.1v1.1h-1.1zM547.8 439.5h1.1v1.1h-1.1zM646.9 409.3h1.1v1.1h-1.1zM598.2 428.2h1.1v1.1h-1.1zM643.0 416.0h1.1v1.1h-1.1zM598.9 387.8h1.1v1.1h-1.1zM610.2 434.7h1.1v1.1h-1.1zM578.1 410.4h1.1v1.1h-1.1zM574.1 427.3h1.1v1.1h-1.1zM620.4 414.3h1.1v1.1h-1.1zM583.3 375.8h1.1v1.1h-1.1zM619.5 350.0h1.1v1.1h-1.1zM606.3 378.4h1.1v1.1h-1.1zM580.8 395.5h1.1v1.1h-1.1zM628.1 356.1h1.1v1.1h-1.1zM597.6 381.4h1.1v1.1h-1.1zM623.9 357.4h1.1v1.1h-1.1zM614.8 371.7h1.1v1.1h-1.1zM640.2 339.6h1.1v1.1h-1.1zM636.4 336.8h1.1v1.1h-1.1zM612.2 366.4h1.1v1.1h-1.1zM545.6 410.0h1.1v1.1h-1.1zM576.2 399.8h1.1v1.1h-1.1zM576.0 398.3h1.1v1.1h-1.1zM640.8 359.6h1.1v1.1h-1.1zM609.6 376.3h1.1v1.1h-1.1zM583.4 382.0h1.1v1.1h-1.1zM548.4 417.9h1.1v1.1h-1.1zM642.8 348.5h1.1v1.1h-1.1zM601.9 362.6h1.1v1.1h-1.1zM636.5 353.5h1.1v1.1h-1.1zM566.7 405.8h1.1v1.1h-1.1zM582.4 389.5h1.1v1.1h-1.1zM553.2 384.5h1.1v1.1h-1.1zM633.7 353.1h1.1v1.1h-1.1zM549.3 421.5h1.1v1.1h-1.1zM576.4 395.4h1.1v1.1h-1.1zM590.2 390.2h1.1v1.1h-1.1zM627.1 350.6h1.1v1.1h-1.1zM586.7 366.9h1.1v1.1h-1.1zM590.4 366.2h1.1v1.1h-1.1zM647.8 358.4h1.1v1.1h-1.1zM613.3 354.2h1.1v1.1h-1.1zM631.3 358.4h1.1v1.1h-1.1zM575.7 389.4h1.1v1.1h-1.1zM547.5 383.4h1.1v1.1h-1.1zM628.0 364.3h1.1v1.1h-1.1zM614.9 356.8h1.1v1.1h-1.1zM589.9 386.3h1.1v1.1h-1.1zM596.0 382.0h1.1v1.1h-1.1zM620.7 368.9h1.1v1.1h-1.1zM639.7 359.9h1.1v1.1h-1.1zM602.2 358.8h1.1v1.1h-1.1zM581.4 395.2h1.1v1.1h-1.1zM563.4 402.2h1.1v1.1h-1.1zM562.2 393.0h1.1v1.1h-1.1zM606.6 352.7h1.1v1.1h-1.1zM553.7 420.0h1.1v1.1h-1.1zM585.0 379.3h1.1v1.1h-1.1zM633.0 350.8h1.1v1.1h-1.1zM645.6 359.0h1.1v1.1h-1.1zM584.2 392.2h1.1v1.1h-1.1zM620.7 365.1h1.1v1.1h-1.1zM553.5 420.1h1.1v1.1h-1.1zM562.0 411.6h1.1v1.1h-1.1zM585.9 361.6h1.1v1.1h-1.1zM571.0 393.8h1.1v1.1h-1.1zM609.8 352.2h1.1v1.1h-1.1zM615.4 364.8h1.1v1.1h-1.1zM548.9 410.3h1.1v1.1h-1.1zM615.9 367.3h1.1v1.1h-1.1zM647.1 340.7h1.1v1.1h-1.1zM639.8 344.4h1.1v1.1h-1.1zM591.1 386.9h1.1v1.1h-1.1zM586.9 382.5h1.1v1.1h-1.1zM601.6 372.9h1.1v1.1h-1.1zM622.1 366.0h1.1v1.1h-1.1zM558.4 402.1h1.1v1.1h-1.1zM560.7 413.1h1.1v1.1h-1.1zM637.2 348.7h1.1v1.1h-1.1zM632.4 339.1h1.1v1.1h-1.1zM559.1 414.7h1.1v1.1h-1.1z" fill="rgb(180,100,50)" fill-opacity="0.62"/>
<polyline points="536.20,440.40 545.30,440.40 551.50,436.20 559.20,430.00 566.90,423.90 574.70,418.40 582.40,414.80 589.00,411.00 598.40,405.20 607.80,399.50 617.20,394.80 626.60,390.10 636.00,386.40 648.20,382.40" fill="none" stroke="rgb(170,90,40)" stroke-width="1.0" stroke-linejoin="round"/>
<polyline points="536.20,438.80 543.70,436.20 551.50,431.60 559.20,426.20 566.90,421.50 574.70,417.70 582.40,414.60 589.00,412.00 598.40,407.10 607.80,402.40 617.20,397.70 626.60,393.00 636.00,390.10 648.20,387.20" fill="none" stroke="rgb(40,140,90)" stroke-width="1.0" stroke-linejoin="round"/>
</g>
<line x1="583.13" y1="322.50" x2="583.13" y2="440.50" stroke="#111" stroke-width="0.9" stroke-dasharray="1.8,1.3"/>
<rect x="536.20" y="322.50" width="112.0" height="118.0" fill="none" stroke="#7a7a7a" stroke-width="0.9"/>
<path d="M536.20 440.50v2.2M572.30 440.50v2.2M608.40 440.50v2.2M644.50 440.50v2.2" stroke="#555" stroke-width="0.7" fill="none"/>
<text x="646.20" y="330.10" font-size="9" font-weight="bold" fill="#000" text-anchor="end" stroke="#000" stroke-width="0.12">l</text>
<text x="146" y="301.50" font-size="8.9" fill="#000" text-anchor="end" stroke="#000" stroke-width="0.12">0</text>
<text x="146" y="272.00" font-size="8.9" fill="#000" text-anchor="end" stroke="#000" stroke-width="0.12">200</text>
<text x="146" y="242.50" font-size="8.9" fill="#000" text-anchor="end" stroke="#000" stroke-width="0.12">400</text>
<text x="146" y="213.00" font-size="8.9" fill="#000" text-anchor="end" stroke="#000" stroke-width="0.12">600</text>
<text x="146" y="443.50" font-size="8.9" fill="#000" text-anchor="end" stroke="#000" stroke-width="0.12">0</text>
<text x="146" y="422.50" font-size="8.9" fill="#000" text-anchor="end" stroke="#000" stroke-width="0.12">250</text>
<text x="146" y="401.50" font-size="8.9" fill="#000" text-anchor="end" stroke="#000" stroke-width="0.12">500</text>
<text x="146" y="380.50" font-size="8.9" fill="#000" text-anchor="end" stroke="#000" stroke-width="0.12">750</text>
<text x="146" y="359.50" font-size="8.9" fill="#000" text-anchor="end" stroke="#000" stroke-width="0.12">1000</text>
<text x="146" y="338.50" font-size="8.9" fill="#000" text-anchor="end" stroke="#000" stroke-width="0.12">1250</text>
<text x="149.40" y="450" font-size="8.7" fill="#000" text-anchor="middle" stroke="#000" stroke-width="0.12">0%</text>
<text x="185.50" y="450" font-size="8.7" fill="#000" text-anchor="middle" stroke="#000" stroke-width="0.12">10%</text>
<text x="221.60" y="450" font-size="8.7" fill="#000" text-anchor="middle" stroke="#000" stroke-width="0.12">20%</text>
<text x="257.70" y="450" font-size="8.7" fill="#000" text-anchor="middle" stroke="#000" stroke-width="0.12">30%</text>
<text x="278.20" y="450" font-size="8.7" fill="#000" text-anchor="middle" stroke="#000" stroke-width="0.12">0%</text>
<text x="314.30" y="450" font-size="8.7" fill="#000" text-anchor="middle" stroke="#000" stroke-width="0.12">10%</text>
<text x="350.40" y="450" font-size="8.7" fill="#000" text-anchor="middle" stroke="#000" stroke-width="0.12">20%</text>
<text x="386.50" y="450" font-size="8.7" fill="#000" text-anchor="middle" stroke="#000" stroke-width="0.12">30%</text>
<text x="407.30" y="450" font-size="8.7" fill="#000" text-anchor="middle" stroke="#000" stroke-width="0.12">0%</text>
<text x="443.40" y="450" font-size="8.7" fill="#000" text-anchor="middle" stroke="#000" stroke-width="0.12">10%</text>
<text x="479.50" y="450" font-size="8.7" fill="#000" text-anchor="middle" stroke="#000" stroke-width="0.12">20%</text>
<text x="515.60" y="450" font-size="8.7" fill="#000" text-anchor="middle" stroke="#000" stroke-width="0.12">30%</text>
<text x="536.20" y="450" font-size="8.7" fill="#000" text-anchor="middle" stroke="#000" stroke-width="0.12">0%</text>
<text x="572.30" y="450" font-size="8.7" fill="#000" text-anchor="middle" stroke="#000" stroke-width="0.12">10%</text>
<text x="608.40" y="450" font-size="8.7" fill="#000" text-anchor="middle" stroke="#000" stroke-width="0.12">20%</text>
<text x="644.50" y="450" font-size="8.7" fill="#000" text-anchor="middle" stroke="#000" stroke-width="0.12">30%</text>
<text transform="translate(117.4,239.5) rotate(-90)" font-size="9.6" fill="#000" text-anchor="middle" stroke="#000" stroke-width="0.12">EW CDR (GtCO<tspan font-size="6.8" dy="1.6">2</tspan><tspan dy="-1.6">)</tspan></text>
<text transform="translate(127.0,239.5) rotate(-90)" font-size="9.6" fill="#000" text-anchor="middle" textLength="55.5" lengthAdjust="spacingAndGlyphs" stroke="#000" stroke-width="0.12">(2020-2100)</text>
<text transform="translate(112.4,383.1) rotate(-90)" font-size="9.8" fill="#000" text-anchor="middle" textLength="82.2" lengthAdjust="spacingAndGlyphs" stroke="#000" stroke-width="0.12">Basalt applied (Gt)</text>
<text transform="translate(121.6,381.6) rotate(-90)" font-size="9.8" fill="#000" text-anchor="middle" textLength="55.4" lengthAdjust="spacingAndGlyphs" stroke="#000" stroke-width="0.12">(2020-2100)</text>
<text x="203.6" y="193.8" font-size="7.6" fill="#000" textLength="47.1" lengthAdjust="spacingAndGlyphs" stroke="#000" stroke-width="0.12">Median value:</text>
<text x="203.6" y="203" font-size="7.6" fill="#000" stroke="#000" stroke-width="0.12">13%. year<tspan font-size="5.4" dy="-3">−1</tspan></text>
<line x1="203.1" y1="205" x2="196.3" y2="223.2" stroke="#000" stroke-width="0.9"/>
<text x="375.2" y="465.5" font-size="9.8" fill="#000" text-anchor="middle" textLength="71.3" lengthAdjust="spacingAndGlyphs" stroke="#000" stroke-width="0.12">Weathering rate</text>
<text x="376.3" y="476.9" font-size="10" fill="#000" text-anchor="middle" stroke="#000" stroke-width="0.12">%. year<tspan font-size="7" dx="0.6" dy="-3.8">−1</tspan></text>
<rect x="339.4" y="485.6" width="74.6" height="24.8" rx="1.5" fill="#fff" stroke="#d8d8d8" stroke-width="0.8"/>
<rect x="342.1" y="488.9" width="15.9" height="5.9" fill="rgb(40,140,90)" fill-opacity="0.26"/>
<rect x="342.1" y="500.1" width="15.9" height="5.9" fill="rgb(170,90,40)" fill-opacity="0.26"/>
<text x="363.9" y="494.8" font-size="8.1" fill="#222" textLength="46.9" lengthAdjust="spacingAndGlyphs" stroke="#222" stroke-width="0.12">EW on CL+F</text>
<text x="363.9" y="505.9" font-size="8.1" fill="#222" stroke="#222" stroke-width="0.12">EW on CL</text>
</svg></body></html>
